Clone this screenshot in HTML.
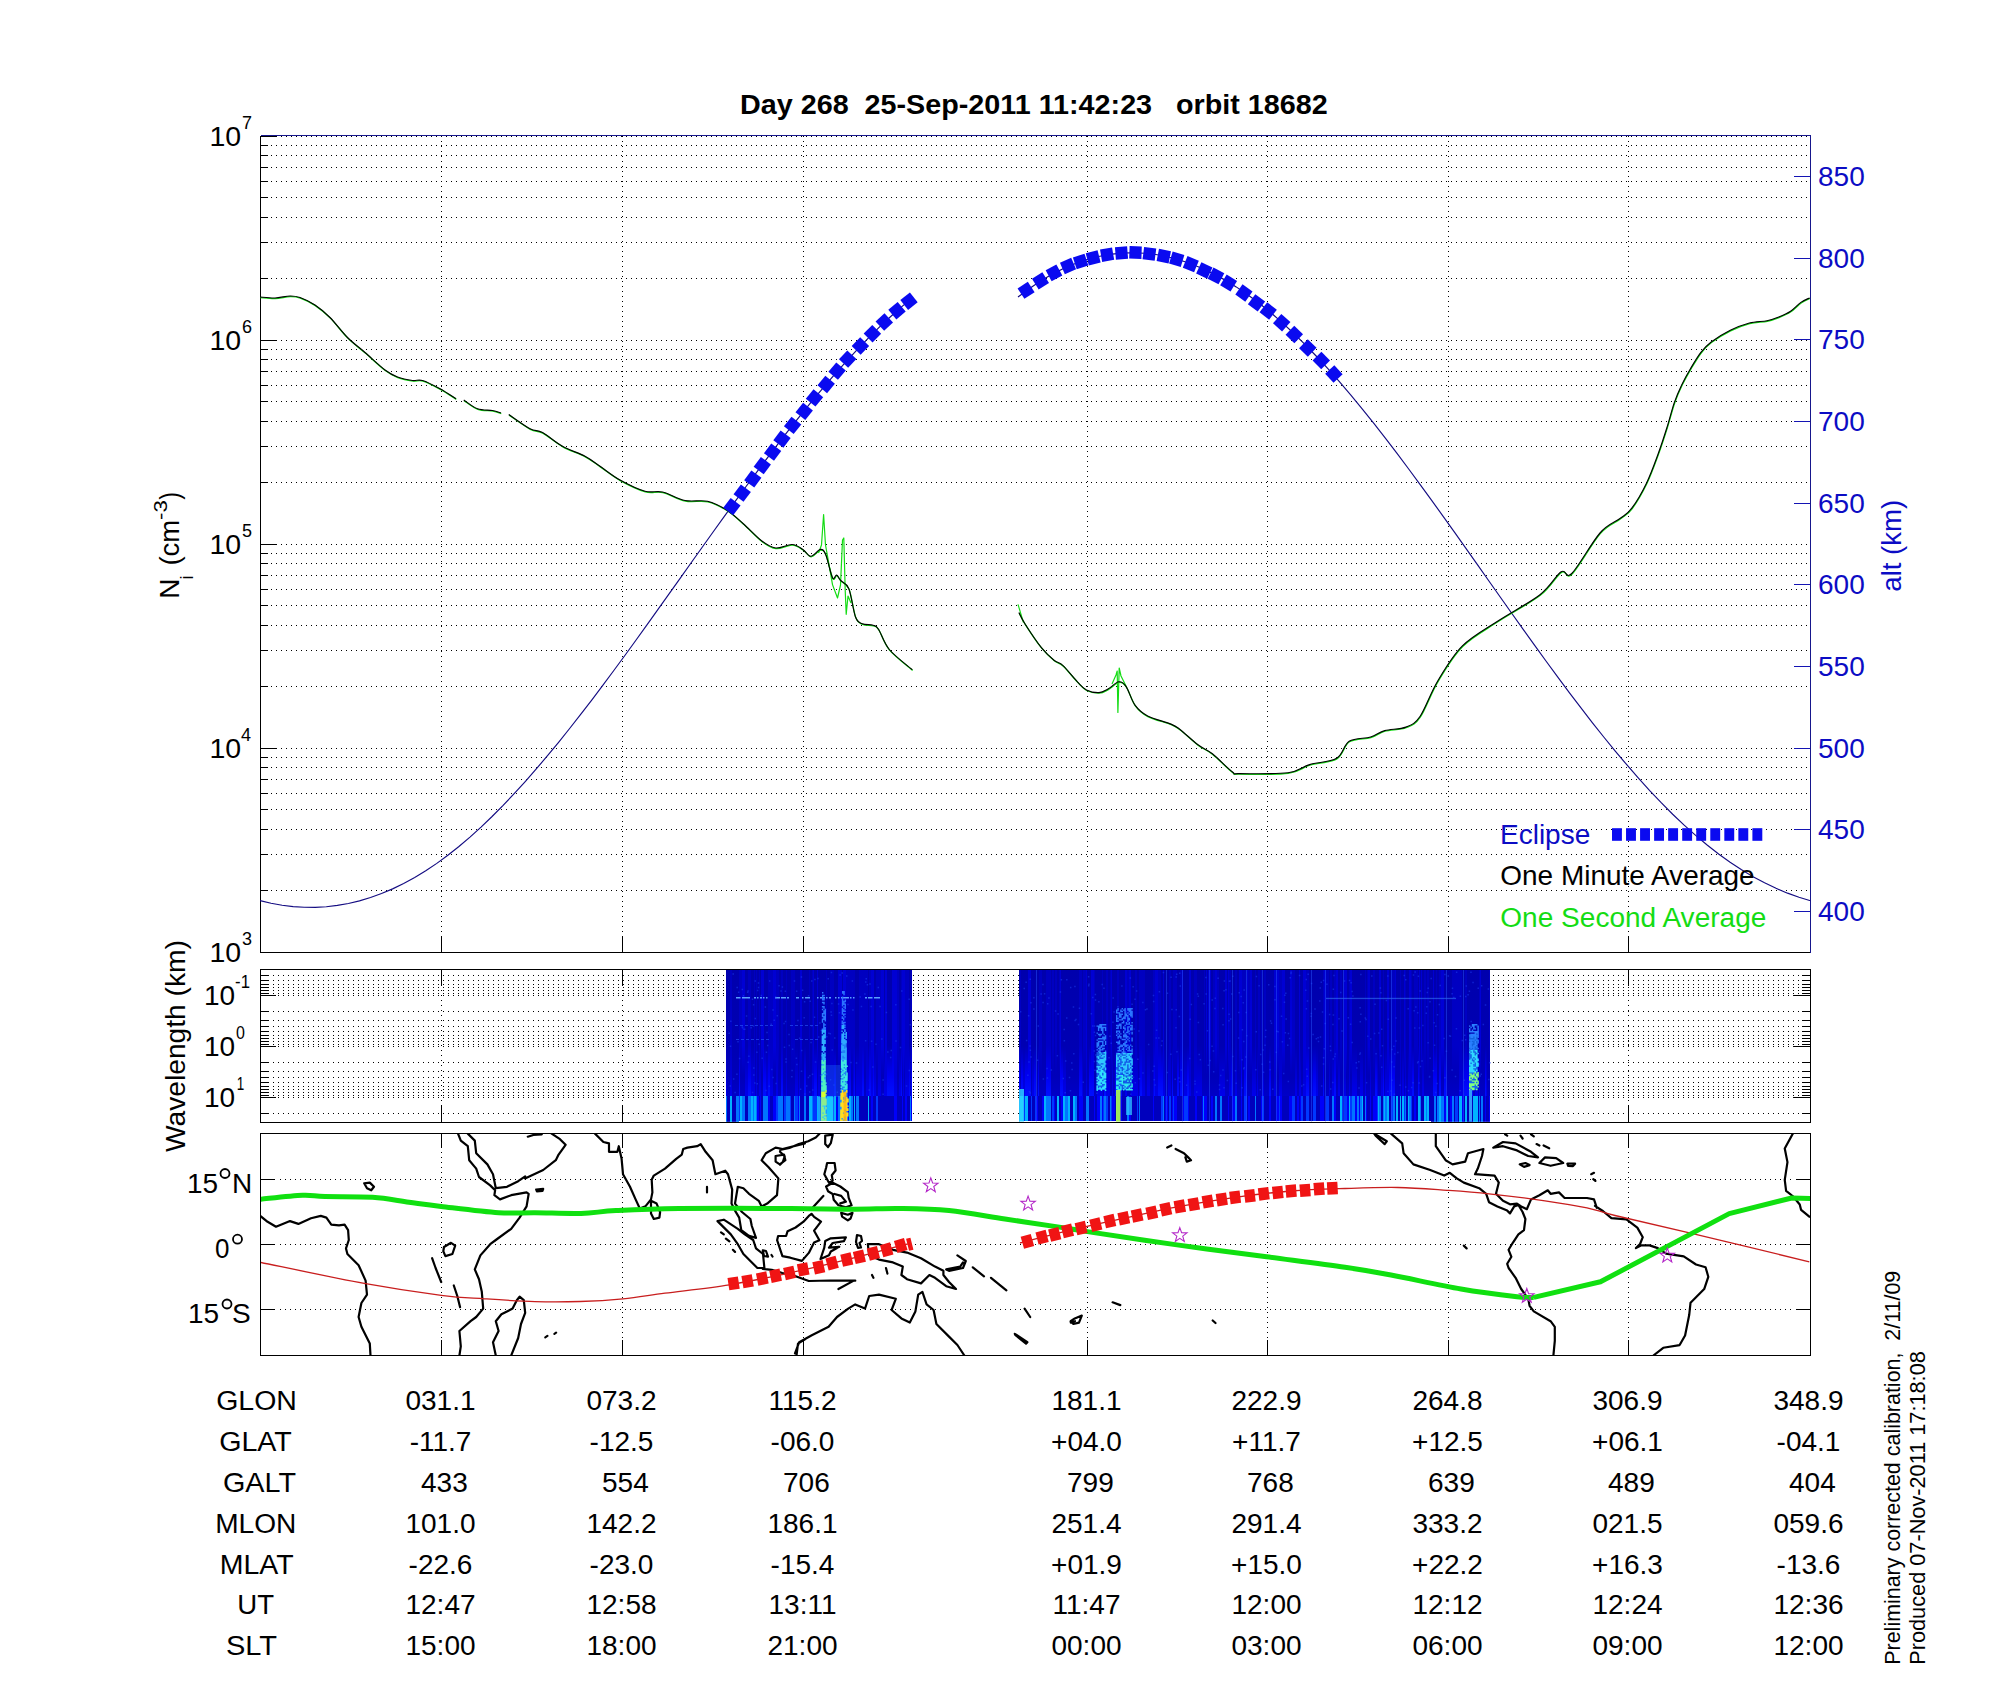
<!DOCTYPE html>
<html><head><meta charset="utf-8"><style>html,body{margin:0;padding:0;background:#fff;}svg{display:block;}</style></head><body>
<svg width="2000" height="1700" viewBox="0 0 2000 1700" font-family="Liberation Sans, sans-serif">
<rect width="2000" height="1700" fill="#fff"/>
<path d="M261 890.5 H1809 M261 854.5 H1809 M261 829.5 H1809 M261 809.5 H1809 M261 793.5 H1809 M261 779.5 H1809 M261 767.5 H1809 M261 757.5 H1809 M261 748.5 H1809 M261 686.5 H1809 M261 650.5 H1809 M261 625.5 H1809 M261 605.5 H1809 M261 589.5 H1809 M261 575.5 H1809 M261 563.5 H1809 M261 553.5 H1809 M261 544.5 H1809 M261 482.5 H1809 M261 446.5 H1809 M261 421.5 H1809 M261 401.5 H1809 M261 385.5 H1809 M261 371.5 H1809 M261 359.5 H1809 M261 349.5 H1809 M261 340.5 H1809 M261 278.5 H1809 M261 242.5 H1809 M261 217.5 H1809 M261 197.5 H1809 M261 181.5 H1809 M261 167.5 H1809 M261 155.5 H1809 M261 145.5 H1809 M261 136.5 H1809" stroke="#000" stroke-width="1" stroke-dasharray="1 4" fill="none" shape-rendering="crispEdges"/>
<path d="M441.5 136 V936 M622.5 136 V936 M803.5 136 V936 M1087.5 136 V936 M1267.5 136 V936 M1448.5 136 V936 M1628.5 136 V936" stroke="#000" stroke-width="1" stroke-dasharray="1 4" fill="none" shape-rendering="crispEdges"/>
<path d="M260 890.5 h8 M260 854.5 h8 M260 829.5 h8 M260 809.5 h8 M260 793.5 h8 M260 779.5 h8 M260 767.5 h8 M260 757.5 h8 M260 748.5 h16 M260 686.5 h8 M260 650.5 h8 M260 625.5 h8 M260 605.5 h8 M260 589.5 h8 M260 575.5 h8 M260 563.5 h8 M260 553.5 h8 M260 544.5 h16 M260 482.5 h8 M260 446.5 h8 M260 421.5 h8 M260 401.5 h8 M260 385.5 h8 M260 371.5 h8 M260 359.5 h8 M260 349.5 h8 M260 340.5 h16 M260 278.5 h8 M260 242.5 h8 M260 217.5 h8 M260 197.5 h8 M260 181.5 h8 M260 167.5 h8 M260 155.5 h8 M260 145.5 h8 M260 136.5 h16 M260 952.5 h16 M441.5 952 v-16 M622.5 952 v-16 M803.5 952 v-16 M1087.5 952 v-16 M1267.5 952 v-16 M1448.5 952 v-16 M1628.5 952 v-16" stroke="#000" stroke-width="1" fill="none" shape-rendering="crispEdges"/>
<path d="M1811 176.5 h-17 M1811 258.5 h-17 M1811 339.5 h-17 M1811 421.5 h-17 M1811 503.5 h-17 M1811 584.5 h-17 M1811 666.5 h-17 M1811 748.5 h-17 M1811 829.5 h-17 M1811 911.5 h-17" stroke="#1414b4" stroke-width="1" fill="none" shape-rendering="crispEdges"/>
<path d="M260.5 952.5 V135.5 M260.5 952.5 H1810.5" stroke="#000" stroke-width="1" fill="none" shape-rendering="crispEdges"/>
<path d="M260.5 135.5 H1810.5 V952.5" stroke="#16168c" stroke-width="1" fill="none" shape-rendering="crispEdges"/>
<path d="M260 900.57 L271.05 903.23 L282.1 905.24 L293.15 906.6 L304.2 907.3 L315.25 907.33 L326.31 906.71 L337.36 905.42 L348.41 903.46 L359.46 900.83 L370.51 897.52 L381.56 893.54 L392.61 888.88 L403.66 883.54 L414.71 877.52 L425.76 870.8 L436.81 863.4 L447.86 855.31 L458.92 846.54 L469.97 837.12 L481.02 827.1 L492.07 816.5 L503.12 805.35 L514.17 793.68 L525.22 781.53 L536.27 768.93 L547.32 755.91 L558.37 742.51 L569.42 728.75 L580.47 714.66 L591.53 700.28 L602.58 685.64 L613.63 670.78 L624.68 655.72 L635.73 640.49 L646.78 625.13 L657.83 609.68 L668.88 594.15 L679.93 578.59 L690.98 563.02 L702.03 547.48 L713.08 532 L724.14 516.61 L735.19 501.35 L746.24 486.24 L757.29 471.31 L768.34 456.6 L779.39 442.13 L790.44 427.93 L801.49 414.03 L812.54 400.47 L823.59 387.26 L834.64 374.45 L845.69 362.06 L856.75 350.11 L867.8 338.65 L878.85 327.69 L889.9 317.28 L900.95 307.43 L912 298.18" stroke="#140c82" stroke-width="1.15" fill="none"/>
<path d="M1018 297.07 L1029.49 288.47 L1040.97 280.82 L1052.46 274.12 L1063.94 268.35 L1075.43 263.5 L1086.91 259.56 L1098.4 256.52 L1109.88 254.38 L1121.37 253.12 L1132.86 252.73 L1144.34 253.21 L1155.83 254.54 L1167.31 256.71 L1178.8 259.71 L1190.28 263.54 L1201.77 268.18 L1213.25 273.63 L1224.74 279.87 L1236.22 286.89 L1247.71 294.69 L1259.2 303.25 L1270.68 312.56 L1282.17 322.57 L1293.65 333.26 L1305.14 344.59 L1316.62 356.5 L1328.11 368.98 L1339.59 381.98 L1351.08 395.46 L1362.57 409.38 L1374.05 423.71 L1385.54 438.4 L1397.02 453.43 L1408.51 468.75 L1419.99 484.32 L1431.48 500.11 L1442.96 516.07 L1454.45 532.18 L1465.93 548.39 L1477.42 564.66 L1488.91 580.96 L1500.39 597.24 L1511.88 613.48 L1523.36 629.62 L1534.85 645.64 L1546.33 661.5 L1557.82 677.16 L1569.3 692.57 L1580.79 707.71 L1592.28 722.53 L1603.76 736.99 L1615.25 751.07 L1626.73 764.71 L1638.22 777.89 L1649.7 790.56 L1661.19 802.68 L1672.67 814.23 L1684.16 825.15 L1695.64 835.42 L1707.13 845.02 L1718.62 853.94 L1730.1 862.19 L1741.59 869.75 L1753.07 876.64 L1764.56 882.84 L1776.04 888.35 L1787.53 893.16 L1799.01 897.28 L1810.5 900.71" stroke="#140c82" stroke-width="1.15" fill="none"/>
<path d="M260 297 C262.5 297.17 270 298.17 275 298 C280 297.83 285.83 296.08 290 296 C294.17 295.92 295.83 296 300 297.5 C304.17 299 310 301.67 315 305 C320 308.33 324.58 312.08 330 317.5 C335.42 322.92 341.67 331.67 347.5 337.5 C353.33 343.33 358.75 347.08 365 352.5 C371.25 357.92 379.58 365.92 385 370 C390.42 374.08 392.92 375.25 397.5 377 C402.08 378.75 408.33 379.92 412.5 380.5 C416.67 381.08 417.92 379.12 422.5 380.5 C427.08 381.88 434.42 385.71 440 388.75 C445.58 391.79 453.33 397.08 456 398.75" stroke="#14dc14" stroke-width="1.3" fill="none" transform="translate(0.3 0.6)"/>
<path d="M463.75 400 C466.04 401.46 472.71 407 477.5 408.75 C482.29 410.5 488.58 409.79 492.5 410.5 C496.42 411.21 499.58 412.58 501 413" stroke="#14dc14" stroke-width="1.3" fill="none" transform="translate(0.3 0.6)"/>
<path d="M508.75 414.5 C512.29 416.88 524.38 425.75 530 428.75 C535.62 431.75 537.08 429.58 542.5 432.5 C547.92 435.42 555.42 442.29 562.5 446.25 C569.58 450.21 578.75 452.92 585 456.25 C591.25 459.58 594.17 462.29 600 466.25 C605.83 470.21 612.5 475.83 620 480 C627.5 484.17 637.92 489.25 645 491.25 C652.08 493.25 655.83 490.46 662.5 492 C669.17 493.54 677.5 498.96 685 500.5 C692.5 502.04 700.5 499.63 707.5 501.25 C714.5 502.87 721.03 506.46 727 510.2 C732.97 513.94 737.43 518.52 743.3 523.7 C749.17 528.88 756.8 537.25 762.2 541.3 C767.6 545.35 770.73 547.47 775.7 548 C780.67 548.53 787.48 544.27 792 544.5 C796.52 544.73 799.65 547.45 802.8 549.4 C805.95 551.35 807.97 556.2 810.9 556.2 C813.83 556.2 817.92 549.63 820.4 549.4 C822.88 549.17 823.78 550.07 825.8 554.8 C827.82 559.53 830.7 574.42 832.5 577.8 C834.3 581.18 835.23 574.65 836.6 575.1 C837.97 575.55 838.67 578.25 840.7 580.5 C842.73 582.75 846.33 582.52 848.8 588.6 C851.27 594.68 853.25 611.13 855.5 617 C857.75 622.87 859.37 622.43 862.3 623.8 C865.23 625.17 870.4 624.3 873.1 625.2 C875.8 626.1 875.8 625.15 878.5 629.2 C881.2 633.25 883.67 642.73 889.3 649.5 C894.93 656.27 908.47 666.42 912.3 669.8" stroke="#14dc14" stroke-width="1.3" fill="none" transform="translate(0.3 0.6)"/>
<path d="M1018.9 612.5 C1019.95 614.45 1021.45 618.35 1025.2 624.2 C1028.95 630.05 1036.6 641.6 1041.4 647.6 C1046.2 653.6 1050.4 657.2 1054 660.2 C1057.6 663.2 1059.1 662 1063 665.6 C1066.9 669.2 1073.5 677.75 1077.4 681.8 C1081.3 685.85 1082.8 688.1 1086.4 689.9 C1090 691.7 1095.4 692.75 1099 692.6 C1102.6 692.45 1104.7 690.8 1108 689 C1111.3 687.2 1115.8 682.25 1118.8 681.8 C1121.8 681.35 1123.3 682.4 1126 686.3 C1128.7 690.2 1131.4 700.25 1135 705.2 C1138.6 710.15 1141.6 712.85 1147.6 716 C1153.6 719.15 1165.6 721.85 1171 724.1 C1176.4 726.35 1175.5 726.05 1180 729.5 C1184.5 732.95 1192.6 740.75 1198 744.8 C1203.4 748.85 1206.7 749.3 1212.4 753.8 C1218.1 758.3 1227.7 768.5 1232.2 771.8 C1236.7 775.1 1230.1 773.45 1239.4 773.6 C1248.7 773.75 1276.3 774.2 1288 772.7 C1299.7 771.2 1301.5 767 1309.6 764.6 C1317.7 762.2 1330 762.2 1336.6 758.3 C1343.2 754.4 1343.53 744.75 1349.2 741.2 C1354.87 737.65 1364.68 738.77 1370.6 737 C1376.52 735.23 1378.82 732.25 1384.7 730.6 C1390.58 728.95 1400.02 729.45 1405.9 727.1 C1411.78 724.75 1414.72 724.15 1420 716.5 C1425.28 708.85 1430.53 692.97 1437.6 681.2 C1444.67 669.43 1452.4 655.9 1462.4 645.9 C1472.4 635.9 1484.67 629.73 1497.6 621.2 C1510.53 612.67 1529.4 602.93 1540 594.7 C1550.6 586.47 1555.9 575.33 1561.2 571.8 C1566.5 568.27 1565.33 579.97 1571.8 573.5 C1578.27 567.03 1591.97 542.17 1600 533 C1608.03 523.83 1614.7 522.63 1620 518.5 C1625.3 514.37 1627.38 514.08 1631.8 508.2 C1636.22 502.32 1642.1 492.27 1646.5 483.2 C1650.9 474.13 1654.78 463.1 1658.2 453.8 C1661.62 444.5 1664.3 435.97 1667 427.4 C1669.7 418.83 1671.93 409.52 1674.4 402.4 C1676.87 395.28 1679.1 390.35 1681.8 384.7 C1684.5 379.05 1687.42 373.88 1690.6 368.5 C1693.78 363.12 1697.47 356.82 1700.9 352.4 C1704.33 347.98 1706.3 345.68 1711.2 342 C1716.1 338.32 1723.93 333.47 1730.3 330.3 C1736.67 327.13 1743.28 324.6 1749.4 323 C1755.52 321.4 1762.1 321.7 1767 320.7 C1771.9 319.7 1774.87 318.58 1778.8 317 C1782.73 315.42 1786.92 313.63 1790.6 311.2 C1794.28 308.77 1797.72 304.62 1800.9 302.4 C1804.08 300.18 1808.23 298.65 1809.7 297.9" stroke="#14dc14" stroke-width="1.3" fill="none" transform="translate(0.3 0.6)"/>
<path d="M818.5 553 L821.5 545 L823.6 514.5 L825.5 545 L827.5 556 L832.5 584.6 L837.5 598 L840.5 585 L842.5 540 L843.8 538 L845.2 590 L846.2 614.3 L848 596 L851 603" stroke="#14dc14" stroke-width="1.2" fill="none" stroke-linejoin="round"/>
<path d="M1018 604.4 L1023.4 622.4" stroke="#14dc14" stroke-width="1.2" fill="none" stroke-linejoin="round"/>
<path d="M1112 684 L1116 675 L1117.2 671 L1117.9 712.4 L1119.2 668 L1121 676 L1126 686" stroke="#14dc14" stroke-width="1.2" fill="none" stroke-linejoin="round"/>
<path d="M260 297 C262.5 297.17 270 298.17 275 298 C280 297.83 285.83 296.08 290 296 C294.17 295.92 295.83 296 300 297.5 C304.17 299 310 301.67 315 305 C320 308.33 324.58 312.08 330 317.5 C335.42 322.92 341.67 331.67 347.5 337.5 C353.33 343.33 358.75 347.08 365 352.5 C371.25 357.92 379.58 365.92 385 370 C390.42 374.08 392.92 375.25 397.5 377 C402.08 378.75 408.33 379.92 412.5 380.5 C416.67 381.08 417.92 379.12 422.5 380.5 C427.08 381.88 434.42 385.71 440 388.75 C445.58 391.79 453.33 397.08 456 398.75" stroke="#000" stroke-width="1.15" fill="none"/>
<path d="M463.75 400 C466.04 401.46 472.71 407 477.5 408.75 C482.29 410.5 488.58 409.79 492.5 410.5 C496.42 411.21 499.58 412.58 501 413" stroke="#000" stroke-width="1.15" fill="none"/>
<path d="M508.75 414.5 C512.29 416.88 524.38 425.75 530 428.75 C535.62 431.75 537.08 429.58 542.5 432.5 C547.92 435.42 555.42 442.29 562.5 446.25 C569.58 450.21 578.75 452.92 585 456.25 C591.25 459.58 594.17 462.29 600 466.25 C605.83 470.21 612.5 475.83 620 480 C627.5 484.17 637.92 489.25 645 491.25 C652.08 493.25 655.83 490.46 662.5 492 C669.17 493.54 677.5 498.96 685 500.5 C692.5 502.04 700.5 499.63 707.5 501.25 C714.5 502.87 721.03 506.46 727 510.2 C732.97 513.94 737.43 518.52 743.3 523.7 C749.17 528.88 756.8 537.25 762.2 541.3 C767.6 545.35 770.73 547.47 775.7 548 C780.67 548.53 787.48 544.27 792 544.5 C796.52 544.73 799.65 547.45 802.8 549.4 C805.95 551.35 807.97 556.2 810.9 556.2 C813.83 556.2 817.92 549.63 820.4 549.4 C822.88 549.17 823.78 550.07 825.8 554.8 C827.82 559.53 830.7 574.42 832.5 577.8 C834.3 581.18 835.23 574.65 836.6 575.1 C837.97 575.55 838.67 578.25 840.7 580.5 C842.73 582.75 846.33 582.52 848.8 588.6 C851.27 594.68 853.25 611.13 855.5 617 C857.75 622.87 859.37 622.43 862.3 623.8 C865.23 625.17 870.4 624.3 873.1 625.2 C875.8 626.1 875.8 625.15 878.5 629.2 C881.2 633.25 883.67 642.73 889.3 649.5 C894.93 656.27 908.47 666.42 912.3 669.8" stroke="#000" stroke-width="1.15" fill="none"/>
<path d="M1018.9 612.5 C1019.95 614.45 1021.45 618.35 1025.2 624.2 C1028.95 630.05 1036.6 641.6 1041.4 647.6 C1046.2 653.6 1050.4 657.2 1054 660.2 C1057.6 663.2 1059.1 662 1063 665.6 C1066.9 669.2 1073.5 677.75 1077.4 681.8 C1081.3 685.85 1082.8 688.1 1086.4 689.9 C1090 691.7 1095.4 692.75 1099 692.6 C1102.6 692.45 1104.7 690.8 1108 689 C1111.3 687.2 1115.8 682.25 1118.8 681.8 C1121.8 681.35 1123.3 682.4 1126 686.3 C1128.7 690.2 1131.4 700.25 1135 705.2 C1138.6 710.15 1141.6 712.85 1147.6 716 C1153.6 719.15 1165.6 721.85 1171 724.1 C1176.4 726.35 1175.5 726.05 1180 729.5 C1184.5 732.95 1192.6 740.75 1198 744.8 C1203.4 748.85 1206.7 749.3 1212.4 753.8 C1218.1 758.3 1227.7 768.5 1232.2 771.8 C1236.7 775.1 1230.1 773.45 1239.4 773.6 C1248.7 773.75 1276.3 774.2 1288 772.7 C1299.7 771.2 1301.5 767 1309.6 764.6 C1317.7 762.2 1330 762.2 1336.6 758.3 C1343.2 754.4 1343.53 744.75 1349.2 741.2 C1354.87 737.65 1364.68 738.77 1370.6 737 C1376.52 735.23 1378.82 732.25 1384.7 730.6 C1390.58 728.95 1400.02 729.45 1405.9 727.1 C1411.78 724.75 1414.72 724.15 1420 716.5 C1425.28 708.85 1430.53 692.97 1437.6 681.2 C1444.67 669.43 1452.4 655.9 1462.4 645.9 C1472.4 635.9 1484.67 629.73 1497.6 621.2 C1510.53 612.67 1529.4 602.93 1540 594.7 C1550.6 586.47 1555.9 575.33 1561.2 571.8 C1566.5 568.27 1565.33 579.97 1571.8 573.5 C1578.27 567.03 1591.97 542.17 1600 533 C1608.03 523.83 1614.7 522.63 1620 518.5 C1625.3 514.37 1627.38 514.08 1631.8 508.2 C1636.22 502.32 1642.1 492.27 1646.5 483.2 C1650.9 474.13 1654.78 463.1 1658.2 453.8 C1661.62 444.5 1664.3 435.97 1667 427.4 C1669.7 418.83 1671.93 409.52 1674.4 402.4 C1676.87 395.28 1679.1 390.35 1681.8 384.7 C1684.5 379.05 1687.42 373.88 1690.6 368.5 C1693.78 363.12 1697.47 356.82 1700.9 352.4 C1704.33 347.98 1706.3 345.68 1711.2 342 C1716.1 338.32 1723.93 333.47 1730.3 330.3 C1736.67 327.13 1743.28 324.6 1749.4 323 C1755.52 321.4 1762.1 321.7 1767 320.7 C1771.9 319.7 1774.87 318.58 1778.8 317 C1782.73 315.42 1786.92 313.63 1790.6 311.2 C1794.28 308.77 1797.72 304.62 1800.9 302.4 C1804.08 300.18 1808.23 298.65 1809.7 297.9" stroke="#000" stroke-width="1.15" fill="none"/>
<g fill="#0a0af0"><rect x="725.8" y="500.35" width="12.2" height="12.5" transform="rotate(-52.45 731.9 506.6)"/><rect x="736.1" y="486.95" width="12.2" height="12.5" transform="rotate(-52.87 742.2 493.2)"/><rect x="746.7" y="472.75" width="12.2" height="12.5" transform="rotate(-53.94 752.8 479)"/><rect x="756.2" y="459.35" width="12.2" height="12.5" transform="rotate(-53.54 762.3 465.6)"/><rect x="766.5" y="445.95" width="12.2" height="12.5" transform="rotate(-53.37 772.6 452.2)"/><rect x="775.9" y="432.85" width="12.2" height="12.5" transform="rotate(-53.27 782 439.1)"/><rect x="786.5" y="419.15" width="12.2" height="12.5" transform="rotate(-51.39 792.6 425.4)"/><rect x="798.1" y="405.05" width="12.2" height="12.5" transform="rotate(-51.47 804.2 411.3)"/><rect x="808.4" y="391.65" width="12.2" height="12.5" transform="rotate(-50.62 814.5 397.9)"/><rect x="820.1" y="378.25" width="12.2" height="12.5" transform="rotate(-49.86 826.2 384.5)"/><rect x="831" y="364.85" width="12.2" height="12.5" transform="rotate(-49.75 837.1 371.1)"/><rect x="841.6" y="352.85" width="12.2" height="12.5" transform="rotate(-47.13 847.7 359.1)"/><rect x="854.3" y="339.75" width="12.2" height="12.5" transform="rotate(-45.8 860.4 346)"/><rect x="866.3" y="327.45" width="12.2" height="12.5" transform="rotate(-45.12 872.4 333.7)"/><rect x="878.2" y="315.75" width="12.2" height="12.5" transform="rotate(-43.07 884.3 322)"/><rect x="890.9" y="304.45" width="12.2" height="12.5" transform="rotate(-40.1 897 310.7)"/><rect x="902.9" y="294.95" width="12.2" height="12.5" transform="rotate(-38.37 909 301.2)"/></g>
<g fill="#0a0af0"><rect x="1020" y="284.05" width="12.2" height="12.5" transform="rotate(-33.14 1026.1 290.3)"/><rect x="1034.4" y="274.65" width="12.2" height="12.5" transform="rotate(-32.1 1040.5 280.9)"/><rect x="1047.9" y="266.55" width="12.2" height="12.5" transform="rotate(-28.45 1054 272.8)"/><rect x="1061.9" y="259.75" width="12.2" height="12.5" transform="rotate(-23.02 1068 266)"/><rect x="1074.5" y="255.25" width="12.2" height="12.5" transform="rotate(-17.82 1080.6 261.5)"/><rect x="1087.1" y="251.65" width="12.2" height="12.5" transform="rotate(-14.39 1093.2 257.9)"/><rect x="1101" y="248.45" width="12.2" height="12.5" transform="rotate(-9.82 1107.1 254.7)"/><rect x="1115.4" y="246.75" width="12.2" height="12.5" transform="rotate(-4.43 1121.5 253)"/><rect x="1129.4" y="246.25" width="12.2" height="12.5" transform="rotate(1.85 1135.5 252.5)"/><rect x="1143.3" y="247.65" width="12.2" height="12.5" transform="rotate(7.25 1149.4 253.9)"/><rect x="1157.7" y="249.85" width="12.2" height="12.5" transform="rotate(11.19 1163.8 256.1)"/><rect x="1170.6" y="253.05" width="12.2" height="12.5" transform="rotate(16.7 1176.7 259.3)"/><rect x="1184.7" y="257.95" width="12.2" height="12.5" transform="rotate(22.09 1190.8 264.2)"/><rect x="1198.2" y="264.25" width="12.2" height="12.5" transform="rotate(24.9 1204.3 270.5)"/><rect x="1209.9" y="269.65" width="12.2" height="12.5" transform="rotate(27.41 1216 275.9)"/><rect x="1222.5" y="276.85" width="12.2" height="12.5" transform="rotate(31.5 1228.6 283.1)"/><rect x="1237.8" y="286.75" width="12.2" height="12.5" transform="rotate(35.36 1243.9 293)"/><rect x="1250.4" y="296.65" width="12.2" height="12.5" transform="rotate(36.53 1256.5 302.9)"/><rect x="1262.1" y="304.75" width="12.2" height="12.5" transform="rotate(38.16 1268.2 311)"/><rect x="1275.6" y="316.45" width="12.2" height="12.5" transform="rotate(41.88 1281.7 322.7)"/><rect x="1288.2" y="328.15" width="12.2" height="12.5" transform="rotate(43.99 1294.3 334.4)"/><rect x="1301.7" y="341.65" width="12.2" height="12.5" transform="rotate(44.03 1307.8 347.9)"/><rect x="1315.2" y="354.25" width="12.2" height="12.5" transform="rotate(45 1321.3 360.5)"/><rect x="1327.8" y="367.75" width="12.2" height="12.5" transform="rotate(46.97 1333.9 374)"/></g>
<g fill="#0a0af0"><rect x="1612" y="828.2" width="9.9" height="12.6"/><rect x="1626.04" y="828.2" width="9.9" height="12.6"/><rect x="1640.08" y="828.2" width="9.9" height="12.6"/><rect x="1654.12" y="828.2" width="9.9" height="12.6"/><rect x="1668.16" y="828.2" width="9.9" height="12.6"/><rect x="1682.2" y="828.2" width="9.9" height="12.6"/><rect x="1696.24" y="828.2" width="9.9" height="12.6"/><rect x="1710.28" y="828.2" width="9.9" height="12.6"/><rect x="1724.32" y="828.2" width="9.9" height="12.6"/><rect x="1738.36" y="828.2" width="9.9" height="12.6"/><rect x="1752.4" y="828.2" width="9.9" height="12.6"/></g>
<defs><linearGradient id="g013" x1="0" y1="0" x2="0" y2="1"><stop offset="0" stop-color="#0000ad"/><stop offset="0.5" stop-color="#0000b3"/><stop offset="0.7" stop-color="#0000d5"/><stop offset="0.83" stop-color="#0000eb"/><stop offset="0.83" stop-color="#0075ff"/><stop offset="1" stop-color="#0075ff"/></linearGradient><linearGradient id="g000" x1="0" y1="0" x2="0" y2="1"><stop offset="0" stop-color="#0000ad"/><stop offset="0.5" stop-color="#0000b3"/><stop offset="0.7" stop-color="#0000b9"/><stop offset="0.83" stop-color="#0000c7"/><stop offset="0.83" stop-color="#0000bd"/><stop offset="1" stop-color="#0000bd"/></linearGradient><linearGradient id="g114" x1="0" y1="0" x2="0" y2="1"><stop offset="0" stop-color="#0000c0"/><stop offset="0.5" stop-color="#0000c7"/><stop offset="0.7" stop-color="#0000d5"/><stop offset="0.83" stop-color="#0000eb"/><stop offset="0.83" stop-color="#00b3ff"/><stop offset="1" stop-color="#00b3ff"/></linearGradient><linearGradient id="g003" x1="0" y1="0" x2="0" y2="1"><stop offset="0" stop-color="#0000ad"/><stop offset="0.5" stop-color="#0000b3"/><stop offset="0.7" stop-color="#0000b9"/><stop offset="0.83" stop-color="#0000c7"/><stop offset="0.83" stop-color="#0075ff"/><stop offset="1" stop-color="#0075ff"/></linearGradient><linearGradient id="g122" x1="0" y1="0" x2="0" y2="1"><stop offset="0" stop-color="#0000c0"/><stop offset="0.5" stop-color="#0000c7"/><stop offset="0.7" stop-color="#0000f2"/><stop offset="0.83" stop-color="#000fff"/><stop offset="0.83" stop-color="#0038ff"/><stop offset="1" stop-color="#0038ff"/></linearGradient><linearGradient id="g104" x1="0" y1="0" x2="0" y2="1"><stop offset="0" stop-color="#0000c0"/><stop offset="0.5" stop-color="#0000c7"/><stop offset="0.7" stop-color="#0000b9"/><stop offset="0.83" stop-color="#0000c7"/><stop offset="0.83" stop-color="#00b3ff"/><stop offset="1" stop-color="#00b3ff"/></linearGradient><linearGradient id="g203" x1="0" y1="0" x2="0" y2="1"><stop offset="0" stop-color="#0000d2"/><stop offset="0.5" stop-color="#0000db"/><stop offset="0.7" stop-color="#0000b9"/><stop offset="0.83" stop-color="#0000c7"/><stop offset="0.83" stop-color="#0075ff"/><stop offset="1" stop-color="#0075ff"/></linearGradient><linearGradient id="g010" x1="0" y1="0" x2="0" y2="1"><stop offset="0" stop-color="#0000ad"/><stop offset="0.5" stop-color="#0000b3"/><stop offset="0.7" stop-color="#0000d5"/><stop offset="0.83" stop-color="#0000eb"/><stop offset="0.83" stop-color="#0000bd"/><stop offset="1" stop-color="#0000bd"/></linearGradient><linearGradient id="g123" x1="0" y1="0" x2="0" y2="1"><stop offset="0" stop-color="#0000c0"/><stop offset="0.5" stop-color="#0000c7"/><stop offset="0.7" stop-color="#0000f2"/><stop offset="0.83" stop-color="#000fff"/><stop offset="0.83" stop-color="#0075ff"/><stop offset="1" stop-color="#0075ff"/></linearGradient><linearGradient id="g014" x1="0" y1="0" x2="0" y2="1"><stop offset="0" stop-color="#0000ad"/><stop offset="0.5" stop-color="#0000b3"/><stop offset="0.7" stop-color="#0000d5"/><stop offset="0.83" stop-color="#0000eb"/><stop offset="0.83" stop-color="#00b3ff"/><stop offset="1" stop-color="#00b3ff"/></linearGradient><linearGradient id="g004" x1="0" y1="0" x2="0" y2="1"><stop offset="0" stop-color="#0000ad"/><stop offset="0.5" stop-color="#0000b3"/><stop offset="0.7" stop-color="#0000b9"/><stop offset="0.83" stop-color="#0000c7"/><stop offset="0.83" stop-color="#00b3ff"/><stop offset="1" stop-color="#00b3ff"/></linearGradient><linearGradient id="g113" x1="0" y1="0" x2="0" y2="1"><stop offset="0" stop-color="#0000c0"/><stop offset="0.5" stop-color="#0000c7"/><stop offset="0.7" stop-color="#0000d5"/><stop offset="0.83" stop-color="#0000eb"/><stop offset="0.83" stop-color="#0075ff"/><stop offset="1" stop-color="#0075ff"/></linearGradient><linearGradient id="g001" x1="0" y1="0" x2="0" y2="1"><stop offset="0" stop-color="#0000ad"/><stop offset="0.5" stop-color="#0000b3"/><stop offset="0.7" stop-color="#0000b9"/><stop offset="0.83" stop-color="#0000c7"/><stop offset="0.83" stop-color="#0000fa"/><stop offset="1" stop-color="#0000fa"/></linearGradient><linearGradient id="g110" x1="0" y1="0" x2="0" y2="1"><stop offset="0" stop-color="#0000c0"/><stop offset="0.5" stop-color="#0000c7"/><stop offset="0.7" stop-color="#0000d5"/><stop offset="0.83" stop-color="#0000eb"/><stop offset="0.83" stop-color="#0000bd"/><stop offset="1" stop-color="#0000bd"/></linearGradient><linearGradient id="g011" x1="0" y1="0" x2="0" y2="1"><stop offset="0" stop-color="#0000ad"/><stop offset="0.5" stop-color="#0000b3"/><stop offset="0.7" stop-color="#0000d5"/><stop offset="0.83" stop-color="#0000eb"/><stop offset="0.83" stop-color="#0000fa"/><stop offset="1" stop-color="#0000fa"/></linearGradient><linearGradient id="g200" x1="0" y1="0" x2="0" y2="1"><stop offset="0" stop-color="#0000d2"/><stop offset="0.5" stop-color="#0000db"/><stop offset="0.7" stop-color="#0000b9"/><stop offset="0.83" stop-color="#0000c7"/><stop offset="0.83" stop-color="#0000bd"/><stop offset="1" stop-color="#0000bd"/></linearGradient><linearGradient id="g223" x1="0" y1="0" x2="0" y2="1"><stop offset="0" stop-color="#0000d2"/><stop offset="0.5" stop-color="#0000db"/><stop offset="0.7" stop-color="#0000f2"/><stop offset="0.83" stop-color="#000fff"/><stop offset="0.83" stop-color="#0075ff"/><stop offset="1" stop-color="#0075ff"/></linearGradient><linearGradient id="g023" x1="0" y1="0" x2="0" y2="1"><stop offset="0" stop-color="#0000ad"/><stop offset="0.5" stop-color="#0000b3"/><stop offset="0.7" stop-color="#0000f2"/><stop offset="0.83" stop-color="#000fff"/><stop offset="0.83" stop-color="#0075ff"/><stop offset="1" stop-color="#0075ff"/></linearGradient><linearGradient id="g121" x1="0" y1="0" x2="0" y2="1"><stop offset="0" stop-color="#0000c0"/><stop offset="0.5" stop-color="#0000c7"/><stop offset="0.7" stop-color="#0000f2"/><stop offset="0.83" stop-color="#000fff"/><stop offset="0.83" stop-color="#0000fa"/><stop offset="1" stop-color="#0000fa"/></linearGradient><linearGradient id="g201" x1="0" y1="0" x2="0" y2="1"><stop offset="0" stop-color="#0000d2"/><stop offset="0.5" stop-color="#0000db"/><stop offset="0.7" stop-color="#0000b9"/><stop offset="0.83" stop-color="#0000c7"/><stop offset="0.83" stop-color="#0000fa"/><stop offset="1" stop-color="#0000fa"/></linearGradient><linearGradient id="g112" x1="0" y1="0" x2="0" y2="1"><stop offset="0" stop-color="#0000c0"/><stop offset="0.5" stop-color="#0000c7"/><stop offset="0.7" stop-color="#0000d5"/><stop offset="0.83" stop-color="#0000eb"/><stop offset="0.83" stop-color="#0038ff"/><stop offset="1" stop-color="#0038ff"/></linearGradient><linearGradient id="g103" x1="0" y1="0" x2="0" y2="1"><stop offset="0" stop-color="#0000c0"/><stop offset="0.5" stop-color="#0000c7"/><stop offset="0.7" stop-color="#0000b9"/><stop offset="0.83" stop-color="#0000c7"/><stop offset="0.83" stop-color="#0075ff"/><stop offset="1" stop-color="#0075ff"/></linearGradient><linearGradient id="g002" x1="0" y1="0" x2="0" y2="1"><stop offset="0" stop-color="#0000ad"/><stop offset="0.5" stop-color="#0000b3"/><stop offset="0.7" stop-color="#0000b9"/><stop offset="0.83" stop-color="#0000c7"/><stop offset="0.83" stop-color="#0038ff"/><stop offset="1" stop-color="#0038ff"/></linearGradient><linearGradient id="g100" x1="0" y1="0" x2="0" y2="1"><stop offset="0" stop-color="#0000c0"/><stop offset="0.5" stop-color="#0000c7"/><stop offset="0.7" stop-color="#0000b9"/><stop offset="0.83" stop-color="#0000c7"/><stop offset="0.83" stop-color="#0000bd"/><stop offset="1" stop-color="#0000bd"/></linearGradient><linearGradient id="g012" x1="0" y1="0" x2="0" y2="1"><stop offset="0" stop-color="#0000ad"/><stop offset="0.5" stop-color="#0000b3"/><stop offset="0.7" stop-color="#0000d5"/><stop offset="0.83" stop-color="#0000eb"/><stop offset="0.83" stop-color="#0038ff"/><stop offset="1" stop-color="#0038ff"/></linearGradient><linearGradient id="g212" x1="0" y1="0" x2="0" y2="1"><stop offset="0" stop-color="#0000d2"/><stop offset="0.5" stop-color="#0000db"/><stop offset="0.7" stop-color="#0000d5"/><stop offset="0.83" stop-color="#0000eb"/><stop offset="0.83" stop-color="#0038ff"/><stop offset="1" stop-color="#0038ff"/></linearGradient><linearGradient id="g022" x1="0" y1="0" x2="0" y2="1"><stop offset="0" stop-color="#0000ad"/><stop offset="0.5" stop-color="#0000b3"/><stop offset="0.7" stop-color="#0000f2"/><stop offset="0.83" stop-color="#000fff"/><stop offset="0.83" stop-color="#0038ff"/><stop offset="1" stop-color="#0038ff"/></linearGradient><linearGradient id="g204" x1="0" y1="0" x2="0" y2="1"><stop offset="0" stop-color="#0000d2"/><stop offset="0.5" stop-color="#0000db"/><stop offset="0.7" stop-color="#0000b9"/><stop offset="0.83" stop-color="#0000c7"/><stop offset="0.83" stop-color="#00b3ff"/><stop offset="1" stop-color="#00b3ff"/></linearGradient><linearGradient id="g021" x1="0" y1="0" x2="0" y2="1"><stop offset="0" stop-color="#0000ad"/><stop offset="0.5" stop-color="#0000b3"/><stop offset="0.7" stop-color="#0000f2"/><stop offset="0.83" stop-color="#000fff"/><stop offset="0.83" stop-color="#0000fa"/><stop offset="1" stop-color="#0000fa"/></linearGradient><linearGradient id="g102" x1="0" y1="0" x2="0" y2="1"><stop offset="0" stop-color="#0000c0"/><stop offset="0.5" stop-color="#0000c7"/><stop offset="0.7" stop-color="#0000b9"/><stop offset="0.83" stop-color="#0000c7"/><stop offset="0.83" stop-color="#0038ff"/><stop offset="1" stop-color="#0038ff"/></linearGradient><linearGradient id="g111" x1="0" y1="0" x2="0" y2="1"><stop offset="0" stop-color="#0000c0"/><stop offset="0.5" stop-color="#0000c7"/><stop offset="0.7" stop-color="#0000d5"/><stop offset="0.83" stop-color="#0000eb"/><stop offset="0.83" stop-color="#0000fa"/><stop offset="1" stop-color="#0000fa"/></linearGradient><linearGradient id="g024" x1="0" y1="0" x2="0" y2="1"><stop offset="0" stop-color="#0000ad"/><stop offset="0.5" stop-color="#0000b3"/><stop offset="0.7" stop-color="#0000f2"/><stop offset="0.83" stop-color="#000fff"/><stop offset="0.83" stop-color="#00b3ff"/><stop offset="1" stop-color="#00b3ff"/></linearGradient><linearGradient id="g213" x1="0" y1="0" x2="0" y2="1"><stop offset="0" stop-color="#0000d2"/><stop offset="0.5" stop-color="#0000db"/><stop offset="0.7" stop-color="#0000d5"/><stop offset="0.83" stop-color="#0000eb"/><stop offset="0.83" stop-color="#0075ff"/><stop offset="1" stop-color="#0075ff"/></linearGradient><linearGradient id="g210" x1="0" y1="0" x2="0" y2="1"><stop offset="0" stop-color="#0000d2"/><stop offset="0.5" stop-color="#0000db"/><stop offset="0.7" stop-color="#0000d5"/><stop offset="0.83" stop-color="#0000eb"/><stop offset="0.83" stop-color="#0000bd"/><stop offset="1" stop-color="#0000bd"/></linearGradient><linearGradient id="g124" x1="0" y1="0" x2="0" y2="1"><stop offset="0" stop-color="#0000c0"/><stop offset="0.5" stop-color="#0000c7"/><stop offset="0.7" stop-color="#0000f2"/><stop offset="0.83" stop-color="#000fff"/><stop offset="0.83" stop-color="#00b3ff"/><stop offset="1" stop-color="#00b3ff"/></linearGradient><linearGradient id="g120" x1="0" y1="0" x2="0" y2="1"><stop offset="0" stop-color="#0000c0"/><stop offset="0.5" stop-color="#0000c7"/><stop offset="0.7" stop-color="#0000f2"/><stop offset="0.83" stop-color="#000fff"/><stop offset="0.83" stop-color="#0000bd"/><stop offset="1" stop-color="#0000bd"/></linearGradient><linearGradient id="g211" x1="0" y1="0" x2="0" y2="1"><stop offset="0" stop-color="#0000d2"/><stop offset="0.5" stop-color="#0000db"/><stop offset="0.7" stop-color="#0000d5"/><stop offset="0.83" stop-color="#0000eb"/><stop offset="0.83" stop-color="#0000fa"/><stop offset="1" stop-color="#0000fa"/></linearGradient><linearGradient id="g220" x1="0" y1="0" x2="0" y2="1"><stop offset="0" stop-color="#0000d2"/><stop offset="0.5" stop-color="#0000db"/><stop offset="0.7" stop-color="#0000f2"/><stop offset="0.83" stop-color="#000fff"/><stop offset="0.83" stop-color="#0000bd"/><stop offset="1" stop-color="#0000bd"/></linearGradient><linearGradient id="g020" x1="0" y1="0" x2="0" y2="1"><stop offset="0" stop-color="#0000ad"/><stop offset="0.5" stop-color="#0000b3"/><stop offset="0.7" stop-color="#0000f2"/><stop offset="0.83" stop-color="#000fff"/><stop offset="0.83" stop-color="#0000bd"/><stop offset="1" stop-color="#0000bd"/></linearGradient><linearGradient id="g101" x1="0" y1="0" x2="0" y2="1"><stop offset="0" stop-color="#0000c0"/><stop offset="0.5" stop-color="#0000c7"/><stop offset="0.7" stop-color="#0000b9"/><stop offset="0.83" stop-color="#0000c7"/><stop offset="0.83" stop-color="#0000fa"/><stop offset="1" stop-color="#0000fa"/></linearGradient><linearGradient id="g202" x1="0" y1="0" x2="0" y2="1"><stop offset="0" stop-color="#0000d2"/><stop offset="0.5" stop-color="#0000db"/><stop offset="0.7" stop-color="#0000b9"/><stop offset="0.83" stop-color="#0000c7"/><stop offset="0.83" stop-color="#0038ff"/><stop offset="1" stop-color="#0038ff"/></linearGradient><linearGradient id="g221" x1="0" y1="0" x2="0" y2="1"><stop offset="0" stop-color="#0000d2"/><stop offset="0.5" stop-color="#0000db"/><stop offset="0.7" stop-color="#0000f2"/><stop offset="0.83" stop-color="#000fff"/><stop offset="0.83" stop-color="#0000fa"/><stop offset="1" stop-color="#0000fa"/></linearGradient><linearGradient id="g214" x1="0" y1="0" x2="0" y2="1"><stop offset="0" stop-color="#0000d2"/><stop offset="0.5" stop-color="#0000db"/><stop offset="0.7" stop-color="#0000d5"/><stop offset="0.83" stop-color="#0000eb"/><stop offset="0.83" stop-color="#00b3ff"/><stop offset="1" stop-color="#00b3ff"/></linearGradient></defs>
<rect x="726" y="969.5" width="1" height="152.1" fill="url(#g013)"/><rect x="727" y="969.5" width="3" height="152.1" fill="url(#g000)"/><rect x="730" y="969.5" width="2" height="152.1" fill="url(#g114)"/><rect x="732" y="969.5" width="4" height="152.1" fill="url(#g000)"/><rect x="736" y="969.5" width="3" height="152.1" fill="url(#g003)"/><rect x="739" y="969.5" width="1" height="152.1" fill="url(#g122)"/><rect x="740" y="969.5" width="2" height="152.1" fill="url(#g104)"/><rect x="742" y="969.5" width="3" height="152.1" fill="url(#g203)"/><rect x="745" y="969.5" width="3" height="152.1" fill="url(#g010)"/><rect x="748" y="969.5" width="3" height="152.1" fill="url(#g123)"/><rect x="751" y="969.5" width="2" height="152.1" fill="url(#g014)"/><rect x="753" y="969.5" width="1" height="152.1" fill="url(#g013)"/><rect x="754" y="969.5" width="1" height="152.1" fill="url(#g114)"/><rect x="755" y="969.5" width="1" height="152.1" fill="url(#g004)"/><rect x="756" y="969.5" width="1" height="152.1" fill="url(#g113)"/><rect x="757" y="969.5" width="2" height="152.1" fill="url(#g001)"/><rect x="759" y="969.5" width="1" height="152.1" fill="url(#g110)"/><rect x="760" y="969.5" width="1" height="152.1" fill="url(#g011)"/><rect x="761" y="969.5" width="2" height="152.1" fill="url(#g200)"/><rect x="763" y="969.5" width="1" height="152.1" fill="url(#g223)"/><rect x="764" y="969.5" width="2" height="152.1" fill="url(#g023)"/><rect x="766" y="969.5" width="2" height="152.1" fill="url(#g013)"/><rect x="768" y="969.5" width="2" height="152.1" fill="url(#g121)"/><rect x="770" y="969.5" width="3" height="152.1" fill="url(#g110)"/><rect x="773" y="969.5" width="3" height="152.1" fill="url(#g201)"/><rect x="776" y="969.5" width="2" height="152.1" fill="url(#g112)"/><rect x="778" y="969.5" width="1" height="152.1" fill="url(#g103)"/><rect x="779" y="969.5" width="2" height="152.1" fill="url(#g003)"/><rect x="781" y="969.5" width="2" height="152.1" fill="url(#g123)"/><rect x="783" y="969.5" width="1" height="152.1" fill="url(#g000)"/><rect x="784" y="969.5" width="2" height="152.1" fill="url(#g002)"/><rect x="786" y="969.5" width="1" height="152.1" fill="url(#g113)"/><rect x="787" y="969.5" width="3" height="152.1" fill="url(#g003)"/><rect x="790" y="969.5" width="1" height="152.1" fill="url(#g002)"/><rect x="791" y="969.5" width="3" height="152.1" fill="url(#g100)"/><rect x="794" y="969.5" width="1" height="152.1" fill="url(#g103)"/><rect x="795" y="969.5" width="3" height="152.1" fill="url(#g012)"/><rect x="798" y="969.5" width="1" height="152.1" fill="url(#g001)"/><rect x="799" y="969.5" width="1" height="152.1" fill="url(#g013)"/><rect x="800" y="969.5" width="2" height="152.1" fill="url(#g200)"/><rect x="802" y="969.5" width="2" height="152.1" fill="url(#g000)"/><rect x="804" y="969.5" width="2" height="152.1" fill="url(#g023)"/><rect x="806" y="969.5" width="3" height="152.1" fill="url(#g000)"/><rect x="809" y="969.5" width="1" height="152.1" fill="url(#g104)"/><rect x="810" y="969.5" width="2" height="152.1" fill="url(#g004)"/><rect x="812" y="969.5" width="1" height="152.1" fill="url(#g113)"/><rect x="813" y="969.5" width="1" height="152.1" fill="url(#g212)"/><rect x="814" y="969.5" width="3" height="152.1" fill="url(#g022)"/><rect x="817" y="969.5" width="1" height="152.1" fill="url(#g204)"/><rect x="818" y="969.5" width="2" height="152.1" fill="url(#g013)"/><rect x="820" y="969.5" width="2" height="152.1" fill="url(#g000)"/><rect x="822" y="969.5" width="1" height="152.1" fill="url(#g021)"/><rect x="823" y="969.5" width="2" height="152.1" fill="url(#g014)"/><rect x="825" y="969.5" width="1" height="152.1" fill="url(#g013)"/><rect x="826" y="969.5" width="1" height="152.1" fill="url(#g102)"/><rect x="827" y="969.5" width="3" height="152.1" fill="url(#g014)"/><rect x="830" y="969.5" width="3" height="152.1" fill="url(#g114)"/><rect x="833" y="969.5" width="1" height="152.1" fill="url(#g111)"/><rect x="834" y="969.5" width="2" height="152.1" fill="url(#g024)"/><rect x="836" y="969.5" width="2" height="152.1" fill="url(#g001)"/><rect x="838" y="969.5" width="4" height="152.1" fill="url(#g203)"/><rect x="842" y="969.5" width="1" height="152.1" fill="url(#g014)"/><rect x="843" y="969.5" width="2" height="152.1" fill="url(#g213)"/><rect x="845" y="969.5" width="1" height="152.1" fill="url(#g210)"/><rect x="846" y="969.5" width="3" height="152.1" fill="url(#g111)"/><rect x="849" y="969.5" width="2" height="152.1" fill="url(#g124)"/><rect x="851" y="969.5" width="2" height="152.1" fill="url(#g103)"/><rect x="853" y="969.5" width="1" height="152.1" fill="url(#g110)"/><rect x="854" y="969.5" width="1" height="152.1" fill="url(#g124)"/><rect x="855" y="969.5" width="1" height="152.1" fill="url(#g000)"/><rect x="856" y="969.5" width="3" height="152.1" fill="url(#g013)"/><rect x="859" y="969.5" width="3" height="152.1" fill="url(#g110)"/><rect x="862" y="969.5" width="2" height="152.1" fill="url(#g120)"/><rect x="864" y="969.5" width="2" height="152.1" fill="url(#g100)"/><rect x="866" y="969.5" width="2" height="152.1" fill="url(#g110)"/><rect x="868" y="969.5" width="1" height="152.1" fill="url(#g014)"/><rect x="869" y="969.5" width="2" height="152.1" fill="url(#g120)"/><rect x="871" y="969.5" width="2" height="152.1" fill="url(#g211)"/><rect x="873" y="969.5" width="1" height="152.1" fill="url(#g220)"/><rect x="874" y="969.5" width="2" height="152.1" fill="url(#g010)"/><rect x="876" y="969.5" width="2" height="152.1" fill="url(#g102)"/><rect x="878" y="969.5" width="3" height="152.1" fill="url(#g110)"/><rect x="881" y="969.5" width="3" height="152.1" fill="url(#g200)"/><rect x="884" y="969.5" width="1" height="152.1" fill="url(#g010)"/><rect x="885" y="969.5" width="2" height="152.1" fill="url(#g210)"/><rect x="887" y="969.5" width="5" height="152.1" fill="url(#g020)"/><rect x="892" y="969.5" width="2" height="152.1" fill="url(#g220)"/><rect x="894" y="969.5" width="3" height="152.1" fill="url(#g211)"/><rect x="897" y="969.5" width="2" height="152.1" fill="url(#g100)"/><rect x="899" y="969.5" width="2" height="152.1" fill="url(#g010)"/><rect x="901" y="969.5" width="1" height="152.1" fill="url(#g120)"/><rect x="902" y="969.5" width="1" height="152.1" fill="url(#g201)"/><rect x="903" y="969.5" width="1" height="152.1" fill="url(#g210)"/><rect x="904" y="969.5" width="1" height="152.1" fill="url(#g200)"/><rect x="905" y="969.5" width="2" height="152.1" fill="url(#g111)"/><rect x="907" y="969.5" width="2" height="152.1" fill="url(#g110)"/><rect x="909" y="969.5" width="1" height="152.1" fill="url(#g020)"/><rect x="910" y="969.5" width="1" height="152.1" fill="url(#g003)"/><rect x="911" y="969.5" width="1" height="152.1" fill="url(#g121)"/><rect x="1019" y="969.5" width="1" height="152.1" fill="url(#g023)"/><rect x="1020" y="969.5" width="1" height="152.1" fill="url(#g104)"/><rect x="1021" y="969.5" width="2" height="152.1" fill="url(#g024)"/><rect x="1023" y="969.5" width="2" height="152.1" fill="url(#g012)"/><rect x="1025" y="969.5" width="3" height="152.1" fill="url(#g024)"/><rect x="1028" y="969.5" width="3" height="152.1" fill="url(#g220)"/><rect x="1031" y="969.5" width="1" height="152.1" fill="url(#g002)"/><rect x="1032" y="969.5" width="2" height="152.1" fill="url(#g010)"/><rect x="1034" y="969.5" width="1" height="152.1" fill="url(#g020)"/><rect x="1035" y="969.5" width="1" height="152.1" fill="url(#g022)"/><rect x="1036" y="969.5" width="2" height="152.1" fill="url(#g001)"/><rect x="1038" y="969.5" width="1" height="152.1" fill="url(#g020)"/><rect x="1039" y="969.5" width="3" height="152.1" fill="url(#g100)"/><rect x="1042" y="969.5" width="2" height="152.1" fill="url(#g001)"/><rect x="1044" y="969.5" width="2" height="152.1" fill="url(#g004)"/><rect x="1046" y="969.5" width="5" height="152.1" fill="url(#g123)"/><rect x="1051" y="969.5" width="1" height="152.1" fill="url(#g000)"/><rect x="1052" y="969.5" width="2" height="152.1" fill="url(#g102)"/><rect x="1054" y="969.5" width="1" height="152.1" fill="url(#g001)"/><rect x="1055" y="969.5" width="2" height="152.1" fill="url(#g100)"/><rect x="1057" y="969.5" width="2" height="152.1" fill="url(#g004)"/><rect x="1059" y="969.5" width="1" height="152.1" fill="url(#g100)"/><rect x="1060" y="969.5" width="1" height="152.1" fill="url(#g220)"/><rect x="1061" y="969.5" width="2" height="152.1" fill="url(#g021)"/><rect x="1063" y="969.5" width="2" height="152.1" fill="url(#g014)"/><rect x="1065" y="969.5" width="1" height="152.1" fill="url(#g013)"/><rect x="1066" y="969.5" width="2" height="152.1" fill="url(#g003)"/><rect x="1068" y="969.5" width="2" height="152.1" fill="url(#g004)"/><rect x="1070" y="969.5" width="3" height="152.1" fill="url(#g000)"/><rect x="1073" y="969.5" width="2" height="152.1" fill="url(#g004)"/><rect x="1075" y="969.5" width="2" height="152.1" fill="url(#g003)"/><rect x="1077" y="969.5" width="2" height="152.1" fill="url(#g000)"/><rect x="1079" y="969.5" width="3" height="152.1" fill="url(#g121)"/><rect x="1082" y="969.5" width="1" height="152.1" fill="url(#g011)"/><rect x="1083" y="969.5" width="3" height="152.1" fill="url(#g100)"/><rect x="1086" y="969.5" width="1" height="152.1" fill="url(#g213)"/><rect x="1087" y="969.5" width="2" height="152.1" fill="url(#g003)"/><rect x="1089" y="969.5" width="2" height="152.1" fill="url(#g020)"/><rect x="1091" y="969.5" width="3" height="152.1" fill="url(#g220)"/><rect x="1094" y="969.5" width="1" height="152.1" fill="url(#g101)"/><rect x="1095" y="969.5" width="2" height="152.1" fill="url(#g000)"/><rect x="1097" y="969.5" width="3" height="152.1" fill="url(#g011)"/><rect x="1100" y="969.5" width="2" height="152.1" fill="url(#g013)"/><rect x="1102" y="969.5" width="1" height="152.1" fill="url(#g111)"/><rect x="1103" y="969.5" width="1" height="152.1" fill="url(#g002)"/><rect x="1104" y="969.5" width="2" height="152.1" fill="url(#g023)"/><rect x="1106" y="969.5" width="2" height="152.1" fill="url(#g112)"/><rect x="1108" y="969.5" width="2" height="152.1" fill="url(#g010)"/><rect x="1110" y="969.5" width="1" height="152.1" fill="url(#g103)"/><rect x="1111" y="969.5" width="1" height="152.1" fill="url(#g202)"/><rect x="1112" y="969.5" width="1" height="152.1" fill="url(#g011)"/><rect x="1113" y="969.5" width="2" height="152.1" fill="url(#g001)"/><rect x="1115" y="969.5" width="1" height="152.1" fill="url(#g020)"/><rect x="1116" y="969.5" width="1" height="152.1" fill="url(#g022)"/><rect x="1117" y="969.5" width="2" height="152.1" fill="url(#g100)"/><rect x="1119" y="969.5" width="3" height="152.1" fill="url(#g021)"/><rect x="1122" y="969.5" width="3" height="152.1" fill="url(#g000)"/><rect x="1125" y="969.5" width="2" height="152.1" fill="url(#g210)"/><rect x="1127" y="969.5" width="2" height="152.1" fill="url(#g103)"/><rect x="1129" y="969.5" width="2" height="152.1" fill="url(#g201)"/><rect x="1131" y="969.5" width="4" height="152.1" fill="url(#g010)"/><rect x="1135" y="969.5" width="2" height="152.1" fill="url(#g110)"/><rect x="1137" y="969.5" width="1" height="152.1" fill="url(#g012)"/><rect x="1138" y="969.5" width="1" height="152.1" fill="url(#g000)"/><rect x="1139" y="969.5" width="1" height="152.1" fill="url(#g113)"/><rect x="1140" y="969.5" width="2" height="152.1" fill="url(#g120)"/><rect x="1142" y="969.5" width="3" height="152.1" fill="url(#g110)"/><rect x="1145" y="969.5" width="2" height="152.1" fill="url(#g000)"/><rect x="1147" y="969.5" width="3" height="152.1" fill="url(#g010)"/><rect x="1150" y="969.5" width="3" height="152.1" fill="url(#g000)"/><rect x="1153" y="969.5" width="1" height="152.1" fill="url(#g111)"/><rect x="1154" y="969.5" width="1" height="152.1" fill="url(#g120)"/><rect x="1155" y="969.5" width="3" height="152.1" fill="url(#g210)"/><rect x="1158" y="969.5" width="3" height="152.1" fill="url(#g120)"/><rect x="1161" y="969.5" width="2" height="152.1" fill="url(#g022)"/><rect x="1163" y="969.5" width="1" height="152.1" fill="url(#g213)"/><rect x="1164" y="969.5" width="1" height="152.1" fill="url(#g010)"/><rect x="1165" y="969.5" width="3" height="152.1" fill="url(#g001)"/><rect x="1168" y="969.5" width="1" height="152.1" fill="url(#g010)"/><rect x="1169" y="969.5" width="2" height="152.1" fill="url(#g112)"/><rect x="1171" y="969.5" width="1" height="152.1" fill="url(#g000)"/><rect x="1172" y="969.5" width="1" height="152.1" fill="url(#g021)"/><rect x="1173" y="969.5" width="1" height="152.1" fill="url(#g102)"/><rect x="1174" y="969.5" width="3" height="152.1" fill="url(#g101)"/><rect x="1177" y="969.5" width="2" height="152.1" fill="url(#g020)"/><rect x="1179" y="969.5" width="1" height="152.1" fill="url(#g000)"/><rect x="1180" y="969.5" width="2" height="152.1" fill="url(#g120)"/><rect x="1182" y="969.5" width="1" height="152.1" fill="url(#g220)"/><rect x="1183" y="969.5" width="1" height="152.1" fill="url(#g001)"/><rect x="1184" y="969.5" width="3" height="152.1" fill="url(#g012)"/><rect x="1187" y="969.5" width="1" height="152.1" fill="url(#g022)"/><rect x="1188" y="969.5" width="1" height="152.1" fill="url(#g021)"/><rect x="1189" y="969.5" width="2" height="152.1" fill="url(#g210)"/><rect x="1191" y="969.5" width="3" height="152.1" fill="url(#g000)"/><rect x="1194" y="969.5" width="1" height="152.1" fill="url(#g110)"/><rect x="1195" y="969.5" width="2" height="152.1" fill="url(#g111)"/><rect x="1197" y="969.5" width="5" height="152.1" fill="url(#g010)"/><rect x="1202" y="969.5" width="1" height="152.1" fill="url(#g001)"/><rect x="1203" y="969.5" width="1" height="152.1" fill="url(#g003)"/><rect x="1204" y="969.5" width="1" height="152.1" fill="url(#g101)"/><rect x="1205" y="969.5" width="1" height="152.1" fill="url(#g001)"/><rect x="1206" y="969.5" width="1" height="152.1" fill="url(#g201)"/><rect x="1207" y="969.5" width="1" height="152.1" fill="url(#g000)"/><rect x="1208" y="969.5" width="3" height="152.1" fill="url(#g200)"/><rect x="1211" y="969.5" width="2" height="152.1" fill="url(#g001)"/><rect x="1213" y="969.5" width="2" height="152.1" fill="url(#g100)"/><rect x="1215" y="969.5" width="2" height="152.1" fill="url(#g203)"/><rect x="1217" y="969.5" width="2" height="152.1" fill="url(#g100)"/><rect x="1219" y="969.5" width="1" height="152.1" fill="url(#g010)"/><rect x="1220" y="969.5" width="2" height="152.1" fill="url(#g013)"/><rect x="1222" y="969.5" width="3" height="152.1" fill="url(#g010)"/><rect x="1225" y="969.5" width="2" height="152.1" fill="url(#g200)"/><rect x="1227" y="969.5" width="1" height="152.1" fill="url(#g000)"/><rect x="1228" y="969.5" width="1" height="152.1" fill="url(#g201)"/><rect x="1229" y="969.5" width="2" height="152.1" fill="url(#g110)"/><rect x="1231" y="969.5" width="1" height="152.1" fill="url(#g020)"/><rect x="1232" y="969.5" width="1" height="152.1" fill="url(#g011)"/><rect x="1233" y="969.5" width="2" height="152.1" fill="url(#g001)"/><rect x="1235" y="969.5" width="2" height="152.1" fill="url(#g113)"/><rect x="1237" y="969.5" width="2" height="152.1" fill="url(#g000)"/><rect x="1239" y="969.5" width="2" height="152.1" fill="url(#g200)"/><rect x="1241" y="969.5" width="1" height="152.1" fill="url(#g221)"/><rect x="1242" y="969.5" width="2" height="152.1" fill="url(#g100)"/><rect x="1244" y="969.5" width="3" height="152.1" fill="url(#g122)"/><rect x="1247" y="969.5" width="1" height="152.1" fill="url(#g200)"/><rect x="1248" y="969.5" width="2" height="152.1" fill="url(#g101)"/><rect x="1250" y="969.5" width="2" height="152.1" fill="url(#g200)"/><rect x="1252" y="969.5" width="3" height="152.1" fill="url(#g010)"/><rect x="1255" y="969.5" width="1" height="152.1" fill="url(#g113)"/><rect x="1256" y="969.5" width="1" height="152.1" fill="url(#g000)"/><rect x="1257" y="969.5" width="1" height="152.1" fill="url(#g010)"/><rect x="1258" y="969.5" width="2" height="152.1" fill="url(#g100)"/><rect x="1260" y="969.5" width="1" height="152.1" fill="url(#g000)"/><rect x="1261" y="969.5" width="1" height="152.1" fill="url(#g101)"/><rect x="1262" y="969.5" width="2" height="152.1" fill="url(#g012)"/><rect x="1264" y="969.5" width="2" height="152.1" fill="url(#g100)"/><rect x="1266" y="969.5" width="3" height="152.1" fill="url(#g000)"/><rect x="1269" y="969.5" width="2" height="152.1" fill="url(#g021)"/><rect x="1271" y="969.5" width="3" height="152.1" fill="url(#g000)"/><rect x="1274" y="969.5" width="2" height="152.1" fill="url(#g210)"/><rect x="1276" y="969.5" width="3" height="152.1" fill="url(#g201)"/><rect x="1279" y="969.5" width="1" height="152.1" fill="url(#g112)"/><rect x="1280" y="969.5" width="2" height="152.1" fill="url(#g111)"/><rect x="1282" y="969.5" width="3" height="152.1" fill="url(#g200)"/><rect x="1285" y="969.5" width="4" height="152.1" fill="url(#g000)"/><rect x="1289" y="969.5" width="1" height="152.1" fill="url(#g001)"/><rect x="1290" y="969.5" width="2" height="152.1" fill="url(#g201)"/><rect x="1292" y="969.5" width="3" height="152.1" fill="url(#g102)"/><rect x="1295" y="969.5" width="2" height="152.1" fill="url(#g010)"/><rect x="1297" y="969.5" width="2" height="152.1" fill="url(#g001)"/><rect x="1299" y="969.5" width="1" height="152.1" fill="url(#g210)"/><rect x="1300" y="969.5" width="1" height="152.1" fill="url(#g011)"/><rect x="1301" y="969.5" width="2" height="152.1" fill="url(#g002)"/><rect x="1303" y="969.5" width="3" height="152.1" fill="url(#g210)"/><rect x="1306" y="969.5" width="3" height="152.1" fill="url(#g122)"/><rect x="1309" y="969.5" width="2" height="152.1" fill="url(#g000)"/><rect x="1311" y="969.5" width="2" height="152.1" fill="url(#g010)"/><rect x="1313" y="969.5" width="3" height="152.1" fill="url(#g022)"/><rect x="1316" y="969.5" width="2" height="152.1" fill="url(#g010)"/><rect x="1318" y="969.5" width="2" height="152.1" fill="url(#g000)"/><rect x="1320" y="969.5" width="3" height="152.1" fill="url(#g001)"/><rect x="1323" y="969.5" width="1" height="152.1" fill="url(#g121)"/><rect x="1324" y="969.5" width="2" height="152.1" fill="url(#g200)"/><rect x="1326" y="969.5" width="3" height="152.1" fill="url(#g102)"/><rect x="1329" y="969.5" width="1" height="152.1" fill="url(#g010)"/><rect x="1330" y="969.5" width="2" height="152.1" fill="url(#g100)"/><rect x="1332" y="969.5" width="2" height="152.1" fill="url(#g013)"/><rect x="1334" y="969.5" width="2" height="152.1" fill="url(#g121)"/><rect x="1336" y="969.5" width="2" height="152.1" fill="url(#g200)"/><rect x="1338" y="969.5" width="2" height="152.1" fill="url(#g010)"/><rect x="1340" y="969.5" width="2" height="152.1" fill="url(#g104)"/><rect x="1342" y="969.5" width="1" height="152.1" fill="url(#g002)"/><rect x="1343" y="969.5" width="1" height="152.1" fill="url(#g100)"/><rect x="1344" y="969.5" width="2" height="152.1" fill="url(#g212)"/><rect x="1346" y="969.5" width="1" height="152.1" fill="url(#g202)"/><rect x="1347" y="969.5" width="2" height="152.1" fill="url(#g001)"/><rect x="1349" y="969.5" width="1" height="152.1" fill="url(#g114)"/><rect x="1350" y="969.5" width="2" height="152.1" fill="url(#g202)"/><rect x="1352" y="969.5" width="3" height="152.1" fill="url(#g013)"/><rect x="1355" y="969.5" width="2" height="152.1" fill="url(#g011)"/><rect x="1357" y="969.5" width="2" height="152.1" fill="url(#g003)"/><rect x="1359" y="969.5" width="1" height="152.1" fill="url(#g001)"/><rect x="1360" y="969.5" width="2" height="152.1" fill="url(#g013)"/><rect x="1362" y="969.5" width="1" height="152.1" fill="url(#g014)"/><rect x="1363" y="969.5" width="2" height="152.1" fill="url(#g000)"/><rect x="1365" y="969.5" width="1" height="152.1" fill="url(#g113)"/><rect x="1366" y="969.5" width="1" height="152.1" fill="url(#g001)"/><rect x="1367" y="969.5" width="1" height="152.1" fill="url(#g100)"/><rect x="1368" y="969.5" width="2" height="152.1" fill="url(#g200)"/><rect x="1370" y="969.5" width="1" height="152.1" fill="url(#g011)"/><rect x="1371" y="969.5" width="2" height="152.1" fill="url(#g000)"/><rect x="1373" y="969.5" width="2" height="152.1" fill="url(#g101)"/><rect x="1375" y="969.5" width="2" height="152.1" fill="url(#g021)"/><rect x="1377" y="969.5" width="1" height="152.1" fill="url(#g012)"/><rect x="1378" y="969.5" width="1" height="152.1" fill="url(#g004)"/><rect x="1379" y="969.5" width="2" height="152.1" fill="url(#g203)"/><rect x="1381" y="969.5" width="2" height="152.1" fill="url(#g010)"/><rect x="1383" y="969.5" width="1" height="152.1" fill="url(#g123)"/><rect x="1384" y="969.5" width="1" height="152.1" fill="url(#g004)"/><rect x="1385" y="969.5" width="2" height="152.1" fill="url(#g013)"/><rect x="1387" y="969.5" width="2" height="152.1" fill="url(#g214)"/><rect x="1389" y="969.5" width="2" height="152.1" fill="url(#g020)"/><rect x="1391" y="969.5" width="2" height="152.1" fill="url(#g122)"/><rect x="1393" y="969.5" width="2" height="152.1" fill="url(#g123)"/><rect x="1395" y="969.5" width="1" height="152.1" fill="url(#g200)"/><rect x="1396" y="969.5" width="2" height="152.1" fill="url(#g004)"/><rect x="1398" y="969.5" width="2" height="152.1" fill="url(#g000)"/><rect x="1400" y="969.5" width="1" height="152.1" fill="url(#g114)"/><rect x="1401" y="969.5" width="1" height="152.1" fill="url(#g000)"/><rect x="1402" y="969.5" width="2" height="152.1" fill="url(#g014)"/><rect x="1404" y="969.5" width="1" height="152.1" fill="url(#g202)"/><rect x="1405" y="969.5" width="1" height="152.1" fill="url(#g113)"/><rect x="1406" y="969.5" width="2" height="152.1" fill="url(#g000)"/><rect x="1408" y="969.5" width="1" height="152.1" fill="url(#g014)"/><rect x="1409" y="969.5" width="2" height="152.1" fill="url(#g213)"/><rect x="1411" y="969.5" width="1" height="152.1" fill="url(#g112)"/><rect x="1412" y="969.5" width="2" height="152.1" fill="url(#g020)"/><rect x="1414" y="969.5" width="2" height="152.1" fill="url(#g101)"/><rect x="1416" y="969.5" width="2" height="152.1" fill="url(#g100)"/><rect x="1418" y="969.5" width="1" height="152.1" fill="url(#g024)"/><rect x="1419" y="969.5" width="1" height="152.1" fill="url(#g214)"/><rect x="1420" y="969.5" width="1" height="152.1" fill="url(#g003)"/><rect x="1421" y="969.5" width="1" height="152.1" fill="url(#g200)"/><rect x="1422" y="969.5" width="2" height="152.1" fill="url(#g010)"/><rect x="1424" y="969.5" width="2" height="152.1" fill="url(#g104)"/><rect x="1426" y="969.5" width="1" height="152.1" fill="url(#g003)"/><rect x="1427" y="969.5" width="2" height="152.1" fill="url(#g104)"/><rect x="1429" y="969.5" width="4" height="152.1" fill="url(#g000)"/><rect x="1433" y="969.5" width="1" height="152.1" fill="url(#g220)"/><rect x="1434" y="969.5" width="2" height="152.1" fill="url(#g023)"/><rect x="1436" y="969.5" width="1" height="152.1" fill="url(#g120)"/><rect x="1437" y="969.5" width="2" height="152.1" fill="url(#g003)"/><rect x="1439" y="969.5" width="2" height="152.1" fill="url(#g124)"/><rect x="1441" y="969.5" width="3" height="152.1" fill="url(#g203)"/><rect x="1444" y="969.5" width="2" height="152.1" fill="url(#g021)"/><rect x="1446" y="969.5" width="1" height="152.1" fill="url(#g014)"/><rect x="1447" y="969.5" width="1" height="152.1" fill="url(#g004)"/><rect x="1448" y="969.5" width="2" height="152.1" fill="url(#g000)"/><rect x="1450" y="969.5" width="2" height="152.1" fill="url(#g001)"/><rect x="1452" y="969.5" width="2" height="152.1" fill="url(#g103)"/><rect x="1454" y="969.5" width="1" height="152.1" fill="url(#g100)"/><rect x="1455" y="969.5" width="3" height="152.1" fill="url(#g102)"/><rect x="1458" y="969.5" width="1" height="152.1" fill="url(#g100)"/><rect x="1459" y="969.5" width="3" height="152.1" fill="url(#g114)"/><rect x="1462" y="969.5" width="2" height="152.1" fill="url(#g011)"/><rect x="1464" y="969.5" width="1" height="152.1" fill="url(#g020)"/><rect x="1465" y="969.5" width="2" height="152.1" fill="url(#g124)"/><rect x="1467" y="969.5" width="3" height="152.1" fill="url(#g020)"/><rect x="1470" y="969.5" width="2" height="152.1" fill="url(#g011)"/><rect x="1472" y="969.5" width="1" height="152.1" fill="url(#g020)"/><rect x="1473" y="969.5" width="2" height="152.1" fill="url(#g004)"/><rect x="1475" y="969.5" width="3" height="152.1" fill="url(#g014)"/><rect x="1478" y="969.5" width="1" height="152.1" fill="url(#g000)"/><rect x="1479" y="969.5" width="1" height="152.1" fill="url(#g113)"/><rect x="1480" y="969.5" width="1" height="152.1" fill="url(#g200)"/><rect x="1481" y="969.5" width="2" height="152.1" fill="url(#g003)"/><rect x="1483" y="969.5" width="2" height="152.1" fill="url(#g000)"/><rect x="1485" y="969.5" width="1" height="152.1" fill="url(#g021)"/><rect x="1486" y="969.5" width="1" height="152.1" fill="url(#g010)"/><rect x="1487" y="969.5" width="2" height="152.1" fill="url(#g000)"/><rect x="1489" y="969.5" width="1" height="152.1" fill="url(#g101)"/><path d="M736 997.8h3M739 997.8h1.5M742 997.8h3M745 997.8h3M748 997.8h2M754 997.8h2M757 997.8h1.5M760 997.8h2M763 997.8h1.5M766 997.8h1.5M775 997.8h3M778 997.8h2M781 997.8h3M784 997.8h2M787 997.8h2M796 997.8h3M802 997.8h1.5M805 997.8h3M808 997.8h2M817 997.8h1.5M820 997.8h2M823 997.8h2M826 997.8h1.5M829 997.8h2M835 997.8h1.5M838 997.8h1.5M841 997.8h3M844 997.8h3M847 997.8h2M850 997.8h1.5M853 997.8h1.5M865 997.8h2M868 997.8h3M871 997.8h1.5M874 997.8h3M877 997.8h3" stroke="#5aa0ff" stroke-width="1.4"/><path d="M735 1025.5h40M790 1025.5h30M736 1039.5h35M795 1039.5h25" stroke="#2a5cff" stroke-width="1.2" stroke-dasharray="3 2" opacity="0.6"/><rect x="1326" y="997.8" width="130" height="1.3" fill="#3c8cff" opacity="0.5"/><path d="M825.25 1073.82h1.5M756.16 1052.31h1.5M756.49 1083.65h1.5M813.79 1017.37h1.5M882.35 1094.36h1.5M791.34 1070.42h1.5M784.81 1021.52h1.5M747.32 991.01h1.5M757.78 987.59h1.5M798.9 1038.37h1.5M751.84 1092.47h1.5M810.33 1042.4h1.5M840.77 1080h1.5M877.55 987.6h1.5M764.63 1006.96h1.5M841.47 1049.67h1.5M809.46 1001.28h1.5M855.8 1062.93h1.5M766.27 1032.42h1.5M819.89 1075.49h1.5M868.44 1089.94h1.5M836.59 1092.28h1.5M817.23 978.52h1.5M851.63 980.96h1.5M821.78 1080.9h1.5M768.92 980.97h1.5M754.12 1083.06h1.5M908.56 1070.5h1.5M830.67 972.38h1.5M738.84 1058.6h1.5M768.5 1086.36h1.5M824.28 1010.04h1.5M770.43 1024.34h1.5M811.03 981.1h1.5M753.11 1067.88h1.5M732.45 973.96h1.5M895.06 1004.72h1.5M795.65 1058.37h1.5M737.9 992.21h1.5M783.74 1047.17h1.5M754.51 980.96h1.5M830.73 1015.17h1.5M765.25 1090.53h1.5M882.37 1080.08h1.5M807.67 1077.58h1.5M865.03 982.01h1.5M870.38 1006.59h1.5M827.49 978.87h1.5M800.7 976.94h1.5M826.07 1036.76h1.5M885.67 1012.58h1.5M842.77 1026.04h1.5M766.96 1045.53h1.5M760.54 995.39h1.5M796.12 1064.59h1.5M736.16 1074.16h1.5M899.73 1047.51h1.5M753.1 1074.95h1.5M801.84 990.24h1.5M881.08 1039.05h1.5M788.29 1034.43h1.5M866.67 984.84h1.5M791.84 1049.35h1.5M771.13 1069.44h1.5M879.28 1006.39h1.5M800.77 1071.24h1.5M795.92 991.35h1.5M889.92 1057.41h1.5M785.28 1061.93h1.5M758.43 1044.19h1.5M819.18 1023.1h1.5M729.74 1046.19h1.5M814.19 979.6h1.5M890.56 1050.39h1.5M736.42 987.62h1.5M841.45 973.01h1.5M834.04 1038.1h1.5M807.8 995.76h1.5M887.09 1052.09h1.5M825.78 1074.57h1.5M791.08 1076.66h1.5M845.07 1044.04h1.5M864.16 994.05h1.5M781.64 987.06h1.5M757.78 983.01h1.5M775.01 996.91h1.5M728.36 1033.16h1.5M804.15 1094.08h1.5M825.21 1084.91h1.5M775.4 1083.56h1.5M864.89 1040.73h1.5M814.79 1061.95h1.5M783.34 1023.57h1.5M830.37 1012.05h1.5M842.65 1093.12h1.5M734.39 1092.55h1.5M756.88 990.39h1.5M797.18 1020.61h1.5M831.14 1003.48h1.5M799.85 1089.14h1.5M869.25 984.03h1.5M773.46 1020.36h1.5M833.25 1085.09h1.5M847.26 1004.44h1.5M805.98 1085.98h1.5M761.44 1058.34h1.5M908.4 999.14h1.5M828.1 1033.35h1.5M788.55 1045.48h1.5M909.54 1024.7h1.5M837.82 1003.89h1.5M752.86 1004.75h1.5M741.61 989.58h1.5M905.77 1086h1.5M780.31 990.88h1.5M831.53 1050.1h1.5M785.3 1059.08h1.5M745.81 1015.92h1.5M811.73 1074.13h1.5M865.52 978.71h1.5M808.97 1092.07h1.5M778.3 985.65h1.5M751.77 999.37h1.5M737.24 1041.75h1.5M800.98 1050.54h1.5M809.05 1075.7h1.5M742.7 995.87h1.5M743.25 1029.28h1.5M793.75 980.95h1.5M765.69 1052.31h1.5M784.63 991.27h1.5M772.27 1009.89h1.5M732.92 1078.94h1.5M901.04 990.95h1.5M772.27 1077.4h1.5M817.95 1037.08h1.5M750.39 1027.79h1.5M850.23 1062.39h1.5M803.87 1001.69h1.5M776.56 1015.81h1.5M754.51 1018.5h1.5M748.15 1056.31h1.5M820.49 1030.39h1.5M822.33 1087.88h1.5M870.84 1041.28h1.5M872.13 1066.93h1.5M729.48 1086.06h1.5M875.25 1044.23h1.5M895.28 1041.01h1.5M803.43 1017.8h1.5M752.85 1026h1.5M829.8 1079.74h1.5M860.7 1006.54h1.5M743.95 1029.17h1.5M859.46 996.9h1.5M730.06 1021.19h1.5M741.48 1027.12h1.5M846 976.12h1.5M852.22 1010.1h1.5M811.12 1025.8h1.5M741.85 1027.63h1.5M746.9 992.32h1.5M747.38 1062.31h1.5M839.32 974.93h1.5M812 1090.04h1.5M838.69 1012.71h1.5M829.54 1033.67h1.5M1332.51 1059.02h1.5M1322.73 1064.05h1.5M1121.16 986.07h1.5M1222.26 1070.1h1.5M1098.11 1001.79h1.5M1480.49 1074.28h1.5M1307.42 974.14h1.5M1043.84 993.77h1.5M1262.76 1072.17h1.5M1310.58 1013.48h1.5M1475.84 1081.35h1.5M1328.84 1014.57h1.5M1310.41 1016.14h1.5M1415.11 1006.97h1.5M1175.43 977.05h1.5M1205.47 994.08h1.5M1418.64 1027.94h1.5M1255.65 976.57h1.5M1433.81 1045.13h1.5M1135.84 991.01h1.5M1241.66 1029.63h1.5M1170.32 977.13h1.5M1229.91 1018.98h1.5M1404.98 1087.04h1.5M1112.18 1022.17h1.5M1064.95 1061.02h1.5M1028.26 1061.89h1.5M1432.59 1070.73h1.5M1025.84 1040.49h1.5M1217.35 978.15h1.5M1448.93 1035.86h1.5M1138.23 1031.1h1.5M1427.42 988.18h1.5M1391.21 1049.45h1.5M1467.33 994.76h1.5M1117.64 1057.86h1.5M1324.47 1023.39h1.5M1160.73 1045.5h1.5M1132.39 986.83h1.5M1073.06 1053.65h1.5M1175.97 974.14h1.5M1463.99 1035.14h1.5M1429.25 1001.74h1.5M1255.05 1069.63h1.5M1314.24 1009.01h1.5M1153.42 1066.14h1.5M1356.12 1067.96h1.5M1128.65 1056.07h1.5M1463.55 1080.15h1.5M1179.55 986.02h1.5M1093.81 1025.99h1.5M1488.95 1062.64h1.5M1470.17 1062.68h1.5M1077.78 1024.38h1.5M1443.33 1038.62h1.5M1194.27 1081.3h1.5M1264.8 1036.82h1.5M1189.4 1019.26h1.5M1348.79 980.53h1.5M1153.55 1079.68h1.5M1023.5 988.5h1.5M1074.35 1020.47h1.5M1473.62 1064.4h1.5M1347.61 1017.79h1.5M1123.73 1089.35h1.5M1322.84 1057.63h1.5M1046.32 1068.51h1.5M1426.59 992.55h1.5M1319.48 988.07h1.5M1435.08 1026.26h1.5M1404.99 979.87h1.5M1459.44 1090.73h1.5M1455.71 1028.66h1.5M1429.38 1058.22h1.5M1155.48 1037.89h1.5M1241.39 1059.85h1.5M1397.1 1052.52h1.5M1390.95 1062.07h1.5M1323.58 1048.72h1.5M1332.62 989.32h1.5M1042.34 1002.43h1.5M1284.61 1032.75h1.5M1069.69 1090.8h1.5M1374.24 1004.2h1.5M1302.83 1084.84h1.5M1134.28 999.32h1.5M1319.7 1037.01h1.5M1343.79 980.88h1.5M1418.37 1082.92h1.5M1430.43 978.4h1.5M1287.01 1045.21h1.5M1103.21 988.15h1.5M1094.76 999.97h1.5M1092.04 997.38h1.5M1417.67 976.31h1.5M1274.16 986.55h1.5M1116.39 1056.75h1.5M1469.73 1062.81h1.5M1158.67 991.8h1.5M1243.41 989.88h1.5M1285.45 1018.94h1.5M1461.54 1040.51h1.5M1075.22 1019.48h1.5M1308.04 1048.09h1.5M1358.04 1061.84h1.5M1305.52 979.52h1.5M1242.57 1002.82h1.5M1142.13 1002.5h1.5M1030.18 1057.12h1.5M1465.57 986.11h1.5M1071.38 1069.58h1.5M1322.82 980.39h1.5M1243 1041.61h1.5M1171.19 1009.39h1.5M1234.74 1070.67h1.5M1246.14 1035.76h1.5M1194.33 1083.95h1.5M1414.04 1027.89h1.5M1212.69 1050.97h1.5M1188.97 1058.41h1.5M1138.75 1078.83h1.5M1317.76 1041.6h1.5M1468.66 991.33h1.5M1445.68 1051.25h1.5M1476.97 1058.11h1.5M1129.58 977.88h1.5M1391.31 1080.17h1.5M1207.59 1065.16h1.5M1439.49 985.53h1.5M1427.41 1042.64h1.5M1438.58 1004.52h1.5M1074.2 986.4h1.5M1275.57 1052.16h1.5M1154.29 1085.08h1.5M1317.34 1037.71h1.5M1205.23 977.4h1.5M1473.15 1065.95h1.5M1358.28 1088.12h1.5M1379.65 988.02h1.5M1300.97 1085.91h1.5M1403.49 975.58h1.5M1447.49 976.11h1.5M1218.8 1089.57h1.5M1212.93 1071.84h1.5M1042.21 984.56h1.5M1175.25 1027.83h1.5M1334.62 1054.11h1.5M1285.06 993.36h1.5M1478.41 1051.14h1.5M1319.05 1000.93h1.5M1059.65 991.99h1.5M1360.13 1014.34h1.5M1272.01 1089.14h1.5M1422.1 1025.5h1.5M1269 1062.04h1.5M1412.28 1082.67h1.5M1128.49 1055.98h1.5M1350.37 982.79h1.5M1240.41 996.49h1.5M1262.25 1050.03h1.5M1094.17 1070.27h1.5M1094.81 1035.39h1.5M1096.04 1093.18h1.5M1261.42 1064.32h1.5M1387.11 975.89h1.5M1484.78 1005.03h1.5M1320.92 1086.07h1.5M1269.87 1021h1.5M1166.71 993.36h1.5M1287.59 1081.53h1.5M1132.73 1077.35h1.5M1459.61 996.36h1.5M1380.94 1067.37h1.5M1050.56 1070.08h1.5M1419.45 991.04h1.5M1040.38 994.01h1.5M1093.66 1032.33h1.5M1146.2 1008.94h1.5M1223.34 990.74h1.5M1228.65 981.35h1.5M1426.09 1006.71h1.5M1312.37 1034.38h1.5M1453.1 997.43h1.5M1029.52 979.29h1.5M1218.73 1085.01h1.5M1352.18 995.92h1.5M1387.56 1019.16h1.5M1134.56 1082.69h1.5M1198.47 1054.52h1.5M1090.59 1013.83h1.5M1488.1 1079.49h1.5M1436.74 1014.74h1.5M1482.6 1024.39h1.5M1042.61 1079.02h1.5M1060.62 979.7h1.5M1369.97 1039.11h1.5M1129.22 1032.69h1.5M1175.52 1009.68h1.5M1072.71 1007.05h1.5M1142.26 1072.93h1.5M1166.62 1072.52h1.5M1444.16 974.42h1.5M1290.25 973.52h1.5M1265.05 1030.28h1.5M1332.2 1024.48h1.5M1101.44 984.46h1.5M1321.81 1012.03h1.5M1197.66 1022.42h1.5M1470.45 1021.46h1.5M1476.2 1026.51h1.5M1451.72 988.25h1.5M1364.58 1017.89h1.5M1019.85 1011.73h1.5M1232.06 976.33h1.5M1162.7 972.45h1.5M1341.26 1031.08h1.5M1178.62 1016.43h1.5M1259.97 1054.62h1.5M1223.29 1087.63h1.5M1290.37 972.23h1.5M1232.05 1056.46h1.5M1416.92 1012.72h1.5M1100.95 1029.29h1.5M1281.65 1041.85h1.5M1380.96 1029.28h1.5M1088.01 985.68h1.5M1176.23 1051.86h1.5M1413.42 1010.76h1.5M1219.94 1075.58h1.5M1196.83 994.03h1.5M1428.87 1076.55h1.5M1245.49 1012.59h1.5M1068.75 1077.52h1.5M1470.68 1046.2h1.5M1130.11 1094.25h1.5M1387.2 1091.46h1.5M1133.37 1028.91h1.5M1117.06 1062.68h1.5M1289.47 977.67h1.5M1359.39 1007.68h1.5M1380.12 992.64h1.5M1243.03 1068.83h1.5M1066.01 1017.92h1.5M1277.32 1031.65h1.5M1199.61 1059.69h1.5M1209.34 1060.58h1.5M1029.43 1093.01h1.5M1228.19 1020.65h1.5M1393.6 1094.23h1.5M1117.2 1006.76h1.5M1282.95 1073.62h1.5M1259.47 1089.77h1.5M1390.21 1091.07h1.5M1395.27 1017.91h1.5M1269.29 1069.67h1.5M1417.49 1061.74h1.5M1105.35 1052.98h1.5M1365.28 1019.4h1.5M1093.55 1050.91h1.5M1378.17 1032.91h1.5M1037.58 1025.9h1.5M1351.45 1042.47h1.5M1178.16 1077.96h1.5M1487.6 988.9h1.5M1270.71 1023.15h1.5M1464.98 996.48h1.5M1064.48 1092.81h1.5M1113.32 1012.1h1.5M1231 994.07h1.5M1069.94 987.39h1.5M1444.15 1077.73h1.5M1255.48 1031.69h1.5M1315.6 1038.81h1.5M1454.75 1076.58h1.5M1329.88 1089.09h1.5M1029.62 1050.22h1.5M1223.69 981.01h1.5M1464.94 1039.81h1.5M1407.67 1090.81h1.5M1349.89 1024.23h1.5M1225.23 989.66h1.5M1211.45 1000.1h1.5M1036.77 1060.15h1.5M1125.69 1012.03h1.5M1158.07 1037.91h1.5M1222.33 1024.71h1.5M1451.36 1070.11h1.5M1185.99 1085.19h1.5M1029.3 1046.06h1.5M1305.95 1069.31h1.5M1238.48 992.76h1.5M1066.06 979.85h1.5M1235.46 1083.17h1.5M1147.92 1044.48h1.5M1332.68 1014.94h1.5M1280.8 1016.3h1.5M1326.18 984.24h1.5M1306.56 1076.16h1.5M1088.22 984.25h1.5M1371.05 975.89h1.5M1360.13 974.6h1.5M1334.14 1056.61h1.5M1170.08 1054.33h1.5M1332.02 1082.54h1.5M1333.24 975.38h1.5M1030.17 1002.85h1.5M1393.07 1046.23h1.5M1108.27 1057.73h1.5M1477.46 988.29h1.5M1310.82 983.54h1.5M1355.51 1062.85h1.5M1470.86 1061.72h1.5M1211.32 1046.36h1.5M1155.83 1030.22h1.5M1033.13 1009.09h1.5M1197.57 996.17h1.5M1433.41 1022.87h1.5M1320.49 982.28h1.5M1351.36 991.55h1.5M1179.01 973.32h1.5M1214.25 1008.61h1.5M1071.02 1063.01h1.5M1095.05 1055.11h1.5M1238.11 1012.51h1.5M1375.3 1053.73h1.5M1412.74 975.11h1.5M1078.7 1008.35h1.5M1131.34 1004.36h1.5M1288.86 1038.38h1.5M1367.04 1036.22h1.5M1393.95 1054.12h1.5M1434.96 1092.52h1.5M1082.5 1082.28h1.5M1127.43 1064.01h1.5M1416.9 1062.66h1.5M1226.62 1080.43h1.5M1472.29 982.56h1.5M1480.91 985.87h1.5M1451.35 993.74h1.5M1152.72 995.45h1.5M1380.18 1055.75h1.5M1419.69 1066.38h1.5M1033.14 997.86h1.5M1091.96 1025.99h1.5M1180.52 1070.12h1.5M1359.04 1054.28h1.5M1245.09 1057.1h1.5M1222.06 1008.61h1.5M1054.81 1010.89h1.5M1144.7 1009.63h1.5M1395.25 1041h1.5M1425.5 1013.18h1.5M1027.88 1015.65h1.5M1264.28 1045.21h1.5M1393.36 1066.74h1.5M1137.08 1059.31h1.5M1373.83 1033.51h1.5M1025.37 982.15h1.5M1203.34 1003.7h1.5M1381.75 1045.76h1.5M1338.3 1018.84h1.5M1109.26 1036.33h1.5M1120.98 1046.34h1.5M1274.25 999.68h1.5M1152.16 1070.97h1.5M1094.65 994.61h1.5M1228.35 1014.18h1.5M1284.13 995.19h1.5M1046.65 1078.03h1.5M1241.32 1087.69h1.5M1093.59 1061.4h1.5M1305.64 1008.74h1.5M1428.76 1076.91h1.5M1258.37 985.7h1.5M1359.49 1021.8h1.5M1121.98 1065.7h1.5M1063.46 1029.45h1.5M1407.46 1008.79h1.5M1190.62 1004.38h1.5M1421.29 1060.94h1.5M1276.07 1031.33h1.5M1195.97 1092.06h1.5M1046.95 1003.64h1.5M1267.98 984.77h1.5M1455.87 972.25h1.5M1179.17 1081.69h1.5M1365.81 1082.86h1.5M1399.22 1085.37h1.5M1478.13 1064.17h1.5M1305.04 990.37h1.5M1229.29 981.05h1.5M1206.72 1030.71h1.5M1056.63 1055.72h1.5M1329.62 1046.13h1.5M1414.38 972.08h1.5M1329.9 1050.41h1.5M1283.72 1002.18h1.5M1057.32 1014h1.5M1298.83 975.59h1.5M1306.73 1001.11h1.5M1479.5 1076.04h1.5M1449.66 1036.31h1.5M1287.69 1033.59h1.5M1112.45 998.04h1.5M1161.37 1040.99h1.5M1470.23 972.36h1.5M1087.88 976.76h1.5M1063.6 1040.66h1.5M1214.54 998.36h1.5M1110.49 1043.35h1.5M1152.88 1001.46h1.5M1027.11 1075.16h1.5M1237.91 1037.93h1.5M1339.99 992.6h1.5M1062.51 1078.51h1.5M1048.2 998.1h1.5M1385.67 1000.52h1.5M1028.72 1091.75h1.5M1174.42 1079.17h1.5M1243.44 1067.86h1.5M1410.94 1087.39h1.5M1436.29 1083.43h1.5M1359.56 1052.99h1.5" stroke="#1a3cf0" stroke-width="1.5" opacity="0.55"/><path d="M821.5 1055 L825.5 1055 L826.5 1121.6 L820.5 1121.6 Z" fill="#30c8ff" opacity="0.8"/><path d="M822 992h1.4v1.4h-1.4zM821.98 994.8h1.4v1.4h-1.4zM823.38 994.8h1.4v1.4h-1.4zM821.97 996.2h1.4v1.4h-1.4zM821.96 997.6h1.4v1.4h-1.4zM823.36 997.6h1.4v1.4h-1.4zM821.95 999h1.4v1.4h-1.4zM823.35 999h1.4v1.4h-1.4zM821.92 1001.8h1.4v1.4h-1.4zM823.32 1001.8h1.4v1.4h-1.4zM823.31 1003.2h1.4v1.4h-1.4zM821.89 1006h1.4v1.4h-1.4zM823.29 1006h1.4v1.4h-1.4zM823.28 1007.4h1.4v1.4h-1.4zM821.87 1008.8h1.4v1.4h-1.4zM824.67 1008.8h1.4v1.4h-1.4zM823.26 1010.2h1.4v1.4h-1.4zM824.66 1010.2h1.4v1.4h-1.4zM823.25 1011.6h1.4v1.4h-1.4zM824.65 1011.6h1.4v1.4h-1.4zM821.84 1013h1.4v1.4h-1.4zM823.24 1013h1.4v1.4h-1.4zM824.64 1013h1.4v1.4h-1.4zM821.83 1014.4h1.4v1.4h-1.4zM824.63 1014.4h1.4v1.4h-1.4zM821.82 1015.8h1.4v1.4h-1.4zM823.22 1015.8h1.4v1.4h-1.4zM824.62 1015.8h1.4v1.4h-1.4zM823.21 1017.2h1.4v1.4h-1.4zM824.61 1017.2h1.4v1.4h-1.4zM821.79 1018.6h1.4v1.4h-1.4zM823.19 1018.6h1.4v1.4h-1.4zM824.59 1018.6h1.4v1.4h-1.4zM821.78 1020h1.4v1.4h-1.4zM824.58 1020h1.4v1.4h-1.4zM821.77 1021.4h1.4v1.4h-1.4zM823.16 1022.8h1.4v1.4h-1.4zM823.15 1024.2h1.4v1.4h-1.4zM824.55 1024.2h1.4v1.4h-1.4zM823.14 1025.6h1.4v1.4h-1.4zM823.13 1027h1.4v1.4h-1.4zM824.53 1027h1.4v1.4h-1.4zM821.72 1028.4h1.4v1.4h-1.4zM823.12 1028.4h1.4v1.4h-1.4zM824.52 1028.4h1.4v1.4h-1.4zM821.71 1029.8h1.4v1.4h-1.4zM823.11 1029.8h1.4v1.4h-1.4zM824.51 1029.8h1.4v1.4h-1.4z" fill="#2a78ff"/><path d="M821.71 1030h1.4v1.4h-1.4zM823.11 1030h1.4v1.4h-1.4zM824.51 1030h1.4v1.4h-1.4zM821.7 1031.4h1.4v1.4h-1.4zM823.1 1031.4h1.4v1.4h-1.4zM824.5 1031.4h1.4v1.4h-1.4zM821.69 1032.8h1.4v1.4h-1.4zM824.49 1032.8h1.4v1.4h-1.4zM823.07 1034.2h1.4v1.4h-1.4zM824.47 1034.2h1.4v1.4h-1.4zM821.66 1035.6h1.4v1.4h-1.4zM823.06 1035.6h1.4v1.4h-1.4zM824.46 1035.6h1.4v1.4h-1.4zM821.65 1037h1.4v1.4h-1.4zM823.05 1037h1.4v1.4h-1.4zM824.45 1037h1.4v1.4h-1.4zM821.64 1038.4h1.4v1.4h-1.4zM823.04 1038.4h1.4v1.4h-1.4zM821.63 1039.8h1.4v1.4h-1.4zM823.03 1039.8h1.4v1.4h-1.4zM824.43 1039.8h1.4v1.4h-1.4zM821.62 1041.2h1.4v1.4h-1.4zM823.02 1041.2h1.4v1.4h-1.4zM824.42 1041.2h1.4v1.4h-1.4zM821.61 1042.6h1.4v1.4h-1.4zM823.01 1042.6h1.4v1.4h-1.4zM824.41 1042.6h1.4v1.4h-1.4zM823 1044h1.4v1.4h-1.4zM821.59 1045.4h1.4v1.4h-1.4zM822.99 1045.4h1.4v1.4h-1.4zM821.58 1046.8h1.4v1.4h-1.4zM822.98 1046.8h1.4v1.4h-1.4zM824.38 1046.8h1.4v1.4h-1.4zM821.57 1048.2h1.4v1.4h-1.4zM822.97 1048.2h1.4v1.4h-1.4zM824.37 1048.2h1.4v1.4h-1.4zM821.56 1049.6h1.4v1.4h-1.4zM822.96 1049.6h1.4v1.4h-1.4zM824.36 1049.6h1.4v1.4h-1.4zM822.94 1051h1.4v1.4h-1.4zM821.53 1052.4h1.4v1.4h-1.4zM824.33 1052.4h1.4v1.4h-1.4zM821.52 1053.8h1.4v1.4h-1.4zM822.92 1053.8h1.4v1.4h-1.4zM824.32 1053.8h1.4v1.4h-1.4zM821.51 1055.2h1.4v1.4h-1.4zM824.31 1055.2h1.4v1.4h-1.4zM822.9 1056.6h1.4v1.4h-1.4zM822.89 1058h1.4v1.4h-1.4zM824.29 1058h1.4v1.4h-1.4zM824.28 1059.4h1.4v1.4h-1.4z" fill="#30b0ff"/><path d="M821.48 1060h1.4v1.4h-1.4zM824.28 1060h1.4v1.4h-1.4zM821.46 1061.4h1.4v1.4h-1.4zM822.86 1061.4h1.4v1.4h-1.4zM824.26 1061.4h1.4v1.4h-1.4zM821.45 1062.8h1.4v1.4h-1.4zM822.85 1062.8h1.4v1.4h-1.4zM824.25 1062.8h1.4v1.4h-1.4zM824.24 1064.2h1.4v1.4h-1.4zM821.43 1065.6h1.4v1.4h-1.4zM822.83 1065.6h1.4v1.4h-1.4zM824.23 1065.6h1.4v1.4h-1.4zM821.42 1067h1.4v1.4h-1.4zM822.82 1067h1.4v1.4h-1.4zM824.22 1067h1.4v1.4h-1.4zM821.41 1068.4h1.4v1.4h-1.4zM824.21 1068.4h1.4v1.4h-1.4zM821.4 1069.8h1.4v1.4h-1.4zM822.8 1069.8h1.4v1.4h-1.4zM824.2 1069.8h1.4v1.4h-1.4zM821.39 1071.2h1.4v1.4h-1.4zM822.79 1071.2h1.4v1.4h-1.4zM821.38 1072.6h1.4v1.4h-1.4zM824.18 1072.6h1.4v1.4h-1.4zM822.77 1074h1.4v1.4h-1.4zM821.36 1075.4h1.4v1.4h-1.4zM822.76 1075.4h1.4v1.4h-1.4zM824.16 1075.4h1.4v1.4h-1.4zM821.35 1076.8h1.4v1.4h-1.4zM822.75 1076.8h1.4v1.4h-1.4zM821.33 1078.2h1.4v1.4h-1.4zM822.73 1078.2h1.4v1.4h-1.4zM821.32 1079.6h1.4v1.4h-1.4zM822.72 1079.6h1.4v1.4h-1.4zM824.12 1079.6h1.4v1.4h-1.4zM822.71 1081h1.4v1.4h-1.4zM824.11 1081h1.4v1.4h-1.4zM821.3 1082.4h1.4v1.4h-1.4zM822.7 1082.4h1.4v1.4h-1.4zM824.1 1082.4h1.4v1.4h-1.4zM825.5 1082.4h1.4v1.4h-1.4zM821.29 1083.8h1.4v1.4h-1.4zM822.69 1083.8h1.4v1.4h-1.4zM824.09 1083.8h1.4v1.4h-1.4zM822.68 1085.2h1.4v1.4h-1.4zM824.08 1085.2h1.4v1.4h-1.4zM825.48 1085.2h1.4v1.4h-1.4zM821.27 1086.6h1.4v1.4h-1.4zM822.67 1086.6h1.4v1.4h-1.4zM824.07 1086.6h1.4v1.4h-1.4zM825.47 1086.6h1.4v1.4h-1.4zM821.26 1088h1.4v1.4h-1.4zM822.66 1088h1.4v1.4h-1.4zM824.06 1088h1.4v1.4h-1.4zM825.46 1088h1.4v1.4h-1.4zM821.25 1089.4h1.4v1.4h-1.4zM822.65 1089.4h1.4v1.4h-1.4zM824.05 1089.4h1.4v1.4h-1.4zM825.45 1089.4h1.4v1.4h-1.4z" fill="#50f0c0"/><path d="M825.44 1090h1.4v1.4h-1.4zM821.23 1091.4h1.4v1.4h-1.4zM822.63 1091.4h1.4v1.4h-1.4zM824.03 1091.4h1.4v1.4h-1.4zM825.43 1091.4h1.4v1.4h-1.4zM821.22 1092.8h1.4v1.4h-1.4zM822.62 1092.8h1.4v1.4h-1.4zM824.02 1092.8h1.4v1.4h-1.4zM821.21 1094.2h1.4v1.4h-1.4zM822.61 1094.2h1.4v1.4h-1.4zM824.01 1094.2h1.4v1.4h-1.4zM825.41 1094.2h1.4v1.4h-1.4zM821.2 1095.6h1.4v1.4h-1.4zM822.6 1095.6h1.4v1.4h-1.4zM824 1095.6h1.4v1.4h-1.4zM821.19 1097h1.4v1.4h-1.4zM822.59 1097h1.4v1.4h-1.4zM823.99 1097h1.4v1.4h-1.4zM821.18 1098.4h1.4v1.4h-1.4zM822.58 1098.4h1.4v1.4h-1.4zM823.98 1098.4h1.4v1.4h-1.4zM825.38 1098.4h1.4v1.4h-1.4zM821.17 1099.8h1.4v1.4h-1.4zM822.57 1099.8h1.4v1.4h-1.4zM823.97 1099.8h1.4v1.4h-1.4zM825.37 1099.8h1.4v1.4h-1.4zM821.16 1101.2h1.4v1.4h-1.4zM822.56 1101.2h1.4v1.4h-1.4zM823.96 1101.2h1.4v1.4h-1.4zM825.36 1101.2h1.4v1.4h-1.4zM821.15 1102.6h1.4v1.4h-1.4zM822.55 1102.6h1.4v1.4h-1.4zM823.95 1102.6h1.4v1.4h-1.4zM825.35 1102.6h1.4v1.4h-1.4zM821.14 1104h1.4v1.4h-1.4zM822.54 1104h1.4v1.4h-1.4zM823.94 1104h1.4v1.4h-1.4zM825.34 1104h1.4v1.4h-1.4zM821.12 1105.4h1.4v1.4h-1.4zM821.11 1106.8h1.4v1.4h-1.4zM822.51 1106.8h1.4v1.4h-1.4zM825.31 1106.8h1.4v1.4h-1.4zM821.1 1108.2h1.4v1.4h-1.4zM822.5 1108.2h1.4v1.4h-1.4zM825.3 1108.2h1.4v1.4h-1.4zM821.09 1109.6h1.4v1.4h-1.4zM822.49 1109.6h1.4v1.4h-1.4zM823.89 1109.6h1.4v1.4h-1.4zM821.08 1111h1.4v1.4h-1.4zM822.48 1111h1.4v1.4h-1.4zM823.88 1111h1.4v1.4h-1.4zM821.07 1112.4h1.4v1.4h-1.4zM823.87 1112.4h1.4v1.4h-1.4zM821.06 1113.8h1.4v1.4h-1.4zM822.46 1113.8h1.4v1.4h-1.4zM823.86 1113.8h1.4v1.4h-1.4zM825.26 1113.8h1.4v1.4h-1.4zM821.05 1115.2h1.4v1.4h-1.4zM822.45 1115.2h1.4v1.4h-1.4zM821.04 1116.6h1.4v1.4h-1.4zM823.84 1116.6h1.4v1.4h-1.4zM825.24 1116.6h1.4v1.4h-1.4zM821.03 1118h1.4v1.4h-1.4zM822.43 1118h1.4v1.4h-1.4zM825.23 1118h1.4v1.4h-1.4zM821.02 1119.4h1.4v1.4h-1.4zM822.42 1119.4h1.4v1.4h-1.4zM823.82 1119.4h1.4v1.4h-1.4zM825.22 1119.4h1.4v1.4h-1.4zM823.81 1120.8h1.4v1.4h-1.4zM825.21 1120.8h1.4v1.4h-1.4z" fill="#d8ff30"/><path d="M841.5 1040 L846.5 1040 L848 1121.6 L840 1121.6 Z" fill="#2aa0ff" opacity="0.8"/><path d="M842 991h1.4v1.4h-1.4zM843.4 991h1.4v1.4h-1.4zM841.98 992.4h1.4v1.4h-1.4zM843.38 992.4h1.4v1.4h-1.4zM843.36 993.8h1.4v1.4h-1.4zM841.91 996.6h1.4v1.4h-1.4zM841.89 998h1.4v1.4h-1.4zM841.87 999.4h1.4v1.4h-1.4zM844.67 999.4h1.4v1.4h-1.4zM841.85 1000.8h1.4v1.4h-1.4zM843.25 1000.8h1.4v1.4h-1.4zM844.65 1000.8h1.4v1.4h-1.4zM841.83 1002.2h1.4v1.4h-1.4zM843.23 1002.2h1.4v1.4h-1.4zM841.81 1003.6h1.4v1.4h-1.4zM843.21 1003.6h1.4v1.4h-1.4zM844.61 1003.6h1.4v1.4h-1.4zM841.79 1005h1.4v1.4h-1.4zM844.59 1005h1.4v1.4h-1.4zM843.16 1006.4h1.4v1.4h-1.4zM844.56 1006.4h1.4v1.4h-1.4zM841.74 1007.8h1.4v1.4h-1.4zM844.54 1007.8h1.4v1.4h-1.4zM841.72 1009.2h1.4v1.4h-1.4zM843.12 1009.2h1.4v1.4h-1.4zM841.7 1010.6h1.4v1.4h-1.4zM843.1 1010.6h1.4v1.4h-1.4zM844.5 1010.6h1.4v1.4h-1.4zM841.68 1012h1.4v1.4h-1.4zM841.66 1013.4h1.4v1.4h-1.4zM843.06 1013.4h1.4v1.4h-1.4zM844.46 1013.4h1.4v1.4h-1.4zM843.04 1014.8h1.4v1.4h-1.4zM841.61 1016.2h1.4v1.4h-1.4zM844.41 1016.2h1.4v1.4h-1.4zM841.59 1017.6h1.4v1.4h-1.4zM842.99 1017.6h1.4v1.4h-1.4zM842.97 1019h1.4v1.4h-1.4zM841.55 1020.4h1.4v1.4h-1.4zM841.53 1021.8h1.4v1.4h-1.4zM842.93 1021.8h1.4v1.4h-1.4zM844.33 1021.8h1.4v1.4h-1.4zM841.51 1023.2h1.4v1.4h-1.4zM842.91 1023.2h1.4v1.4h-1.4zM842.89 1024.6h1.4v1.4h-1.4zM844.29 1024.6h1.4v1.4h-1.4z" fill="#2a70ff"/><path d="M841.48 1025h1.4v1.4h-1.4zM842.88 1025h1.4v1.4h-1.4zM841.46 1026.4h1.4v1.4h-1.4zM842.86 1026.4h1.4v1.4h-1.4zM844.26 1026.4h1.4v1.4h-1.4zM841.44 1027.8h1.4v1.4h-1.4zM842.84 1027.8h1.4v1.4h-1.4zM844.22 1029.2h1.4v1.4h-1.4zM841.39 1030.6h1.4v1.4h-1.4zM844.19 1030.6h1.4v1.4h-1.4zM842.77 1032h1.4v1.4h-1.4zM845.57 1032h1.4v1.4h-1.4zM841.35 1033.4h1.4v1.4h-1.4zM842.75 1033.4h1.4v1.4h-1.4zM844.15 1033.4h1.4v1.4h-1.4zM845.55 1033.4h1.4v1.4h-1.4zM841.33 1034.8h1.4v1.4h-1.4zM842.73 1034.8h1.4v1.4h-1.4zM845.53 1034.8h1.4v1.4h-1.4zM841.31 1036.2h1.4v1.4h-1.4zM842.71 1036.2h1.4v1.4h-1.4zM844.11 1036.2h1.4v1.4h-1.4zM845.51 1036.2h1.4v1.4h-1.4zM841.29 1037.6h1.4v1.4h-1.4zM842.69 1037.6h1.4v1.4h-1.4zM845.49 1037.6h1.4v1.4h-1.4zM841.26 1039h1.4v1.4h-1.4zM842.66 1039h1.4v1.4h-1.4zM844.06 1039h1.4v1.4h-1.4zM841.24 1040.4h1.4v1.4h-1.4zM842.64 1040.4h1.4v1.4h-1.4zM844.04 1040.4h1.4v1.4h-1.4zM845.44 1040.4h1.4v1.4h-1.4zM841.22 1041.8h1.4v1.4h-1.4zM842.62 1041.8h1.4v1.4h-1.4zM844.02 1041.8h1.4v1.4h-1.4zM845.42 1041.8h1.4v1.4h-1.4zM842.6 1043.2h1.4v1.4h-1.4zM844 1043.2h1.4v1.4h-1.4zM841.18 1044.6h1.4v1.4h-1.4zM841.16 1046h1.4v1.4h-1.4zM842.56 1046h1.4v1.4h-1.4zM841.14 1047.4h1.4v1.4h-1.4zM842.54 1047.4h1.4v1.4h-1.4zM845.34 1047.4h1.4v1.4h-1.4zM841.11 1048.8h1.4v1.4h-1.4zM842.51 1048.8h1.4v1.4h-1.4zM843.91 1048.8h1.4v1.4h-1.4zM845.31 1048.8h1.4v1.4h-1.4zM841.09 1050.2h1.4v1.4h-1.4zM845.29 1050.2h1.4v1.4h-1.4zM845.27 1051.6h1.4v1.4h-1.4zM841.05 1053h1.4v1.4h-1.4zM842.45 1053h1.4v1.4h-1.4zM843.85 1053h1.4v1.4h-1.4zM845.25 1053h1.4v1.4h-1.4zM841.03 1054.4h1.4v1.4h-1.4zM842.43 1054.4h1.4v1.4h-1.4zM843.83 1054.4h1.4v1.4h-1.4zM845.23 1054.4h1.4v1.4h-1.4zM841.01 1055.8h1.4v1.4h-1.4zM843.81 1055.8h1.4v1.4h-1.4zM845.21 1055.8h1.4v1.4h-1.4zM840.99 1057.2h1.4v1.4h-1.4zM845.19 1057.2h1.4v1.4h-1.4zM840.96 1058.6h1.4v1.4h-1.4zM842.36 1058.6h1.4v1.4h-1.4zM843.76 1058.6h1.4v1.4h-1.4zM845.16 1058.6h1.4v1.4h-1.4z" fill="#30a8ff"/><path d="M840.94 1060h1.4v1.4h-1.4zM843.74 1060h1.4v1.4h-1.4zM845.14 1060h1.4v1.4h-1.4zM840.92 1061.4h1.4v1.4h-1.4zM842.32 1061.4h1.4v1.4h-1.4zM843.72 1061.4h1.4v1.4h-1.4zM845.12 1061.4h1.4v1.4h-1.4zM840.9 1062.8h1.4v1.4h-1.4zM842.3 1062.8h1.4v1.4h-1.4zM843.7 1062.8h1.4v1.4h-1.4zM845.1 1062.8h1.4v1.4h-1.4zM840.88 1064.2h1.4v1.4h-1.4zM842.28 1064.2h1.4v1.4h-1.4zM845.08 1064.2h1.4v1.4h-1.4zM840.86 1065.6h1.4v1.4h-1.4zM842.26 1065.6h1.4v1.4h-1.4zM843.66 1065.6h1.4v1.4h-1.4zM845.06 1065.6h1.4v1.4h-1.4zM846.46 1065.6h1.4v1.4h-1.4zM840.84 1067h1.4v1.4h-1.4zM842.24 1067h1.4v1.4h-1.4zM845.04 1067h1.4v1.4h-1.4zM842.21 1068.4h1.4v1.4h-1.4zM843.61 1068.4h1.4v1.4h-1.4zM840.79 1069.8h1.4v1.4h-1.4zM843.59 1069.8h1.4v1.4h-1.4zM844.99 1069.8h1.4v1.4h-1.4zM842.17 1071.2h1.4v1.4h-1.4zM843.57 1071.2h1.4v1.4h-1.4zM840.75 1072.6h1.4v1.4h-1.4zM842.15 1072.6h1.4v1.4h-1.4zM846.35 1072.6h1.4v1.4h-1.4zM840.73 1074h1.4v1.4h-1.4zM843.53 1074h1.4v1.4h-1.4zM846.33 1074h1.4v1.4h-1.4zM842.11 1075.4h1.4v1.4h-1.4zM843.51 1075.4h1.4v1.4h-1.4zM844.91 1075.4h1.4v1.4h-1.4zM846.31 1075.4h1.4v1.4h-1.4zM840.69 1076.8h1.4v1.4h-1.4zM842.09 1076.8h1.4v1.4h-1.4zM844.89 1076.8h1.4v1.4h-1.4zM846.29 1076.8h1.4v1.4h-1.4zM843.46 1078.2h1.4v1.4h-1.4zM844.86 1078.2h1.4v1.4h-1.4zM846.26 1078.2h1.4v1.4h-1.4zM840.64 1079.6h1.4v1.4h-1.4zM842.04 1079.6h1.4v1.4h-1.4zM843.44 1079.6h1.4v1.4h-1.4zM844.84 1079.6h1.4v1.4h-1.4zM846.24 1079.6h1.4v1.4h-1.4zM840.62 1081h1.4v1.4h-1.4zM843.42 1081h1.4v1.4h-1.4zM840.6 1082.4h1.4v1.4h-1.4zM842 1082.4h1.4v1.4h-1.4zM843.4 1082.4h1.4v1.4h-1.4zM844.8 1082.4h1.4v1.4h-1.4zM840.58 1083.8h1.4v1.4h-1.4zM841.98 1083.8h1.4v1.4h-1.4zM843.38 1083.8h1.4v1.4h-1.4zM846.18 1083.8h1.4v1.4h-1.4zM841.96 1085.2h1.4v1.4h-1.4zM843.36 1085.2h1.4v1.4h-1.4zM844.76 1085.2h1.4v1.4h-1.4zM846.16 1085.2h1.4v1.4h-1.4zM840.54 1086.6h1.4v1.4h-1.4zM844.74 1086.6h1.4v1.4h-1.4zM846.14 1086.6h1.4v1.4h-1.4zM843.31 1088h1.4v1.4h-1.4zM844.71 1088h1.4v1.4h-1.4zM846.11 1088h1.4v1.4h-1.4zM840.49 1089.4h1.4v1.4h-1.4z" fill="#40e8e0"/><path d="M841.88 1090h1.4v1.4h-1.4zM846.08 1090h1.4v1.4h-1.4zM841.86 1091.4h1.4v1.4h-1.4zM844.66 1091.4h1.4v1.4h-1.4zM846.06 1091.4h1.4v1.4h-1.4zM840.44 1092.8h1.4v1.4h-1.4zM841.84 1092.8h1.4v1.4h-1.4zM843.24 1092.8h1.4v1.4h-1.4zM844.64 1092.8h1.4v1.4h-1.4zM840.42 1094.2h1.4v1.4h-1.4zM841.82 1094.2h1.4v1.4h-1.4zM843.22 1094.2h1.4v1.4h-1.4zM844.62 1094.2h1.4v1.4h-1.4zM840.4 1095.6h1.4v1.4h-1.4zM841.8 1095.6h1.4v1.4h-1.4zM843.2 1095.6h1.4v1.4h-1.4zM840.38 1097h1.4v1.4h-1.4zM841.78 1097h1.4v1.4h-1.4zM845.98 1097h1.4v1.4h-1.4zM840.36 1098.4h1.4v1.4h-1.4zM841.76 1098.4h1.4v1.4h-1.4zM845.96 1098.4h1.4v1.4h-1.4zM847.36 1098.4h1.4v1.4h-1.4zM841.73 1099.8h1.4v1.4h-1.4zM843.13 1099.8h1.4v1.4h-1.4zM845.93 1099.8h1.4v1.4h-1.4zM847.33 1099.8h1.4v1.4h-1.4zM841.71 1101.2h1.4v1.4h-1.4zM844.51 1101.2h1.4v1.4h-1.4zM845.91 1101.2h1.4v1.4h-1.4zM847.31 1101.2h1.4v1.4h-1.4zM840.29 1102.6h1.4v1.4h-1.4zM841.69 1102.6h1.4v1.4h-1.4zM843.09 1102.6h1.4v1.4h-1.4zM844.49 1102.6h1.4v1.4h-1.4zM845.89 1102.6h1.4v1.4h-1.4zM840.27 1104h1.4v1.4h-1.4zM841.67 1104h1.4v1.4h-1.4zM843.07 1104h1.4v1.4h-1.4zM844.47 1104h1.4v1.4h-1.4zM845.87 1104h1.4v1.4h-1.4zM840.25 1105.4h1.4v1.4h-1.4zM841.65 1105.4h1.4v1.4h-1.4zM843.05 1105.4h1.4v1.4h-1.4zM844.45 1105.4h1.4v1.4h-1.4zM845.85 1105.4h1.4v1.4h-1.4zM847.25 1105.4h1.4v1.4h-1.4zM841.63 1106.8h1.4v1.4h-1.4zM843.03 1106.8h1.4v1.4h-1.4zM844.43 1106.8h1.4v1.4h-1.4zM845.83 1106.8h1.4v1.4h-1.4zM841.61 1108.2h1.4v1.4h-1.4zM843.01 1108.2h1.4v1.4h-1.4zM844.41 1108.2h1.4v1.4h-1.4zM845.81 1108.2h1.4v1.4h-1.4zM847.21 1108.2h1.4v1.4h-1.4zM840.18 1109.6h1.4v1.4h-1.4zM841.58 1109.6h1.4v1.4h-1.4zM842.98 1109.6h1.4v1.4h-1.4zM845.78 1109.6h1.4v1.4h-1.4zM847.18 1109.6h1.4v1.4h-1.4zM840.16 1111h1.4v1.4h-1.4zM841.56 1111h1.4v1.4h-1.4zM842.96 1111h1.4v1.4h-1.4zM844.36 1111h1.4v1.4h-1.4zM840.14 1112.4h1.4v1.4h-1.4zM841.54 1112.4h1.4v1.4h-1.4zM844.34 1112.4h1.4v1.4h-1.4zM845.74 1112.4h1.4v1.4h-1.4zM847.14 1112.4h1.4v1.4h-1.4zM840.12 1113.8h1.4v1.4h-1.4zM841.52 1113.8h1.4v1.4h-1.4zM842.92 1113.8h1.4v1.4h-1.4zM844.32 1113.8h1.4v1.4h-1.4zM845.72 1113.8h1.4v1.4h-1.4zM847.12 1113.8h1.4v1.4h-1.4zM840.1 1115.2h1.4v1.4h-1.4zM841.5 1115.2h1.4v1.4h-1.4zM842.9 1115.2h1.4v1.4h-1.4zM844.3 1115.2h1.4v1.4h-1.4zM845.7 1115.2h1.4v1.4h-1.4zM847.1 1115.2h1.4v1.4h-1.4zM840.08 1116.6h1.4v1.4h-1.4zM841.48 1116.6h1.4v1.4h-1.4zM842.88 1116.6h1.4v1.4h-1.4zM845.68 1116.6h1.4v1.4h-1.4zM840.06 1118h1.4v1.4h-1.4zM842.86 1118h1.4v1.4h-1.4zM845.66 1118h1.4v1.4h-1.4zM840.03 1119.4h1.4v1.4h-1.4zM841.43 1119.4h1.4v1.4h-1.4zM845.63 1119.4h1.4v1.4h-1.4zM840.01 1120.8h1.4v1.4h-1.4zM841.41 1120.8h1.4v1.4h-1.4zM842.81 1120.8h1.4v1.4h-1.4zM847.01 1120.8h1.4v1.4h-1.4z" fill="#ffe020"/><rect x="843.5" y="1092" width="3" height="29.6" fill="#ffb010" opacity="0.8"/><rect x="818" y="1097" width="16" height="24.6" fill="#30d8ff" opacity="0.45"/><rect x="826" y="1065" width="14" height="32" fill="#2080ff" opacity="0.3"/><rect x="739" y="1121" width="173" height="1" fill="#fff"/><rect x="1019.5" y="1121" width="411.5" height="1" fill="#fff"/><rect x="1096.5" y="1052" width="9.5" height="38" fill="#20a0ff" opacity="0.55"/><path d="M1099.3 1024h1.4v1.4h-1.4zM1100.7 1024h1.4v1.4h-1.4zM1102.1 1024h1.4v1.4h-1.4zM1103.5 1024h1.4v1.4h-1.4zM1104.9 1024h1.4v1.4h-1.4zM1096.5 1025.4h1.4v1.4h-1.4zM1097.9 1025.4h1.4v1.4h-1.4zM1099.3 1025.4h1.4v1.4h-1.4zM1100.7 1025.4h1.4v1.4h-1.4zM1097.9 1026.8h1.4v1.4h-1.4zM1099.3 1026.8h1.4v1.4h-1.4zM1100.7 1026.8h1.4v1.4h-1.4zM1102.1 1026.8h1.4v1.4h-1.4zM1103.5 1026.8h1.4v1.4h-1.4zM1104.9 1026.8h1.4v1.4h-1.4zM1097.9 1028.2h1.4v1.4h-1.4zM1100.7 1028.2h1.4v1.4h-1.4zM1102.1 1028.2h1.4v1.4h-1.4zM1104.9 1028.2h1.4v1.4h-1.4zM1097.9 1029.6h1.4v1.4h-1.4zM1100.7 1029.6h1.4v1.4h-1.4zM1102.1 1029.6h1.4v1.4h-1.4zM1104.9 1029.6h1.4v1.4h-1.4zM1102.1 1031h1.4v1.4h-1.4zM1096.5 1032.4h1.4v1.4h-1.4zM1102.1 1032.4h1.4v1.4h-1.4zM1097.9 1033.8h1.4v1.4h-1.4zM1099.3 1033.8h1.4v1.4h-1.4zM1100.7 1033.8h1.4v1.4h-1.4zM1103.5 1033.8h1.4v1.4h-1.4zM1099.3 1035.2h1.4v1.4h-1.4zM1104.9 1035.2h1.4v1.4h-1.4zM1102.1 1036.6h1.4v1.4h-1.4zM1103.5 1036.6h1.4v1.4h-1.4zM1104.9 1036.6h1.4v1.4h-1.4zM1097.9 1038h1.4v1.4h-1.4zM1099.3 1038h1.4v1.4h-1.4zM1100.7 1038h1.4v1.4h-1.4zM1102.1 1038h1.4v1.4h-1.4zM1103.5 1038h1.4v1.4h-1.4zM1104.9 1038h1.4v1.4h-1.4zM1096.5 1039.4h1.4v1.4h-1.4zM1103.5 1039.4h1.4v1.4h-1.4zM1097.9 1040.8h1.4v1.4h-1.4zM1099.3 1040.8h1.4v1.4h-1.4zM1100.7 1040.8h1.4v1.4h-1.4zM1102.1 1040.8h1.4v1.4h-1.4zM1104.9 1040.8h1.4v1.4h-1.4zM1096.5 1042.2h1.4v1.4h-1.4zM1097.9 1042.2h1.4v1.4h-1.4zM1102.1 1042.2h1.4v1.4h-1.4zM1104.9 1042.2h1.4v1.4h-1.4zM1096.5 1043.6h1.4v1.4h-1.4zM1097.9 1043.6h1.4v1.4h-1.4zM1102.1 1043.6h1.4v1.4h-1.4zM1104.9 1043.6h1.4v1.4h-1.4zM1096.5 1045h1.4v1.4h-1.4zM1097.9 1045h1.4v1.4h-1.4zM1100.7 1045h1.4v1.4h-1.4zM1102.1 1045h1.4v1.4h-1.4zM1103.5 1045h1.4v1.4h-1.4zM1096.5 1046.4h1.4v1.4h-1.4zM1099.3 1046.4h1.4v1.4h-1.4zM1100.7 1046.4h1.4v1.4h-1.4zM1097.9 1047.8h1.4v1.4h-1.4zM1099.3 1047.8h1.4v1.4h-1.4zM1102.1 1047.8h1.4v1.4h-1.4zM1103.5 1047.8h1.4v1.4h-1.4zM1096.5 1049.2h1.4v1.4h-1.4zM1099.3 1049.2h1.4v1.4h-1.4zM1100.7 1049.2h1.4v1.4h-1.4zM1102.1 1049.2h1.4v1.4h-1.4zM1097.9 1050.6h1.4v1.4h-1.4zM1099.3 1050.6h1.4v1.4h-1.4zM1104.9 1050.6h1.4v1.4h-1.4z" fill="#2a7cff"/><path d="M1099.3 1052h1.4v1.4h-1.4zM1103.5 1052h1.4v1.4h-1.4zM1104.9 1052h1.4v1.4h-1.4zM1100.7 1053.4h1.4v1.4h-1.4zM1104.9 1053.4h1.4v1.4h-1.4zM1099.3 1054.8h1.4v1.4h-1.4zM1102.1 1054.8h1.4v1.4h-1.4zM1103.5 1054.8h1.4v1.4h-1.4zM1104.9 1054.8h1.4v1.4h-1.4zM1096.5 1056.2h1.4v1.4h-1.4zM1097.9 1056.2h1.4v1.4h-1.4zM1100.7 1056.2h1.4v1.4h-1.4zM1102.1 1056.2h1.4v1.4h-1.4zM1104.9 1056.2h1.4v1.4h-1.4zM1097.9 1057.6h1.4v1.4h-1.4zM1103.5 1057.6h1.4v1.4h-1.4zM1104.9 1057.6h1.4v1.4h-1.4zM1099.3 1059h1.4v1.4h-1.4zM1100.7 1059h1.4v1.4h-1.4zM1102.1 1059h1.4v1.4h-1.4zM1103.5 1059h1.4v1.4h-1.4zM1104.9 1059h1.4v1.4h-1.4zM1096.5 1060.4h1.4v1.4h-1.4zM1097.9 1060.4h1.4v1.4h-1.4zM1099.3 1060.4h1.4v1.4h-1.4zM1100.7 1060.4h1.4v1.4h-1.4zM1102.1 1060.4h1.4v1.4h-1.4zM1103.5 1060.4h1.4v1.4h-1.4zM1097.9 1061.8h1.4v1.4h-1.4zM1099.3 1061.8h1.4v1.4h-1.4zM1100.7 1061.8h1.4v1.4h-1.4zM1102.1 1061.8h1.4v1.4h-1.4zM1103.5 1061.8h1.4v1.4h-1.4zM1099.3 1063.2h1.4v1.4h-1.4zM1103.5 1063.2h1.4v1.4h-1.4zM1104.9 1063.2h1.4v1.4h-1.4zM1100.7 1064.6h1.4v1.4h-1.4zM1102.1 1064.6h1.4v1.4h-1.4zM1103.5 1064.6h1.4v1.4h-1.4zM1096.5 1066h1.4v1.4h-1.4zM1097.9 1066h1.4v1.4h-1.4zM1099.3 1066h1.4v1.4h-1.4zM1102.1 1066h1.4v1.4h-1.4zM1103.5 1066h1.4v1.4h-1.4zM1097.9 1067.4h1.4v1.4h-1.4zM1100.7 1067.4h1.4v1.4h-1.4zM1102.1 1067.4h1.4v1.4h-1.4zM1104.9 1067.4h1.4v1.4h-1.4zM1097.9 1068.8h1.4v1.4h-1.4zM1099.3 1068.8h1.4v1.4h-1.4zM1100.7 1068.8h1.4v1.4h-1.4zM1104.9 1068.8h1.4v1.4h-1.4z" fill="#30c8ff"/><path d="M1096.5 1070h1.4v1.4h-1.4zM1100.7 1070h1.4v1.4h-1.4zM1102.1 1070h1.4v1.4h-1.4zM1096.5 1071.4h1.4v1.4h-1.4zM1097.9 1071.4h1.4v1.4h-1.4zM1099.3 1071.4h1.4v1.4h-1.4zM1100.7 1071.4h1.4v1.4h-1.4zM1102.1 1071.4h1.4v1.4h-1.4zM1103.5 1071.4h1.4v1.4h-1.4zM1099.3 1072.8h1.4v1.4h-1.4zM1100.7 1072.8h1.4v1.4h-1.4zM1103.5 1072.8h1.4v1.4h-1.4zM1104.9 1072.8h1.4v1.4h-1.4zM1099.3 1074.2h1.4v1.4h-1.4zM1100.7 1074.2h1.4v1.4h-1.4zM1103.5 1074.2h1.4v1.4h-1.4zM1104.9 1074.2h1.4v1.4h-1.4zM1097.9 1075.6h1.4v1.4h-1.4zM1100.7 1075.6h1.4v1.4h-1.4zM1102.1 1075.6h1.4v1.4h-1.4zM1103.5 1075.6h1.4v1.4h-1.4zM1104.9 1075.6h1.4v1.4h-1.4zM1096.5 1077h1.4v1.4h-1.4zM1097.9 1077h1.4v1.4h-1.4zM1102.1 1077h1.4v1.4h-1.4zM1103.5 1077h1.4v1.4h-1.4zM1104.9 1077h1.4v1.4h-1.4zM1097.9 1078.4h1.4v1.4h-1.4zM1099.3 1078.4h1.4v1.4h-1.4zM1100.7 1078.4h1.4v1.4h-1.4zM1102.1 1078.4h1.4v1.4h-1.4zM1096.5 1079.8h1.4v1.4h-1.4zM1099.3 1079.8h1.4v1.4h-1.4zM1100.7 1079.8h1.4v1.4h-1.4zM1103.5 1079.8h1.4v1.4h-1.4zM1104.9 1079.8h1.4v1.4h-1.4zM1097.9 1081.2h1.4v1.4h-1.4zM1099.3 1081.2h1.4v1.4h-1.4zM1100.7 1081.2h1.4v1.4h-1.4zM1102.1 1081.2h1.4v1.4h-1.4zM1103.5 1081.2h1.4v1.4h-1.4zM1096.5 1082.6h1.4v1.4h-1.4zM1097.9 1082.6h1.4v1.4h-1.4zM1099.3 1082.6h1.4v1.4h-1.4zM1102.1 1082.6h1.4v1.4h-1.4zM1103.5 1082.6h1.4v1.4h-1.4zM1104.9 1082.6h1.4v1.4h-1.4zM1097.9 1084h1.4v1.4h-1.4zM1099.3 1084h1.4v1.4h-1.4zM1100.7 1084h1.4v1.4h-1.4zM1104.9 1084h1.4v1.4h-1.4zM1096.5 1085.4h1.4v1.4h-1.4zM1103.5 1085.4h1.4v1.4h-1.4zM1104.9 1085.4h1.4v1.4h-1.4zM1096.5 1086.8h1.4v1.4h-1.4zM1099.3 1086.8h1.4v1.4h-1.4zM1102.1 1086.8h1.4v1.4h-1.4zM1103.5 1086.8h1.4v1.4h-1.4zM1104.9 1086.8h1.4v1.4h-1.4zM1096.5 1088.2h1.4v1.4h-1.4zM1097.9 1088.2h1.4v1.4h-1.4zM1099.3 1088.2h1.4v1.4h-1.4zM1100.7 1088.2h1.4v1.4h-1.4zM1102.1 1088.2h1.4v1.4h-1.4zM1103.5 1088.2h1.4v1.4h-1.4zM1096.5 1089.6h1.4v1.4h-1.4zM1100.7 1089.6h1.4v1.4h-1.4zM1104.9 1089.6h1.4v1.4h-1.4z" fill="#30e0ff"/><rect x="1116" y="1053" width="16" height="37" fill="#20a0ff" opacity="0.55"/><path d="M1117.4 1008h1.4v1.4h-1.4zM1121.6 1008h1.4v1.4h-1.4zM1124.4 1008h1.4v1.4h-1.4zM1127.2 1008h1.4v1.4h-1.4zM1128.6 1008h1.4v1.4h-1.4zM1130 1008h1.4v1.4h-1.4zM1131.4 1008h1.4v1.4h-1.4zM1116 1009.4h1.4v1.4h-1.4zM1117.4 1009.4h1.4v1.4h-1.4zM1120.2 1009.4h1.4v1.4h-1.4zM1123 1009.4h1.4v1.4h-1.4zM1124.4 1009.4h1.4v1.4h-1.4zM1127.2 1009.4h1.4v1.4h-1.4zM1128.6 1009.4h1.4v1.4h-1.4zM1130 1009.4h1.4v1.4h-1.4zM1116 1010.8h1.4v1.4h-1.4zM1120.2 1010.8h1.4v1.4h-1.4zM1121.6 1010.8h1.4v1.4h-1.4zM1124.4 1010.8h1.4v1.4h-1.4zM1128.6 1010.8h1.4v1.4h-1.4zM1130 1010.8h1.4v1.4h-1.4zM1131.4 1010.8h1.4v1.4h-1.4zM1116 1012.2h1.4v1.4h-1.4zM1117.4 1012.2h1.4v1.4h-1.4zM1118.8 1012.2h1.4v1.4h-1.4zM1124.4 1012.2h1.4v1.4h-1.4zM1127.2 1012.2h1.4v1.4h-1.4zM1130 1012.2h1.4v1.4h-1.4zM1131.4 1012.2h1.4v1.4h-1.4zM1118.8 1013.6h1.4v1.4h-1.4zM1120.2 1013.6h1.4v1.4h-1.4zM1121.6 1013.6h1.4v1.4h-1.4zM1124.4 1013.6h1.4v1.4h-1.4zM1125.8 1013.6h1.4v1.4h-1.4zM1128.6 1013.6h1.4v1.4h-1.4zM1130 1013.6h1.4v1.4h-1.4zM1131.4 1013.6h1.4v1.4h-1.4zM1116 1015h1.4v1.4h-1.4zM1118.8 1015h1.4v1.4h-1.4zM1120.2 1015h1.4v1.4h-1.4zM1124.4 1015h1.4v1.4h-1.4zM1125.8 1015h1.4v1.4h-1.4zM1127.2 1015h1.4v1.4h-1.4zM1130 1015h1.4v1.4h-1.4zM1131.4 1015h1.4v1.4h-1.4zM1116 1016.4h1.4v1.4h-1.4zM1118.8 1016.4h1.4v1.4h-1.4zM1120.2 1016.4h1.4v1.4h-1.4zM1123 1016.4h1.4v1.4h-1.4zM1124.4 1016.4h1.4v1.4h-1.4zM1127.2 1016.4h1.4v1.4h-1.4zM1131.4 1016.4h1.4v1.4h-1.4zM1116 1017.8h1.4v1.4h-1.4zM1117.4 1017.8h1.4v1.4h-1.4zM1121.6 1017.8h1.4v1.4h-1.4zM1123 1017.8h1.4v1.4h-1.4zM1124.4 1017.8h1.4v1.4h-1.4zM1127.2 1017.8h1.4v1.4h-1.4zM1128.6 1017.8h1.4v1.4h-1.4zM1116 1019.2h1.4v1.4h-1.4zM1118.8 1019.2h1.4v1.4h-1.4zM1120.2 1019.2h1.4v1.4h-1.4zM1121.6 1019.2h1.4v1.4h-1.4zM1127.2 1019.2h1.4v1.4h-1.4zM1128.6 1019.2h1.4v1.4h-1.4zM1116 1020.6h1.4v1.4h-1.4zM1117.4 1020.6h1.4v1.4h-1.4zM1123 1020.6h1.4v1.4h-1.4zM1127.2 1020.6h1.4v1.4h-1.4zM1121.6 1022h1.4v1.4h-1.4zM1123 1022h1.4v1.4h-1.4zM1125.8 1022h1.4v1.4h-1.4zM1128.6 1022h1.4v1.4h-1.4zM1131.4 1022h1.4v1.4h-1.4zM1118.8 1023.4h1.4v1.4h-1.4zM1120.2 1023.4h1.4v1.4h-1.4zM1125.8 1023.4h1.4v1.4h-1.4zM1127.2 1023.4h1.4v1.4h-1.4zM1128.6 1023.4h1.4v1.4h-1.4zM1116 1024.8h1.4v1.4h-1.4zM1117.4 1024.8h1.4v1.4h-1.4zM1118.8 1024.8h1.4v1.4h-1.4zM1120.2 1024.8h1.4v1.4h-1.4zM1124.4 1024.8h1.4v1.4h-1.4zM1130 1024.8h1.4v1.4h-1.4zM1131.4 1024.8h1.4v1.4h-1.4zM1117.4 1026.2h1.4v1.4h-1.4zM1120.2 1026.2h1.4v1.4h-1.4zM1123 1026.2h1.4v1.4h-1.4zM1127.2 1026.2h1.4v1.4h-1.4zM1128.6 1026.2h1.4v1.4h-1.4zM1131.4 1026.2h1.4v1.4h-1.4zM1116 1027.6h1.4v1.4h-1.4zM1117.4 1027.6h1.4v1.4h-1.4zM1120.2 1027.6h1.4v1.4h-1.4zM1123 1027.6h1.4v1.4h-1.4zM1124.4 1027.6h1.4v1.4h-1.4zM1127.2 1027.6h1.4v1.4h-1.4zM1130 1027.6h1.4v1.4h-1.4zM1131.4 1027.6h1.4v1.4h-1.4zM1124.4 1029h1.4v1.4h-1.4zM1127.2 1029h1.4v1.4h-1.4zM1130 1029h1.4v1.4h-1.4zM1131.4 1029h1.4v1.4h-1.4zM1116 1030.4h1.4v1.4h-1.4zM1117.4 1030.4h1.4v1.4h-1.4zM1118.8 1030.4h1.4v1.4h-1.4zM1123 1030.4h1.4v1.4h-1.4zM1127.2 1030.4h1.4v1.4h-1.4zM1128.6 1030.4h1.4v1.4h-1.4zM1116 1031.8h1.4v1.4h-1.4zM1118.8 1031.8h1.4v1.4h-1.4zM1123 1031.8h1.4v1.4h-1.4zM1125.8 1031.8h1.4v1.4h-1.4zM1127.2 1031.8h1.4v1.4h-1.4zM1131.4 1031.8h1.4v1.4h-1.4zM1117.4 1033.2h1.4v1.4h-1.4zM1120.2 1033.2h1.4v1.4h-1.4zM1124.4 1033.2h1.4v1.4h-1.4zM1128.6 1033.2h1.4v1.4h-1.4zM1131.4 1033.2h1.4v1.4h-1.4zM1116 1034.6h1.4v1.4h-1.4zM1118.8 1034.6h1.4v1.4h-1.4zM1123 1034.6h1.4v1.4h-1.4zM1124.4 1034.6h1.4v1.4h-1.4zM1125.8 1034.6h1.4v1.4h-1.4zM1117.4 1036h1.4v1.4h-1.4zM1118.8 1036h1.4v1.4h-1.4zM1120.2 1036h1.4v1.4h-1.4zM1123 1036h1.4v1.4h-1.4zM1124.4 1036h1.4v1.4h-1.4zM1125.8 1036h1.4v1.4h-1.4zM1127.2 1036h1.4v1.4h-1.4zM1117.4 1037.4h1.4v1.4h-1.4zM1120.2 1037.4h1.4v1.4h-1.4zM1125.8 1037.4h1.4v1.4h-1.4zM1128.6 1037.4h1.4v1.4h-1.4zM1131.4 1037.4h1.4v1.4h-1.4zM1121.6 1038.8h1.4v1.4h-1.4zM1123 1038.8h1.4v1.4h-1.4zM1124.4 1038.8h1.4v1.4h-1.4zM1127.2 1038.8h1.4v1.4h-1.4zM1131.4 1038.8h1.4v1.4h-1.4zM1118.8 1040.2h1.4v1.4h-1.4zM1125.8 1040.2h1.4v1.4h-1.4zM1128.6 1040.2h1.4v1.4h-1.4zM1131.4 1040.2h1.4v1.4h-1.4zM1116 1041.6h1.4v1.4h-1.4zM1117.4 1041.6h1.4v1.4h-1.4zM1118.8 1041.6h1.4v1.4h-1.4zM1124.4 1041.6h1.4v1.4h-1.4zM1125.8 1041.6h1.4v1.4h-1.4zM1117.4 1043h1.4v1.4h-1.4zM1118.8 1043h1.4v1.4h-1.4zM1123 1043h1.4v1.4h-1.4zM1124.4 1043h1.4v1.4h-1.4zM1120.2 1044.4h1.4v1.4h-1.4zM1121.6 1044.4h1.4v1.4h-1.4zM1123 1044.4h1.4v1.4h-1.4zM1124.4 1044.4h1.4v1.4h-1.4zM1125.8 1044.4h1.4v1.4h-1.4zM1127.2 1044.4h1.4v1.4h-1.4zM1130 1044.4h1.4v1.4h-1.4zM1118.8 1045.8h1.4v1.4h-1.4zM1120.2 1045.8h1.4v1.4h-1.4zM1121.6 1045.8h1.4v1.4h-1.4zM1124.4 1045.8h1.4v1.4h-1.4zM1125.8 1045.8h1.4v1.4h-1.4zM1128.6 1045.8h1.4v1.4h-1.4zM1131.4 1045.8h1.4v1.4h-1.4zM1117.4 1047.2h1.4v1.4h-1.4zM1118.8 1047.2h1.4v1.4h-1.4zM1123 1047.2h1.4v1.4h-1.4zM1127.2 1047.2h1.4v1.4h-1.4zM1128.6 1047.2h1.4v1.4h-1.4zM1118.8 1048.6h1.4v1.4h-1.4zM1121.6 1048.6h1.4v1.4h-1.4zM1123 1048.6h1.4v1.4h-1.4zM1125.8 1048.6h1.4v1.4h-1.4zM1128.6 1048.6h1.4v1.4h-1.4zM1131.4 1048.6h1.4v1.4h-1.4zM1117.4 1050h1.4v1.4h-1.4zM1118.8 1050h1.4v1.4h-1.4zM1120.2 1050h1.4v1.4h-1.4zM1123 1050h1.4v1.4h-1.4zM1127.2 1050h1.4v1.4h-1.4zM1128.6 1050h1.4v1.4h-1.4zM1130 1050h1.4v1.4h-1.4zM1131.4 1050h1.4v1.4h-1.4zM1121.6 1051.4h1.4v1.4h-1.4zM1123 1051.4h1.4v1.4h-1.4zM1124.4 1051.4h1.4v1.4h-1.4zM1131.4 1051.4h1.4v1.4h-1.4zM1116 1052.8h1.4v1.4h-1.4zM1117.4 1052.8h1.4v1.4h-1.4zM1121.6 1052.8h1.4v1.4h-1.4zM1123 1052.8h1.4v1.4h-1.4zM1125.8 1052.8h1.4v1.4h-1.4z" fill="#2a74ff"/><path d="M1117.4 1053h1.4v1.4h-1.4zM1118.8 1053h1.4v1.4h-1.4zM1123 1053h1.4v1.4h-1.4zM1124.4 1053h1.4v1.4h-1.4zM1127.2 1053h1.4v1.4h-1.4zM1128.6 1053h1.4v1.4h-1.4zM1130 1053h1.4v1.4h-1.4zM1131.4 1053h1.4v1.4h-1.4zM1116 1054.4h1.4v1.4h-1.4zM1120.2 1054.4h1.4v1.4h-1.4zM1125.8 1054.4h1.4v1.4h-1.4zM1127.2 1054.4h1.4v1.4h-1.4zM1130 1054.4h1.4v1.4h-1.4zM1116 1055.8h1.4v1.4h-1.4zM1118.8 1055.8h1.4v1.4h-1.4zM1121.6 1055.8h1.4v1.4h-1.4zM1123 1055.8h1.4v1.4h-1.4zM1124.4 1055.8h1.4v1.4h-1.4zM1127.2 1055.8h1.4v1.4h-1.4zM1128.6 1055.8h1.4v1.4h-1.4zM1116 1057.2h1.4v1.4h-1.4zM1117.4 1057.2h1.4v1.4h-1.4zM1120.2 1057.2h1.4v1.4h-1.4zM1121.6 1057.2h1.4v1.4h-1.4zM1125.8 1057.2h1.4v1.4h-1.4zM1127.2 1057.2h1.4v1.4h-1.4zM1128.6 1057.2h1.4v1.4h-1.4zM1130 1057.2h1.4v1.4h-1.4zM1116 1058.6h1.4v1.4h-1.4zM1117.4 1058.6h1.4v1.4h-1.4zM1121.6 1058.6h1.4v1.4h-1.4zM1123 1058.6h1.4v1.4h-1.4zM1124.4 1058.6h1.4v1.4h-1.4zM1128.6 1058.6h1.4v1.4h-1.4zM1130 1058.6h1.4v1.4h-1.4zM1131.4 1058.6h1.4v1.4h-1.4zM1116 1060h1.4v1.4h-1.4zM1118.8 1060h1.4v1.4h-1.4zM1121.6 1060h1.4v1.4h-1.4zM1123 1060h1.4v1.4h-1.4zM1124.4 1060h1.4v1.4h-1.4zM1127.2 1060h1.4v1.4h-1.4zM1131.4 1060h1.4v1.4h-1.4zM1116 1061.4h1.4v1.4h-1.4zM1117.4 1061.4h1.4v1.4h-1.4zM1118.8 1061.4h1.4v1.4h-1.4zM1123 1061.4h1.4v1.4h-1.4zM1130 1061.4h1.4v1.4h-1.4zM1131.4 1061.4h1.4v1.4h-1.4zM1116 1062.8h1.4v1.4h-1.4zM1121.6 1062.8h1.4v1.4h-1.4zM1123 1062.8h1.4v1.4h-1.4zM1125.8 1062.8h1.4v1.4h-1.4zM1127.2 1062.8h1.4v1.4h-1.4zM1128.6 1062.8h1.4v1.4h-1.4zM1131.4 1062.8h1.4v1.4h-1.4zM1116 1064.2h1.4v1.4h-1.4zM1118.8 1064.2h1.4v1.4h-1.4zM1121.6 1064.2h1.4v1.4h-1.4zM1125.8 1064.2h1.4v1.4h-1.4zM1128.6 1064.2h1.4v1.4h-1.4zM1131.4 1064.2h1.4v1.4h-1.4zM1116 1065.6h1.4v1.4h-1.4zM1120.2 1065.6h1.4v1.4h-1.4zM1121.6 1065.6h1.4v1.4h-1.4zM1123 1065.6h1.4v1.4h-1.4zM1124.4 1065.6h1.4v1.4h-1.4zM1125.8 1065.6h1.4v1.4h-1.4zM1128.6 1065.6h1.4v1.4h-1.4zM1130 1065.6h1.4v1.4h-1.4zM1118.8 1067h1.4v1.4h-1.4zM1123 1067h1.4v1.4h-1.4zM1124.4 1067h1.4v1.4h-1.4zM1125.8 1067h1.4v1.4h-1.4zM1128.6 1067h1.4v1.4h-1.4zM1131.4 1067h1.4v1.4h-1.4zM1118.8 1068.4h1.4v1.4h-1.4zM1120.2 1068.4h1.4v1.4h-1.4zM1124.4 1068.4h1.4v1.4h-1.4zM1125.8 1068.4h1.4v1.4h-1.4zM1130 1068.4h1.4v1.4h-1.4zM1116 1069.8h1.4v1.4h-1.4zM1120.2 1069.8h1.4v1.4h-1.4zM1123 1069.8h1.4v1.4h-1.4zM1124.4 1069.8h1.4v1.4h-1.4zM1128.6 1069.8h1.4v1.4h-1.4zM1130 1069.8h1.4v1.4h-1.4zM1116 1071.2h1.4v1.4h-1.4zM1117.4 1071.2h1.4v1.4h-1.4zM1118.8 1071.2h1.4v1.4h-1.4zM1120.2 1071.2h1.4v1.4h-1.4zM1121.6 1071.2h1.4v1.4h-1.4zM1123 1071.2h1.4v1.4h-1.4zM1125.8 1071.2h1.4v1.4h-1.4zM1127.2 1071.2h1.4v1.4h-1.4zM1128.6 1071.2h1.4v1.4h-1.4zM1130 1071.2h1.4v1.4h-1.4zM1131.4 1071.2h1.4v1.4h-1.4zM1118.8 1072.6h1.4v1.4h-1.4zM1123 1072.6h1.4v1.4h-1.4zM1124.4 1072.6h1.4v1.4h-1.4zM1128.6 1072.6h1.4v1.4h-1.4zM1116 1074h1.4v1.4h-1.4zM1124.4 1074h1.4v1.4h-1.4zM1125.8 1074h1.4v1.4h-1.4zM1127.2 1074h1.4v1.4h-1.4z" fill="#30c8ff"/><path d="M1117.4 1075h1.4v1.4h-1.4zM1118.8 1075h1.4v1.4h-1.4zM1120.2 1075h1.4v1.4h-1.4zM1121.6 1075h1.4v1.4h-1.4zM1131.4 1075h1.4v1.4h-1.4zM1116 1076.4h1.4v1.4h-1.4zM1117.4 1076.4h1.4v1.4h-1.4zM1121.6 1076.4h1.4v1.4h-1.4zM1123 1076.4h1.4v1.4h-1.4zM1124.4 1076.4h1.4v1.4h-1.4zM1127.2 1076.4h1.4v1.4h-1.4zM1128.6 1076.4h1.4v1.4h-1.4zM1130 1076.4h1.4v1.4h-1.4zM1120.2 1077.8h1.4v1.4h-1.4zM1121.6 1077.8h1.4v1.4h-1.4zM1124.4 1077.8h1.4v1.4h-1.4zM1125.8 1077.8h1.4v1.4h-1.4zM1128.6 1077.8h1.4v1.4h-1.4zM1131.4 1077.8h1.4v1.4h-1.4zM1118.8 1079.2h1.4v1.4h-1.4zM1120.2 1079.2h1.4v1.4h-1.4zM1121.6 1079.2h1.4v1.4h-1.4zM1123 1079.2h1.4v1.4h-1.4zM1124.4 1079.2h1.4v1.4h-1.4zM1116 1080.6h1.4v1.4h-1.4zM1117.4 1080.6h1.4v1.4h-1.4zM1121.6 1080.6h1.4v1.4h-1.4zM1127.2 1080.6h1.4v1.4h-1.4zM1130 1080.6h1.4v1.4h-1.4zM1116 1082h1.4v1.4h-1.4zM1117.4 1082h1.4v1.4h-1.4zM1118.8 1082h1.4v1.4h-1.4zM1120.2 1082h1.4v1.4h-1.4zM1121.6 1082h1.4v1.4h-1.4zM1116 1083.4h1.4v1.4h-1.4zM1117.4 1083.4h1.4v1.4h-1.4zM1121.6 1083.4h1.4v1.4h-1.4zM1123 1083.4h1.4v1.4h-1.4zM1124.4 1083.4h1.4v1.4h-1.4zM1125.8 1083.4h1.4v1.4h-1.4zM1127.2 1083.4h1.4v1.4h-1.4zM1128.6 1083.4h1.4v1.4h-1.4zM1131.4 1083.4h1.4v1.4h-1.4zM1118.8 1084.8h1.4v1.4h-1.4zM1124.4 1084.8h1.4v1.4h-1.4zM1125.8 1084.8h1.4v1.4h-1.4zM1127.2 1084.8h1.4v1.4h-1.4zM1131.4 1084.8h1.4v1.4h-1.4zM1116 1086.2h1.4v1.4h-1.4zM1117.4 1086.2h1.4v1.4h-1.4zM1120.2 1086.2h1.4v1.4h-1.4zM1123 1086.2h1.4v1.4h-1.4zM1125.8 1086.2h1.4v1.4h-1.4zM1130 1086.2h1.4v1.4h-1.4zM1131.4 1086.2h1.4v1.4h-1.4zM1116 1087.6h1.4v1.4h-1.4zM1117.4 1087.6h1.4v1.4h-1.4zM1120.2 1087.6h1.4v1.4h-1.4zM1124.4 1087.6h1.4v1.4h-1.4zM1128.6 1087.6h1.4v1.4h-1.4zM1117.4 1089h1.4v1.4h-1.4zM1118.8 1089h1.4v1.4h-1.4zM1120.2 1089h1.4v1.4h-1.4zM1123 1089h1.4v1.4h-1.4zM1125.8 1089h1.4v1.4h-1.4zM1127.2 1089h1.4v1.4h-1.4zM1128.6 1089h1.4v1.4h-1.4zM1130 1089h1.4v1.4h-1.4zM1131.4 1089h1.4v1.4h-1.4z" fill="#30e8f0"/><rect x="1116" y="1090" width="4.5" height="31.6" fill="#b0ff50" opacity="0.9"/><rect x="1126" y="1097" width="6" height="18" fill="#30d0ff" opacity="0.7"/><rect x="1469" y="1034" width="8.7" height="56" fill="#20a8ff" opacity="0.6"/><path d="M1471.8 1024h1.4v1.4h-1.4zM1473.2 1024h1.4v1.4h-1.4zM1474.6 1024h1.4v1.4h-1.4zM1476 1024h1.4v1.4h-1.4zM1469 1025.4h1.4v1.4h-1.4zM1471.8 1025.4h1.4v1.4h-1.4zM1473.2 1025.4h1.4v1.4h-1.4zM1477.4 1025.4h1.4v1.4h-1.4zM1470.4 1026.8h1.4v1.4h-1.4zM1473.2 1026.8h1.4v1.4h-1.4zM1477.4 1026.8h1.4v1.4h-1.4zM1469 1028.2h1.4v1.4h-1.4zM1473.2 1028.2h1.4v1.4h-1.4zM1474.6 1028.2h1.4v1.4h-1.4zM1477.4 1028.2h1.4v1.4h-1.4zM1469 1029.6h1.4v1.4h-1.4zM1471.8 1029.6h1.4v1.4h-1.4zM1477.4 1029.6h1.4v1.4h-1.4zM1469 1031h1.4v1.4h-1.4zM1470.4 1031h1.4v1.4h-1.4zM1471.8 1031h1.4v1.4h-1.4zM1473.2 1031h1.4v1.4h-1.4zM1474.6 1031h1.4v1.4h-1.4zM1476 1031h1.4v1.4h-1.4zM1477.4 1031h1.4v1.4h-1.4zM1474.6 1032.4h1.4v1.4h-1.4zM1476 1032.4h1.4v1.4h-1.4zM1477.4 1032.4h1.4v1.4h-1.4zM1470.4 1033.8h1.4v1.4h-1.4zM1471.8 1033.8h1.4v1.4h-1.4zM1473.2 1033.8h1.4v1.4h-1.4zM1474.6 1033.8h1.4v1.4h-1.4zM1477.4 1033.8h1.4v1.4h-1.4zM1469 1035.2h1.4v1.4h-1.4zM1470.4 1035.2h1.4v1.4h-1.4zM1471.8 1035.2h1.4v1.4h-1.4zM1473.2 1035.2h1.4v1.4h-1.4zM1474.6 1035.2h1.4v1.4h-1.4zM1476 1035.2h1.4v1.4h-1.4zM1477.4 1035.2h1.4v1.4h-1.4zM1470.4 1036.6h1.4v1.4h-1.4zM1471.8 1036.6h1.4v1.4h-1.4zM1474.6 1036.6h1.4v1.4h-1.4zM1477.4 1036.6h1.4v1.4h-1.4zM1474.6 1038h1.4v1.4h-1.4zM1469 1039.4h1.4v1.4h-1.4zM1470.4 1039.4h1.4v1.4h-1.4zM1471.8 1039.4h1.4v1.4h-1.4zM1473.2 1039.4h1.4v1.4h-1.4zM1476 1039.4h1.4v1.4h-1.4zM1477.4 1039.4h1.4v1.4h-1.4zM1470.4 1040.8h1.4v1.4h-1.4zM1474.6 1040.8h1.4v1.4h-1.4zM1477.4 1040.8h1.4v1.4h-1.4zM1469 1042.2h1.4v1.4h-1.4zM1470.4 1042.2h1.4v1.4h-1.4zM1471.8 1042.2h1.4v1.4h-1.4zM1474.6 1042.2h1.4v1.4h-1.4zM1477.4 1042.2h1.4v1.4h-1.4zM1469 1043.6h1.4v1.4h-1.4zM1470.4 1043.6h1.4v1.4h-1.4zM1474.6 1043.6h1.4v1.4h-1.4zM1476 1043.6h1.4v1.4h-1.4zM1469 1045h1.4v1.4h-1.4zM1470.4 1045h1.4v1.4h-1.4zM1473.2 1045h1.4v1.4h-1.4zM1474.6 1045h1.4v1.4h-1.4zM1469 1046.4h1.4v1.4h-1.4zM1470.4 1046.4h1.4v1.4h-1.4zM1471.8 1046.4h1.4v1.4h-1.4zM1473.2 1046.4h1.4v1.4h-1.4zM1476 1046.4h1.4v1.4h-1.4zM1470.4 1047.8h1.4v1.4h-1.4zM1473.2 1047.8h1.4v1.4h-1.4zM1477.4 1047.8h1.4v1.4h-1.4zM1469 1049.2h1.4v1.4h-1.4zM1471.8 1049.2h1.4v1.4h-1.4zM1473.2 1049.2h1.4v1.4h-1.4z" fill="#2a80ff"/><path d="M1470.4 1050h1.4v1.4h-1.4zM1471.8 1050h1.4v1.4h-1.4zM1474.6 1050h1.4v1.4h-1.4zM1476 1050h1.4v1.4h-1.4zM1469 1051.4h1.4v1.4h-1.4zM1471.8 1051.4h1.4v1.4h-1.4zM1476 1051.4h1.4v1.4h-1.4zM1470.4 1052.8h1.4v1.4h-1.4zM1471.8 1052.8h1.4v1.4h-1.4zM1473.2 1052.8h1.4v1.4h-1.4zM1477.4 1052.8h1.4v1.4h-1.4zM1471.8 1054.2h1.4v1.4h-1.4zM1473.2 1054.2h1.4v1.4h-1.4zM1476 1054.2h1.4v1.4h-1.4zM1471.8 1055.6h1.4v1.4h-1.4zM1473.2 1055.6h1.4v1.4h-1.4zM1474.6 1055.6h1.4v1.4h-1.4zM1476 1055.6h1.4v1.4h-1.4zM1471.8 1057h1.4v1.4h-1.4zM1474.6 1057h1.4v1.4h-1.4zM1476 1057h1.4v1.4h-1.4zM1470.4 1058.4h1.4v1.4h-1.4zM1473.2 1058.4h1.4v1.4h-1.4zM1476 1058.4h1.4v1.4h-1.4zM1477.4 1058.4h1.4v1.4h-1.4zM1469 1059.8h1.4v1.4h-1.4zM1470.4 1059.8h1.4v1.4h-1.4zM1474.6 1059.8h1.4v1.4h-1.4zM1476 1059.8h1.4v1.4h-1.4zM1477.4 1059.8h1.4v1.4h-1.4zM1469 1061.2h1.4v1.4h-1.4zM1470.4 1061.2h1.4v1.4h-1.4zM1471.8 1061.2h1.4v1.4h-1.4zM1474.6 1061.2h1.4v1.4h-1.4zM1476 1061.2h1.4v1.4h-1.4zM1469 1062.6h1.4v1.4h-1.4zM1471.8 1062.6h1.4v1.4h-1.4zM1473.2 1062.6h1.4v1.4h-1.4zM1476 1062.6h1.4v1.4h-1.4zM1477.4 1062.6h1.4v1.4h-1.4zM1469 1064h1.4v1.4h-1.4zM1470.4 1064h1.4v1.4h-1.4zM1471.8 1064h1.4v1.4h-1.4zM1476 1064h1.4v1.4h-1.4zM1477.4 1064h1.4v1.4h-1.4zM1470.4 1065.4h1.4v1.4h-1.4zM1471.8 1065.4h1.4v1.4h-1.4zM1476 1065.4h1.4v1.4h-1.4zM1477.4 1065.4h1.4v1.4h-1.4zM1469 1066.8h1.4v1.4h-1.4zM1470.4 1066.8h1.4v1.4h-1.4zM1471.8 1066.8h1.4v1.4h-1.4zM1473.2 1066.8h1.4v1.4h-1.4zM1474.6 1066.8h1.4v1.4h-1.4zM1469 1068.2h1.4v1.4h-1.4zM1470.4 1068.2h1.4v1.4h-1.4zM1471.8 1068.2h1.4v1.4h-1.4zM1469 1069.6h1.4v1.4h-1.4zM1470.4 1069.6h1.4v1.4h-1.4zM1471.8 1069.6h1.4v1.4h-1.4zM1473.2 1069.6h1.4v1.4h-1.4zM1476 1069.6h1.4v1.4h-1.4zM1469 1071h1.4v1.4h-1.4zM1470.4 1071h1.4v1.4h-1.4zM1471.8 1071h1.4v1.4h-1.4zM1473.2 1071h1.4v1.4h-1.4zM1474.6 1071h1.4v1.4h-1.4z" fill="#30d8ff"/><path d="M1474.6 1072h1.4v1.4h-1.4zM1477.4 1072h1.4v1.4h-1.4zM1469 1073.4h1.4v1.4h-1.4zM1470.4 1073.4h1.4v1.4h-1.4zM1473.2 1073.4h1.4v1.4h-1.4zM1476 1073.4h1.4v1.4h-1.4zM1477.4 1073.4h1.4v1.4h-1.4zM1470.4 1074.8h1.4v1.4h-1.4zM1471.8 1074.8h1.4v1.4h-1.4zM1473.2 1074.8h1.4v1.4h-1.4zM1476 1074.8h1.4v1.4h-1.4zM1477.4 1074.8h1.4v1.4h-1.4zM1469 1076.2h1.4v1.4h-1.4zM1470.4 1076.2h1.4v1.4h-1.4zM1471.8 1076.2h1.4v1.4h-1.4zM1473.2 1076.2h1.4v1.4h-1.4zM1474.6 1076.2h1.4v1.4h-1.4zM1477.4 1076.2h1.4v1.4h-1.4zM1469 1077.6h1.4v1.4h-1.4zM1471.8 1077.6h1.4v1.4h-1.4zM1474.6 1077.6h1.4v1.4h-1.4zM1476 1077.6h1.4v1.4h-1.4zM1469 1079h1.4v1.4h-1.4zM1470.4 1079h1.4v1.4h-1.4zM1476 1079h1.4v1.4h-1.4zM1471.8 1080.4h1.4v1.4h-1.4zM1473.2 1080.4h1.4v1.4h-1.4zM1474.6 1080.4h1.4v1.4h-1.4zM1476 1080.4h1.4v1.4h-1.4zM1477.4 1080.4h1.4v1.4h-1.4zM1474.6 1081.8h1.4v1.4h-1.4zM1477.4 1081.8h1.4v1.4h-1.4zM1469 1083.2h1.4v1.4h-1.4zM1470.4 1083.2h1.4v1.4h-1.4zM1471.8 1083.2h1.4v1.4h-1.4zM1473.2 1083.2h1.4v1.4h-1.4zM1474.6 1083.2h1.4v1.4h-1.4zM1476 1083.2h1.4v1.4h-1.4zM1477.4 1083.2h1.4v1.4h-1.4zM1469 1084.6h1.4v1.4h-1.4zM1470.4 1084.6h1.4v1.4h-1.4zM1471.8 1084.6h1.4v1.4h-1.4zM1473.2 1084.6h1.4v1.4h-1.4zM1476 1084.6h1.4v1.4h-1.4zM1469 1086h1.4v1.4h-1.4zM1470.4 1086h1.4v1.4h-1.4zM1477.4 1086h1.4v1.4h-1.4zM1470.4 1087.4h1.4v1.4h-1.4zM1471.8 1087.4h1.4v1.4h-1.4zM1473.2 1087.4h1.4v1.4h-1.4zM1469 1088.8h1.4v1.4h-1.4zM1471.8 1088.8h1.4v1.4h-1.4zM1473.2 1088.8h1.4v1.4h-1.4zM1476 1088.8h1.4v1.4h-1.4z" fill="#80ff80"/><rect x="1469" y="1090" width="3" height="31.6" fill="#40c0ff" opacity="0.8"/><rect x="1019" y="1089" width="5" height="32.6" fill="#30d8ff" opacity="0.8"/><rect x="1036" y="969.5" width="1" height="152" fill="#2a5aff" opacity="0.45"/><rect x="1166" y="969.5" width="1" height="152" fill="#2a5aff" opacity="0.45"/><rect x="1182" y="969.5" width="1" height="152" fill="#2a5aff" opacity="0.45"/><rect x="1209" y="969.5" width="1" height="152" fill="#2a5aff" opacity="0.45"/><rect x="1232" y="969.5" width="1" height="152" fill="#2a5aff" opacity="0.45"/><rect x="1246" y="969.5" width="1" height="152" fill="#2a5aff" opacity="0.45"/><rect x="1262" y="969.5" width="1" height="152" fill="#2a5aff" opacity="0.45"/><rect x="1276" y="969.5" width="1" height="152" fill="#2a5aff" opacity="0.45"/><rect x="1311" y="969.5" width="1" height="152" fill="#2a5aff" opacity="0.45"/><rect x="1325" y="969.5" width="1" height="152" fill="#2a5aff" opacity="0.45"/><rect x="1343" y="969.5" width="1" height="152" fill="#2a5aff" opacity="0.45"/><rect x="1391" y="969.5" width="1" height="152" fill="#2a5aff" opacity="0.45"/><rect x="1446" y="969.5" width="1" height="152" fill="#2a5aff" opacity="0.45"/><rect x="1463" y="969.5" width="1" height="152" fill="#2a5aff" opacity="0.45"/>
<path d="M263 975.5 H1800 M263 980.5 H1800 M263 984.5 H1800 M263 987.5 H1800 M263 990.5 H1800 M263 993.5 H1800 M263 995.5 H1800 M263 1011.5 H1800 M263 1020.5 H1800 M263 1026.5 H1800 M263 1031.5 H1800 M263 1035.5 H1800 M263 1038.5 H1800 M263 1041.5 H1800 M263 1044.5 H1800 M263 1046.5 H1800 M263 1062.5 H1800 M263 1071.5 H1800 M263 1077.5 H1800 M263 1082.5 H1800 M263 1086.5 H1800 M263 1089.5 H1800 M263 1092.5 H1800 M263 1095.5 H1800 M263 1097.5 H1800 M263 1113.5 H1800 M263 1122.5 H1800" stroke="#000" stroke-width="1" stroke-dasharray="1 4" fill="none" shape-rendering="crispEdges"/>
<path d="M441.5 970 V1106 M622.5 970 V1106 M803.5 970 V1106 M1087.5 970 V1106 M1267.5 970 V1106 M1448.5 970 V1106 M1628.5 970 V1106" stroke="#000" stroke-width="1" stroke-dasharray="1 4" fill="none" shape-rendering="crispEdges"/>
<rect x="726" y="969.5" width="1" height="152.1" fill="url(#g013)"/><rect x="727" y="969.5" width="3" height="152.1" fill="url(#g000)"/><rect x="730" y="969.5" width="2" height="152.1" fill="url(#g114)"/><rect x="732" y="969.5" width="4" height="152.1" fill="url(#g000)"/><rect x="736" y="969.5" width="3" height="152.1" fill="url(#g003)"/><rect x="739" y="969.5" width="1" height="152.1" fill="url(#g122)"/><rect x="740" y="969.5" width="2" height="152.1" fill="url(#g104)"/><rect x="742" y="969.5" width="3" height="152.1" fill="url(#g203)"/><rect x="745" y="969.5" width="3" height="152.1" fill="url(#g010)"/><rect x="748" y="969.5" width="3" height="152.1" fill="url(#g123)"/><rect x="751" y="969.5" width="2" height="152.1" fill="url(#g014)"/><rect x="753" y="969.5" width="1" height="152.1" fill="url(#g013)"/><rect x="754" y="969.5" width="1" height="152.1" fill="url(#g114)"/><rect x="755" y="969.5" width="1" height="152.1" fill="url(#g004)"/><rect x="756" y="969.5" width="1" height="152.1" fill="url(#g113)"/><rect x="757" y="969.5" width="2" height="152.1" fill="url(#g001)"/><rect x="759" y="969.5" width="1" height="152.1" fill="url(#g110)"/><rect x="760" y="969.5" width="1" height="152.1" fill="url(#g011)"/><rect x="761" y="969.5" width="2" height="152.1" fill="url(#g200)"/><rect x="763" y="969.5" width="1" height="152.1" fill="url(#g223)"/><rect x="764" y="969.5" width="2" height="152.1" fill="url(#g023)"/><rect x="766" y="969.5" width="2" height="152.1" fill="url(#g013)"/><rect x="768" y="969.5" width="2" height="152.1" fill="url(#g121)"/><rect x="770" y="969.5" width="3" height="152.1" fill="url(#g110)"/><rect x="773" y="969.5" width="3" height="152.1" fill="url(#g201)"/><rect x="776" y="969.5" width="2" height="152.1" fill="url(#g112)"/><rect x="778" y="969.5" width="1" height="152.1" fill="url(#g103)"/><rect x="779" y="969.5" width="2" height="152.1" fill="url(#g003)"/><rect x="781" y="969.5" width="2" height="152.1" fill="url(#g123)"/><rect x="783" y="969.5" width="1" height="152.1" fill="url(#g000)"/><rect x="784" y="969.5" width="2" height="152.1" fill="url(#g002)"/><rect x="786" y="969.5" width="1" height="152.1" fill="url(#g113)"/><rect x="787" y="969.5" width="3" height="152.1" fill="url(#g003)"/><rect x="790" y="969.5" width="1" height="152.1" fill="url(#g002)"/><rect x="791" y="969.5" width="3" height="152.1" fill="url(#g100)"/><rect x="794" y="969.5" width="1" height="152.1" fill="url(#g103)"/><rect x="795" y="969.5" width="3" height="152.1" fill="url(#g012)"/><rect x="798" y="969.5" width="1" height="152.1" fill="url(#g001)"/><rect x="799" y="969.5" width="1" height="152.1" fill="url(#g013)"/><rect x="800" y="969.5" width="2" height="152.1" fill="url(#g200)"/><rect x="802" y="969.5" width="2" height="152.1" fill="url(#g000)"/><rect x="804" y="969.5" width="2" height="152.1" fill="url(#g023)"/><rect x="806" y="969.5" width="3" height="152.1" fill="url(#g000)"/><rect x="809" y="969.5" width="1" height="152.1" fill="url(#g104)"/><rect x="810" y="969.5" width="2" height="152.1" fill="url(#g004)"/><rect x="812" y="969.5" width="1" height="152.1" fill="url(#g113)"/><rect x="813" y="969.5" width="1" height="152.1" fill="url(#g212)"/><rect x="814" y="969.5" width="3" height="152.1" fill="url(#g022)"/><rect x="817" y="969.5" width="1" height="152.1" fill="url(#g204)"/><rect x="818" y="969.5" width="2" height="152.1" fill="url(#g013)"/><rect x="820" y="969.5" width="2" height="152.1" fill="url(#g000)"/><rect x="822" y="969.5" width="1" height="152.1" fill="url(#g021)"/><rect x="823" y="969.5" width="2" height="152.1" fill="url(#g014)"/><rect x="825" y="969.5" width="1" height="152.1" fill="url(#g013)"/><rect x="826" y="969.5" width="1" height="152.1" fill="url(#g102)"/><rect x="827" y="969.5" width="3" height="152.1" fill="url(#g014)"/><rect x="830" y="969.5" width="3" height="152.1" fill="url(#g114)"/><rect x="833" y="969.5" width="1" height="152.1" fill="url(#g111)"/><rect x="834" y="969.5" width="2" height="152.1" fill="url(#g024)"/><rect x="836" y="969.5" width="2" height="152.1" fill="url(#g001)"/><rect x="838" y="969.5" width="4" height="152.1" fill="url(#g203)"/><rect x="842" y="969.5" width="1" height="152.1" fill="url(#g014)"/><rect x="843" y="969.5" width="2" height="152.1" fill="url(#g213)"/><rect x="845" y="969.5" width="1" height="152.1" fill="url(#g210)"/><rect x="846" y="969.5" width="3" height="152.1" fill="url(#g111)"/><rect x="849" y="969.5" width="2" height="152.1" fill="url(#g124)"/><rect x="851" y="969.5" width="2" height="152.1" fill="url(#g103)"/><rect x="853" y="969.5" width="1" height="152.1" fill="url(#g110)"/><rect x="854" y="969.5" width="1" height="152.1" fill="url(#g124)"/><rect x="855" y="969.5" width="1" height="152.1" fill="url(#g000)"/><rect x="856" y="969.5" width="3" height="152.1" fill="url(#g013)"/><rect x="859" y="969.5" width="3" height="152.1" fill="url(#g110)"/><rect x="862" y="969.5" width="2" height="152.1" fill="url(#g120)"/><rect x="864" y="969.5" width="2" height="152.1" fill="url(#g100)"/><rect x="866" y="969.5" width="2" height="152.1" fill="url(#g110)"/><rect x="868" y="969.5" width="1" height="152.1" fill="url(#g014)"/><rect x="869" y="969.5" width="2" height="152.1" fill="url(#g120)"/><rect x="871" y="969.5" width="2" height="152.1" fill="url(#g211)"/><rect x="873" y="969.5" width="1" height="152.1" fill="url(#g220)"/><rect x="874" y="969.5" width="2" height="152.1" fill="url(#g010)"/><rect x="876" y="969.5" width="2" height="152.1" fill="url(#g102)"/><rect x="878" y="969.5" width="3" height="152.1" fill="url(#g110)"/><rect x="881" y="969.5" width="3" height="152.1" fill="url(#g200)"/><rect x="884" y="969.5" width="1" height="152.1" fill="url(#g010)"/><rect x="885" y="969.5" width="2" height="152.1" fill="url(#g210)"/><rect x="887" y="969.5" width="5" height="152.1" fill="url(#g020)"/><rect x="892" y="969.5" width="2" height="152.1" fill="url(#g220)"/><rect x="894" y="969.5" width="3" height="152.1" fill="url(#g211)"/><rect x="897" y="969.5" width="2" height="152.1" fill="url(#g100)"/><rect x="899" y="969.5" width="2" height="152.1" fill="url(#g010)"/><rect x="901" y="969.5" width="1" height="152.1" fill="url(#g120)"/><rect x="902" y="969.5" width="1" height="152.1" fill="url(#g201)"/><rect x="903" y="969.5" width="1" height="152.1" fill="url(#g210)"/><rect x="904" y="969.5" width="1" height="152.1" fill="url(#g200)"/><rect x="905" y="969.5" width="2" height="152.1" fill="url(#g111)"/><rect x="907" y="969.5" width="2" height="152.1" fill="url(#g110)"/><rect x="909" y="969.5" width="1" height="152.1" fill="url(#g020)"/><rect x="910" y="969.5" width="1" height="152.1" fill="url(#g003)"/><rect x="911" y="969.5" width="1" height="152.1" fill="url(#g121)"/><rect x="1019" y="969.5" width="1" height="152.1" fill="url(#g023)"/><rect x="1020" y="969.5" width="1" height="152.1" fill="url(#g104)"/><rect x="1021" y="969.5" width="2" height="152.1" fill="url(#g024)"/><rect x="1023" y="969.5" width="2" height="152.1" fill="url(#g012)"/><rect x="1025" y="969.5" width="3" height="152.1" fill="url(#g024)"/><rect x="1028" y="969.5" width="3" height="152.1" fill="url(#g220)"/><rect x="1031" y="969.5" width="1" height="152.1" fill="url(#g002)"/><rect x="1032" y="969.5" width="2" height="152.1" fill="url(#g010)"/><rect x="1034" y="969.5" width="1" height="152.1" fill="url(#g020)"/><rect x="1035" y="969.5" width="1" height="152.1" fill="url(#g022)"/><rect x="1036" y="969.5" width="2" height="152.1" fill="url(#g001)"/><rect x="1038" y="969.5" width="1" height="152.1" fill="url(#g020)"/><rect x="1039" y="969.5" width="3" height="152.1" fill="url(#g100)"/><rect x="1042" y="969.5" width="2" height="152.1" fill="url(#g001)"/><rect x="1044" y="969.5" width="2" height="152.1" fill="url(#g004)"/><rect x="1046" y="969.5" width="5" height="152.1" fill="url(#g123)"/><rect x="1051" y="969.5" width="1" height="152.1" fill="url(#g000)"/><rect x="1052" y="969.5" width="2" height="152.1" fill="url(#g102)"/><rect x="1054" y="969.5" width="1" height="152.1" fill="url(#g001)"/><rect x="1055" y="969.5" width="2" height="152.1" fill="url(#g100)"/><rect x="1057" y="969.5" width="2" height="152.1" fill="url(#g004)"/><rect x="1059" y="969.5" width="1" height="152.1" fill="url(#g100)"/><rect x="1060" y="969.5" width="1" height="152.1" fill="url(#g220)"/><rect x="1061" y="969.5" width="2" height="152.1" fill="url(#g021)"/><rect x="1063" y="969.5" width="2" height="152.1" fill="url(#g014)"/><rect x="1065" y="969.5" width="1" height="152.1" fill="url(#g013)"/><rect x="1066" y="969.5" width="2" height="152.1" fill="url(#g003)"/><rect x="1068" y="969.5" width="2" height="152.1" fill="url(#g004)"/><rect x="1070" y="969.5" width="3" height="152.1" fill="url(#g000)"/><rect x="1073" y="969.5" width="2" height="152.1" fill="url(#g004)"/><rect x="1075" y="969.5" width="2" height="152.1" fill="url(#g003)"/><rect x="1077" y="969.5" width="2" height="152.1" fill="url(#g000)"/><rect x="1079" y="969.5" width="3" height="152.1" fill="url(#g121)"/><rect x="1082" y="969.5" width="1" height="152.1" fill="url(#g011)"/><rect x="1083" y="969.5" width="3" height="152.1" fill="url(#g100)"/><rect x="1086" y="969.5" width="1" height="152.1" fill="url(#g213)"/><rect x="1087" y="969.5" width="2" height="152.1" fill="url(#g003)"/><rect x="1089" y="969.5" width="2" height="152.1" fill="url(#g020)"/><rect x="1091" y="969.5" width="3" height="152.1" fill="url(#g220)"/><rect x="1094" y="969.5" width="1" height="152.1" fill="url(#g101)"/><rect x="1095" y="969.5" width="2" height="152.1" fill="url(#g000)"/><rect x="1097" y="969.5" width="3" height="152.1" fill="url(#g011)"/><rect x="1100" y="969.5" width="2" height="152.1" fill="url(#g013)"/><rect x="1102" y="969.5" width="1" height="152.1" fill="url(#g111)"/><rect x="1103" y="969.5" width="1" height="152.1" fill="url(#g002)"/><rect x="1104" y="969.5" width="2" height="152.1" fill="url(#g023)"/><rect x="1106" y="969.5" width="2" height="152.1" fill="url(#g112)"/><rect x="1108" y="969.5" width="2" height="152.1" fill="url(#g010)"/><rect x="1110" y="969.5" width="1" height="152.1" fill="url(#g103)"/><rect x="1111" y="969.5" width="1" height="152.1" fill="url(#g202)"/><rect x="1112" y="969.5" width="1" height="152.1" fill="url(#g011)"/><rect x="1113" y="969.5" width="2" height="152.1" fill="url(#g001)"/><rect x="1115" y="969.5" width="1" height="152.1" fill="url(#g020)"/><rect x="1116" y="969.5" width="1" height="152.1" fill="url(#g022)"/><rect x="1117" y="969.5" width="2" height="152.1" fill="url(#g100)"/><rect x="1119" y="969.5" width="3" height="152.1" fill="url(#g021)"/><rect x="1122" y="969.5" width="3" height="152.1" fill="url(#g000)"/><rect x="1125" y="969.5" width="2" height="152.1" fill="url(#g210)"/><rect x="1127" y="969.5" width="2" height="152.1" fill="url(#g103)"/><rect x="1129" y="969.5" width="2" height="152.1" fill="url(#g201)"/><rect x="1131" y="969.5" width="4" height="152.1" fill="url(#g010)"/><rect x="1135" y="969.5" width="2" height="152.1" fill="url(#g110)"/><rect x="1137" y="969.5" width="1" height="152.1" fill="url(#g012)"/><rect x="1138" y="969.5" width="1" height="152.1" fill="url(#g000)"/><rect x="1139" y="969.5" width="1" height="152.1" fill="url(#g113)"/><rect x="1140" y="969.5" width="2" height="152.1" fill="url(#g120)"/><rect x="1142" y="969.5" width="3" height="152.1" fill="url(#g110)"/><rect x="1145" y="969.5" width="2" height="152.1" fill="url(#g000)"/><rect x="1147" y="969.5" width="3" height="152.1" fill="url(#g010)"/><rect x="1150" y="969.5" width="3" height="152.1" fill="url(#g000)"/><rect x="1153" y="969.5" width="1" height="152.1" fill="url(#g111)"/><rect x="1154" y="969.5" width="1" height="152.1" fill="url(#g120)"/><rect x="1155" y="969.5" width="3" height="152.1" fill="url(#g210)"/><rect x="1158" y="969.5" width="3" height="152.1" fill="url(#g120)"/><rect x="1161" y="969.5" width="2" height="152.1" fill="url(#g022)"/><rect x="1163" y="969.5" width="1" height="152.1" fill="url(#g213)"/><rect x="1164" y="969.5" width="1" height="152.1" fill="url(#g010)"/><rect x="1165" y="969.5" width="3" height="152.1" fill="url(#g001)"/><rect x="1168" y="969.5" width="1" height="152.1" fill="url(#g010)"/><rect x="1169" y="969.5" width="2" height="152.1" fill="url(#g112)"/><rect x="1171" y="969.5" width="1" height="152.1" fill="url(#g000)"/><rect x="1172" y="969.5" width="1" height="152.1" fill="url(#g021)"/><rect x="1173" y="969.5" width="1" height="152.1" fill="url(#g102)"/><rect x="1174" y="969.5" width="3" height="152.1" fill="url(#g101)"/><rect x="1177" y="969.5" width="2" height="152.1" fill="url(#g020)"/><rect x="1179" y="969.5" width="1" height="152.1" fill="url(#g000)"/><rect x="1180" y="969.5" width="2" height="152.1" fill="url(#g120)"/><rect x="1182" y="969.5" width="1" height="152.1" fill="url(#g220)"/><rect x="1183" y="969.5" width="1" height="152.1" fill="url(#g001)"/><rect x="1184" y="969.5" width="3" height="152.1" fill="url(#g012)"/><rect x="1187" y="969.5" width="1" height="152.1" fill="url(#g022)"/><rect x="1188" y="969.5" width="1" height="152.1" fill="url(#g021)"/><rect x="1189" y="969.5" width="2" height="152.1" fill="url(#g210)"/><rect x="1191" y="969.5" width="3" height="152.1" fill="url(#g000)"/><rect x="1194" y="969.5" width="1" height="152.1" fill="url(#g110)"/><rect x="1195" y="969.5" width="2" height="152.1" fill="url(#g111)"/><rect x="1197" y="969.5" width="5" height="152.1" fill="url(#g010)"/><rect x="1202" y="969.5" width="1" height="152.1" fill="url(#g001)"/><rect x="1203" y="969.5" width="1" height="152.1" fill="url(#g003)"/><rect x="1204" y="969.5" width="1" height="152.1" fill="url(#g101)"/><rect x="1205" y="969.5" width="1" height="152.1" fill="url(#g001)"/><rect x="1206" y="969.5" width="1" height="152.1" fill="url(#g201)"/><rect x="1207" y="969.5" width="1" height="152.1" fill="url(#g000)"/><rect x="1208" y="969.5" width="3" height="152.1" fill="url(#g200)"/><rect x="1211" y="969.5" width="2" height="152.1" fill="url(#g001)"/><rect x="1213" y="969.5" width="2" height="152.1" fill="url(#g100)"/><rect x="1215" y="969.5" width="2" height="152.1" fill="url(#g203)"/><rect x="1217" y="969.5" width="2" height="152.1" fill="url(#g100)"/><rect x="1219" y="969.5" width="1" height="152.1" fill="url(#g010)"/><rect x="1220" y="969.5" width="2" height="152.1" fill="url(#g013)"/><rect x="1222" y="969.5" width="3" height="152.1" fill="url(#g010)"/><rect x="1225" y="969.5" width="2" height="152.1" fill="url(#g200)"/><rect x="1227" y="969.5" width="1" height="152.1" fill="url(#g000)"/><rect x="1228" y="969.5" width="1" height="152.1" fill="url(#g201)"/><rect x="1229" y="969.5" width="2" height="152.1" fill="url(#g110)"/><rect x="1231" y="969.5" width="1" height="152.1" fill="url(#g020)"/><rect x="1232" y="969.5" width="1" height="152.1" fill="url(#g011)"/><rect x="1233" y="969.5" width="2" height="152.1" fill="url(#g001)"/><rect x="1235" y="969.5" width="2" height="152.1" fill="url(#g113)"/><rect x="1237" y="969.5" width="2" height="152.1" fill="url(#g000)"/><rect x="1239" y="969.5" width="2" height="152.1" fill="url(#g200)"/><rect x="1241" y="969.5" width="1" height="152.1" fill="url(#g221)"/><rect x="1242" y="969.5" width="2" height="152.1" fill="url(#g100)"/><rect x="1244" y="969.5" width="3" height="152.1" fill="url(#g122)"/><rect x="1247" y="969.5" width="1" height="152.1" fill="url(#g200)"/><rect x="1248" y="969.5" width="2" height="152.1" fill="url(#g101)"/><rect x="1250" y="969.5" width="2" height="152.1" fill="url(#g200)"/><rect x="1252" y="969.5" width="3" height="152.1" fill="url(#g010)"/><rect x="1255" y="969.5" width="1" height="152.1" fill="url(#g113)"/><rect x="1256" y="969.5" width="1" height="152.1" fill="url(#g000)"/><rect x="1257" y="969.5" width="1" height="152.1" fill="url(#g010)"/><rect x="1258" y="969.5" width="2" height="152.1" fill="url(#g100)"/><rect x="1260" y="969.5" width="1" height="152.1" fill="url(#g000)"/><rect x="1261" y="969.5" width="1" height="152.1" fill="url(#g101)"/><rect x="1262" y="969.5" width="2" height="152.1" fill="url(#g012)"/><rect x="1264" y="969.5" width="2" height="152.1" fill="url(#g100)"/><rect x="1266" y="969.5" width="3" height="152.1" fill="url(#g000)"/><rect x="1269" y="969.5" width="2" height="152.1" fill="url(#g021)"/><rect x="1271" y="969.5" width="3" height="152.1" fill="url(#g000)"/><rect x="1274" y="969.5" width="2" height="152.1" fill="url(#g210)"/><rect x="1276" y="969.5" width="3" height="152.1" fill="url(#g201)"/><rect x="1279" y="969.5" width="1" height="152.1" fill="url(#g112)"/><rect x="1280" y="969.5" width="2" height="152.1" fill="url(#g111)"/><rect x="1282" y="969.5" width="3" height="152.1" fill="url(#g200)"/><rect x="1285" y="969.5" width="4" height="152.1" fill="url(#g000)"/><rect x="1289" y="969.5" width="1" height="152.1" fill="url(#g001)"/><rect x="1290" y="969.5" width="2" height="152.1" fill="url(#g201)"/><rect x="1292" y="969.5" width="3" height="152.1" fill="url(#g102)"/><rect x="1295" y="969.5" width="2" height="152.1" fill="url(#g010)"/><rect x="1297" y="969.5" width="2" height="152.1" fill="url(#g001)"/><rect x="1299" y="969.5" width="1" height="152.1" fill="url(#g210)"/><rect x="1300" y="969.5" width="1" height="152.1" fill="url(#g011)"/><rect x="1301" y="969.5" width="2" height="152.1" fill="url(#g002)"/><rect x="1303" y="969.5" width="3" height="152.1" fill="url(#g210)"/><rect x="1306" y="969.5" width="3" height="152.1" fill="url(#g122)"/><rect x="1309" y="969.5" width="2" height="152.1" fill="url(#g000)"/><rect x="1311" y="969.5" width="2" height="152.1" fill="url(#g010)"/><rect x="1313" y="969.5" width="3" height="152.1" fill="url(#g022)"/><rect x="1316" y="969.5" width="2" height="152.1" fill="url(#g010)"/><rect x="1318" y="969.5" width="2" height="152.1" fill="url(#g000)"/><rect x="1320" y="969.5" width="3" height="152.1" fill="url(#g001)"/><rect x="1323" y="969.5" width="1" height="152.1" fill="url(#g121)"/><rect x="1324" y="969.5" width="2" height="152.1" fill="url(#g200)"/><rect x="1326" y="969.5" width="3" height="152.1" fill="url(#g102)"/><rect x="1329" y="969.5" width="1" height="152.1" fill="url(#g010)"/><rect x="1330" y="969.5" width="2" height="152.1" fill="url(#g100)"/><rect x="1332" y="969.5" width="2" height="152.1" fill="url(#g013)"/><rect x="1334" y="969.5" width="2" height="152.1" fill="url(#g121)"/><rect x="1336" y="969.5" width="2" height="152.1" fill="url(#g200)"/><rect x="1338" y="969.5" width="2" height="152.1" fill="url(#g010)"/><rect x="1340" y="969.5" width="2" height="152.1" fill="url(#g104)"/><rect x="1342" y="969.5" width="1" height="152.1" fill="url(#g002)"/><rect x="1343" y="969.5" width="1" height="152.1" fill="url(#g100)"/><rect x="1344" y="969.5" width="2" height="152.1" fill="url(#g212)"/><rect x="1346" y="969.5" width="1" height="152.1" fill="url(#g202)"/><rect x="1347" y="969.5" width="2" height="152.1" fill="url(#g001)"/><rect x="1349" y="969.5" width="1" height="152.1" fill="url(#g114)"/><rect x="1350" y="969.5" width="2" height="152.1" fill="url(#g202)"/><rect x="1352" y="969.5" width="3" height="152.1" fill="url(#g013)"/><rect x="1355" y="969.5" width="2" height="152.1" fill="url(#g011)"/><rect x="1357" y="969.5" width="2" height="152.1" fill="url(#g003)"/><rect x="1359" y="969.5" width="1" height="152.1" fill="url(#g001)"/><rect x="1360" y="969.5" width="2" height="152.1" fill="url(#g013)"/><rect x="1362" y="969.5" width="1" height="152.1" fill="url(#g014)"/><rect x="1363" y="969.5" width="2" height="152.1" fill="url(#g000)"/><rect x="1365" y="969.5" width="1" height="152.1" fill="url(#g113)"/><rect x="1366" y="969.5" width="1" height="152.1" fill="url(#g001)"/><rect x="1367" y="969.5" width="1" height="152.1" fill="url(#g100)"/><rect x="1368" y="969.5" width="2" height="152.1" fill="url(#g200)"/><rect x="1370" y="969.5" width="1" height="152.1" fill="url(#g011)"/><rect x="1371" y="969.5" width="2" height="152.1" fill="url(#g000)"/><rect x="1373" y="969.5" width="2" height="152.1" fill="url(#g101)"/><rect x="1375" y="969.5" width="2" height="152.1" fill="url(#g021)"/><rect x="1377" y="969.5" width="1" height="152.1" fill="url(#g012)"/><rect x="1378" y="969.5" width="1" height="152.1" fill="url(#g004)"/><rect x="1379" y="969.5" width="2" height="152.1" fill="url(#g203)"/><rect x="1381" y="969.5" width="2" height="152.1" fill="url(#g010)"/><rect x="1383" y="969.5" width="1" height="152.1" fill="url(#g123)"/><rect x="1384" y="969.5" width="1" height="152.1" fill="url(#g004)"/><rect x="1385" y="969.5" width="2" height="152.1" fill="url(#g013)"/><rect x="1387" y="969.5" width="2" height="152.1" fill="url(#g214)"/><rect x="1389" y="969.5" width="2" height="152.1" fill="url(#g020)"/><rect x="1391" y="969.5" width="2" height="152.1" fill="url(#g122)"/><rect x="1393" y="969.5" width="2" height="152.1" fill="url(#g123)"/><rect x="1395" y="969.5" width="1" height="152.1" fill="url(#g200)"/><rect x="1396" y="969.5" width="2" height="152.1" fill="url(#g004)"/><rect x="1398" y="969.5" width="2" height="152.1" fill="url(#g000)"/><rect x="1400" y="969.5" width="1" height="152.1" fill="url(#g114)"/><rect x="1401" y="969.5" width="1" height="152.1" fill="url(#g000)"/><rect x="1402" y="969.5" width="2" height="152.1" fill="url(#g014)"/><rect x="1404" y="969.5" width="1" height="152.1" fill="url(#g202)"/><rect x="1405" y="969.5" width="1" height="152.1" fill="url(#g113)"/><rect x="1406" y="969.5" width="2" height="152.1" fill="url(#g000)"/><rect x="1408" y="969.5" width="1" height="152.1" fill="url(#g014)"/><rect x="1409" y="969.5" width="2" height="152.1" fill="url(#g213)"/><rect x="1411" y="969.5" width="1" height="152.1" fill="url(#g112)"/><rect x="1412" y="969.5" width="2" height="152.1" fill="url(#g020)"/><rect x="1414" y="969.5" width="2" height="152.1" fill="url(#g101)"/><rect x="1416" y="969.5" width="2" height="152.1" fill="url(#g100)"/><rect x="1418" y="969.5" width="1" height="152.1" fill="url(#g024)"/><rect x="1419" y="969.5" width="1" height="152.1" fill="url(#g214)"/><rect x="1420" y="969.5" width="1" height="152.1" fill="url(#g003)"/><rect x="1421" y="969.5" width="1" height="152.1" fill="url(#g200)"/><rect x="1422" y="969.5" width="2" height="152.1" fill="url(#g010)"/><rect x="1424" y="969.5" width="2" height="152.1" fill="url(#g104)"/><rect x="1426" y="969.5" width="1" height="152.1" fill="url(#g003)"/><rect x="1427" y="969.5" width="2" height="152.1" fill="url(#g104)"/><rect x="1429" y="969.5" width="4" height="152.1" fill="url(#g000)"/><rect x="1433" y="969.5" width="1" height="152.1" fill="url(#g220)"/><rect x="1434" y="969.5" width="2" height="152.1" fill="url(#g023)"/><rect x="1436" y="969.5" width="1" height="152.1" fill="url(#g120)"/><rect x="1437" y="969.5" width="2" height="152.1" fill="url(#g003)"/><rect x="1439" y="969.5" width="2" height="152.1" fill="url(#g124)"/><rect x="1441" y="969.5" width="3" height="152.1" fill="url(#g203)"/><rect x="1444" y="969.5" width="2" height="152.1" fill="url(#g021)"/><rect x="1446" y="969.5" width="1" height="152.1" fill="url(#g014)"/><rect x="1447" y="969.5" width="1" height="152.1" fill="url(#g004)"/><rect x="1448" y="969.5" width="2" height="152.1" fill="url(#g000)"/><rect x="1450" y="969.5" width="2" height="152.1" fill="url(#g001)"/><rect x="1452" y="969.5" width="2" height="152.1" fill="url(#g103)"/><rect x="1454" y="969.5" width="1" height="152.1" fill="url(#g100)"/><rect x="1455" y="969.5" width="3" height="152.1" fill="url(#g102)"/><rect x="1458" y="969.5" width="1" height="152.1" fill="url(#g100)"/><rect x="1459" y="969.5" width="3" height="152.1" fill="url(#g114)"/><rect x="1462" y="969.5" width="2" height="152.1" fill="url(#g011)"/><rect x="1464" y="969.5" width="1" height="152.1" fill="url(#g020)"/><rect x="1465" y="969.5" width="2" height="152.1" fill="url(#g124)"/><rect x="1467" y="969.5" width="3" height="152.1" fill="url(#g020)"/><rect x="1470" y="969.5" width="2" height="152.1" fill="url(#g011)"/><rect x="1472" y="969.5" width="1" height="152.1" fill="url(#g020)"/><rect x="1473" y="969.5" width="2" height="152.1" fill="url(#g004)"/><rect x="1475" y="969.5" width="3" height="152.1" fill="url(#g014)"/><rect x="1478" y="969.5" width="1" height="152.1" fill="url(#g000)"/><rect x="1479" y="969.5" width="1" height="152.1" fill="url(#g113)"/><rect x="1480" y="969.5" width="1" height="152.1" fill="url(#g200)"/><rect x="1481" y="969.5" width="2" height="152.1" fill="url(#g003)"/><rect x="1483" y="969.5" width="2" height="152.1" fill="url(#g000)"/><rect x="1485" y="969.5" width="1" height="152.1" fill="url(#g021)"/><rect x="1486" y="969.5" width="1" height="152.1" fill="url(#g010)"/><rect x="1487" y="969.5" width="2" height="152.1" fill="url(#g000)"/><rect x="1489" y="969.5" width="1" height="152.1" fill="url(#g101)"/><path d="M736 997.8h3M739 997.8h1.5M742 997.8h3M745 997.8h3M748 997.8h2M754 997.8h2M757 997.8h1.5M760 997.8h2M763 997.8h1.5M766 997.8h1.5M775 997.8h3M778 997.8h2M781 997.8h3M784 997.8h2M787 997.8h2M796 997.8h3M802 997.8h1.5M805 997.8h3M808 997.8h2M817 997.8h1.5M820 997.8h2M823 997.8h2M826 997.8h1.5M829 997.8h2M835 997.8h1.5M838 997.8h1.5M841 997.8h3M844 997.8h3M847 997.8h2M850 997.8h1.5M853 997.8h1.5M865 997.8h2M868 997.8h3M871 997.8h1.5M874 997.8h3M877 997.8h3" stroke="#5aa0ff" stroke-width="1.4"/><path d="M735 1025.5h40M790 1025.5h30M736 1039.5h35M795 1039.5h25" stroke="#2a5cff" stroke-width="1.2" stroke-dasharray="3 2" opacity="0.6"/><rect x="1326" y="997.8" width="130" height="1.3" fill="#3c8cff" opacity="0.5"/><path d="M825.25 1073.82h1.5M756.16 1052.31h1.5M756.49 1083.65h1.5M813.79 1017.37h1.5M882.35 1094.36h1.5M791.34 1070.42h1.5M784.81 1021.52h1.5M747.32 991.01h1.5M757.78 987.59h1.5M798.9 1038.37h1.5M751.84 1092.47h1.5M810.33 1042.4h1.5M840.77 1080h1.5M877.55 987.6h1.5M764.63 1006.96h1.5M841.47 1049.67h1.5M809.46 1001.28h1.5M855.8 1062.93h1.5M766.27 1032.42h1.5M819.89 1075.49h1.5M868.44 1089.94h1.5M836.59 1092.28h1.5M817.23 978.52h1.5M851.63 980.96h1.5M821.78 1080.9h1.5M768.92 980.97h1.5M754.12 1083.06h1.5M908.56 1070.5h1.5M830.67 972.38h1.5M738.84 1058.6h1.5M768.5 1086.36h1.5M824.28 1010.04h1.5M770.43 1024.34h1.5M811.03 981.1h1.5M753.11 1067.88h1.5M732.45 973.96h1.5M895.06 1004.72h1.5M795.65 1058.37h1.5M737.9 992.21h1.5M783.74 1047.17h1.5M754.51 980.96h1.5M830.73 1015.17h1.5M765.25 1090.53h1.5M882.37 1080.08h1.5M807.67 1077.58h1.5M865.03 982.01h1.5M870.38 1006.59h1.5M827.49 978.87h1.5M800.7 976.94h1.5M826.07 1036.76h1.5M885.67 1012.58h1.5M842.77 1026.04h1.5M766.96 1045.53h1.5M760.54 995.39h1.5M796.12 1064.59h1.5M736.16 1074.16h1.5M899.73 1047.51h1.5M753.1 1074.95h1.5M801.84 990.24h1.5M881.08 1039.05h1.5M788.29 1034.43h1.5M866.67 984.84h1.5M791.84 1049.35h1.5M771.13 1069.44h1.5M879.28 1006.39h1.5M800.77 1071.24h1.5M795.92 991.35h1.5M889.92 1057.41h1.5M785.28 1061.93h1.5M758.43 1044.19h1.5M819.18 1023.1h1.5M729.74 1046.19h1.5M814.19 979.6h1.5M890.56 1050.39h1.5M736.42 987.62h1.5M841.45 973.01h1.5M834.04 1038.1h1.5M807.8 995.76h1.5M887.09 1052.09h1.5M825.78 1074.57h1.5M791.08 1076.66h1.5M845.07 1044.04h1.5M864.16 994.05h1.5M781.64 987.06h1.5M757.78 983.01h1.5M775.01 996.91h1.5M728.36 1033.16h1.5M804.15 1094.08h1.5M825.21 1084.91h1.5M775.4 1083.56h1.5M864.89 1040.73h1.5M814.79 1061.95h1.5M783.34 1023.57h1.5M830.37 1012.05h1.5M842.65 1093.12h1.5M734.39 1092.55h1.5M756.88 990.39h1.5M797.18 1020.61h1.5M831.14 1003.48h1.5M799.85 1089.14h1.5M869.25 984.03h1.5M773.46 1020.36h1.5M833.25 1085.09h1.5M847.26 1004.44h1.5M805.98 1085.98h1.5M761.44 1058.34h1.5M908.4 999.14h1.5M828.1 1033.35h1.5M788.55 1045.48h1.5M909.54 1024.7h1.5M837.82 1003.89h1.5M752.86 1004.75h1.5M741.61 989.58h1.5M905.77 1086h1.5M780.31 990.88h1.5M831.53 1050.1h1.5M785.3 1059.08h1.5M745.81 1015.92h1.5M811.73 1074.13h1.5M865.52 978.71h1.5M808.97 1092.07h1.5M778.3 985.65h1.5M751.77 999.37h1.5M737.24 1041.75h1.5M800.98 1050.54h1.5M809.05 1075.7h1.5M742.7 995.87h1.5M743.25 1029.28h1.5M793.75 980.95h1.5M765.69 1052.31h1.5M784.63 991.27h1.5M772.27 1009.89h1.5M732.92 1078.94h1.5M901.04 990.95h1.5M772.27 1077.4h1.5M817.95 1037.08h1.5M750.39 1027.79h1.5M850.23 1062.39h1.5M803.87 1001.69h1.5M776.56 1015.81h1.5M754.51 1018.5h1.5M748.15 1056.31h1.5M820.49 1030.39h1.5M822.33 1087.88h1.5M870.84 1041.28h1.5M872.13 1066.93h1.5M729.48 1086.06h1.5M875.25 1044.23h1.5M895.28 1041.01h1.5M803.43 1017.8h1.5M752.85 1026h1.5M829.8 1079.74h1.5M860.7 1006.54h1.5M743.95 1029.17h1.5M859.46 996.9h1.5M730.06 1021.19h1.5M741.48 1027.12h1.5M846 976.12h1.5M852.22 1010.1h1.5M811.12 1025.8h1.5M741.85 1027.63h1.5M746.9 992.32h1.5M747.38 1062.31h1.5M839.32 974.93h1.5M812 1090.04h1.5M838.69 1012.71h1.5M829.54 1033.67h1.5M1332.51 1059.02h1.5M1322.73 1064.05h1.5M1121.16 986.07h1.5M1222.26 1070.1h1.5M1098.11 1001.79h1.5M1480.49 1074.28h1.5M1307.42 974.14h1.5M1043.84 993.77h1.5M1262.76 1072.17h1.5M1310.58 1013.48h1.5M1475.84 1081.35h1.5M1328.84 1014.57h1.5M1310.41 1016.14h1.5M1415.11 1006.97h1.5M1175.43 977.05h1.5M1205.47 994.08h1.5M1418.64 1027.94h1.5M1255.65 976.57h1.5M1433.81 1045.13h1.5M1135.84 991.01h1.5M1241.66 1029.63h1.5M1170.32 977.13h1.5M1229.91 1018.98h1.5M1404.98 1087.04h1.5M1112.18 1022.17h1.5M1064.95 1061.02h1.5M1028.26 1061.89h1.5M1432.59 1070.73h1.5M1025.84 1040.49h1.5M1217.35 978.15h1.5M1448.93 1035.86h1.5M1138.23 1031.1h1.5M1427.42 988.18h1.5M1391.21 1049.45h1.5M1467.33 994.76h1.5M1117.64 1057.86h1.5M1324.47 1023.39h1.5M1160.73 1045.5h1.5M1132.39 986.83h1.5M1073.06 1053.65h1.5M1175.97 974.14h1.5M1463.99 1035.14h1.5M1429.25 1001.74h1.5M1255.05 1069.63h1.5M1314.24 1009.01h1.5M1153.42 1066.14h1.5M1356.12 1067.96h1.5M1128.65 1056.07h1.5M1463.55 1080.15h1.5M1179.55 986.02h1.5M1093.81 1025.99h1.5M1488.95 1062.64h1.5M1470.17 1062.68h1.5M1077.78 1024.38h1.5M1443.33 1038.62h1.5M1194.27 1081.3h1.5M1264.8 1036.82h1.5M1189.4 1019.26h1.5M1348.79 980.53h1.5M1153.55 1079.68h1.5M1023.5 988.5h1.5M1074.35 1020.47h1.5M1473.62 1064.4h1.5M1347.61 1017.79h1.5M1123.73 1089.35h1.5M1322.84 1057.63h1.5M1046.32 1068.51h1.5M1426.59 992.55h1.5M1319.48 988.07h1.5M1435.08 1026.26h1.5M1404.99 979.87h1.5M1459.44 1090.73h1.5M1455.71 1028.66h1.5M1429.38 1058.22h1.5M1155.48 1037.89h1.5M1241.39 1059.85h1.5M1397.1 1052.52h1.5M1390.95 1062.07h1.5M1323.58 1048.72h1.5M1332.62 989.32h1.5M1042.34 1002.43h1.5M1284.61 1032.75h1.5M1069.69 1090.8h1.5M1374.24 1004.2h1.5M1302.83 1084.84h1.5M1134.28 999.32h1.5M1319.7 1037.01h1.5M1343.79 980.88h1.5M1418.37 1082.92h1.5M1430.43 978.4h1.5M1287.01 1045.21h1.5M1103.21 988.15h1.5M1094.76 999.97h1.5M1092.04 997.38h1.5M1417.67 976.31h1.5M1274.16 986.55h1.5M1116.39 1056.75h1.5M1469.73 1062.81h1.5M1158.67 991.8h1.5M1243.41 989.88h1.5M1285.45 1018.94h1.5M1461.54 1040.51h1.5M1075.22 1019.48h1.5M1308.04 1048.09h1.5M1358.04 1061.84h1.5M1305.52 979.52h1.5M1242.57 1002.82h1.5M1142.13 1002.5h1.5M1030.18 1057.12h1.5M1465.57 986.11h1.5M1071.38 1069.58h1.5M1322.82 980.39h1.5M1243 1041.61h1.5M1171.19 1009.39h1.5M1234.74 1070.67h1.5M1246.14 1035.76h1.5M1194.33 1083.95h1.5M1414.04 1027.89h1.5M1212.69 1050.97h1.5M1188.97 1058.41h1.5M1138.75 1078.83h1.5M1317.76 1041.6h1.5M1468.66 991.33h1.5M1445.68 1051.25h1.5M1476.97 1058.11h1.5M1129.58 977.88h1.5M1391.31 1080.17h1.5M1207.59 1065.16h1.5M1439.49 985.53h1.5M1427.41 1042.64h1.5M1438.58 1004.52h1.5M1074.2 986.4h1.5M1275.57 1052.16h1.5M1154.29 1085.08h1.5M1317.34 1037.71h1.5M1205.23 977.4h1.5M1473.15 1065.95h1.5M1358.28 1088.12h1.5M1379.65 988.02h1.5M1300.97 1085.91h1.5M1403.49 975.58h1.5M1447.49 976.11h1.5M1218.8 1089.57h1.5M1212.93 1071.84h1.5M1042.21 984.56h1.5M1175.25 1027.83h1.5M1334.62 1054.11h1.5M1285.06 993.36h1.5M1478.41 1051.14h1.5M1319.05 1000.93h1.5M1059.65 991.99h1.5M1360.13 1014.34h1.5M1272.01 1089.14h1.5M1422.1 1025.5h1.5M1269 1062.04h1.5M1412.28 1082.67h1.5M1128.49 1055.98h1.5M1350.37 982.79h1.5M1240.41 996.49h1.5M1262.25 1050.03h1.5M1094.17 1070.27h1.5M1094.81 1035.39h1.5M1096.04 1093.18h1.5M1261.42 1064.32h1.5M1387.11 975.89h1.5M1484.78 1005.03h1.5M1320.92 1086.07h1.5M1269.87 1021h1.5M1166.71 993.36h1.5M1287.59 1081.53h1.5M1132.73 1077.35h1.5M1459.61 996.36h1.5M1380.94 1067.37h1.5M1050.56 1070.08h1.5M1419.45 991.04h1.5M1040.38 994.01h1.5M1093.66 1032.33h1.5M1146.2 1008.94h1.5M1223.34 990.74h1.5M1228.65 981.35h1.5M1426.09 1006.71h1.5M1312.37 1034.38h1.5M1453.1 997.43h1.5M1029.52 979.29h1.5M1218.73 1085.01h1.5M1352.18 995.92h1.5M1387.56 1019.16h1.5M1134.56 1082.69h1.5M1198.47 1054.52h1.5M1090.59 1013.83h1.5M1488.1 1079.49h1.5M1436.74 1014.74h1.5M1482.6 1024.39h1.5M1042.61 1079.02h1.5M1060.62 979.7h1.5M1369.97 1039.11h1.5M1129.22 1032.69h1.5M1175.52 1009.68h1.5M1072.71 1007.05h1.5M1142.26 1072.93h1.5M1166.62 1072.52h1.5M1444.16 974.42h1.5M1290.25 973.52h1.5M1265.05 1030.28h1.5M1332.2 1024.48h1.5M1101.44 984.46h1.5M1321.81 1012.03h1.5M1197.66 1022.42h1.5M1470.45 1021.46h1.5M1476.2 1026.51h1.5M1451.72 988.25h1.5M1364.58 1017.89h1.5M1019.85 1011.73h1.5M1232.06 976.33h1.5M1162.7 972.45h1.5M1341.26 1031.08h1.5M1178.62 1016.43h1.5M1259.97 1054.62h1.5M1223.29 1087.63h1.5M1290.37 972.23h1.5M1232.05 1056.46h1.5M1416.92 1012.72h1.5M1100.95 1029.29h1.5M1281.65 1041.85h1.5M1380.96 1029.28h1.5M1088.01 985.68h1.5M1176.23 1051.86h1.5M1413.42 1010.76h1.5M1219.94 1075.58h1.5M1196.83 994.03h1.5M1428.87 1076.55h1.5M1245.49 1012.59h1.5M1068.75 1077.52h1.5M1470.68 1046.2h1.5M1130.11 1094.25h1.5M1387.2 1091.46h1.5M1133.37 1028.91h1.5M1117.06 1062.68h1.5M1289.47 977.67h1.5M1359.39 1007.68h1.5M1380.12 992.64h1.5M1243.03 1068.83h1.5M1066.01 1017.92h1.5M1277.32 1031.65h1.5M1199.61 1059.69h1.5M1209.34 1060.58h1.5M1029.43 1093.01h1.5M1228.19 1020.65h1.5M1393.6 1094.23h1.5M1117.2 1006.76h1.5M1282.95 1073.62h1.5M1259.47 1089.77h1.5M1390.21 1091.07h1.5M1395.27 1017.91h1.5M1269.29 1069.67h1.5M1417.49 1061.74h1.5M1105.35 1052.98h1.5M1365.28 1019.4h1.5M1093.55 1050.91h1.5M1378.17 1032.91h1.5M1037.58 1025.9h1.5M1351.45 1042.47h1.5M1178.16 1077.96h1.5M1487.6 988.9h1.5M1270.71 1023.15h1.5M1464.98 996.48h1.5M1064.48 1092.81h1.5M1113.32 1012.1h1.5M1231 994.07h1.5M1069.94 987.39h1.5M1444.15 1077.73h1.5M1255.48 1031.69h1.5M1315.6 1038.81h1.5M1454.75 1076.58h1.5M1329.88 1089.09h1.5M1029.62 1050.22h1.5M1223.69 981.01h1.5M1464.94 1039.81h1.5M1407.67 1090.81h1.5M1349.89 1024.23h1.5M1225.23 989.66h1.5M1211.45 1000.1h1.5M1036.77 1060.15h1.5M1125.69 1012.03h1.5M1158.07 1037.91h1.5M1222.33 1024.71h1.5M1451.36 1070.11h1.5M1185.99 1085.19h1.5M1029.3 1046.06h1.5M1305.95 1069.31h1.5M1238.48 992.76h1.5M1066.06 979.85h1.5M1235.46 1083.17h1.5M1147.92 1044.48h1.5M1332.68 1014.94h1.5M1280.8 1016.3h1.5M1326.18 984.24h1.5M1306.56 1076.16h1.5M1088.22 984.25h1.5M1371.05 975.89h1.5M1360.13 974.6h1.5M1334.14 1056.61h1.5M1170.08 1054.33h1.5M1332.02 1082.54h1.5M1333.24 975.38h1.5M1030.17 1002.85h1.5M1393.07 1046.23h1.5M1108.27 1057.73h1.5M1477.46 988.29h1.5M1310.82 983.54h1.5M1355.51 1062.85h1.5M1470.86 1061.72h1.5M1211.32 1046.36h1.5M1155.83 1030.22h1.5M1033.13 1009.09h1.5M1197.57 996.17h1.5M1433.41 1022.87h1.5M1320.49 982.28h1.5M1351.36 991.55h1.5M1179.01 973.32h1.5M1214.25 1008.61h1.5M1071.02 1063.01h1.5M1095.05 1055.11h1.5M1238.11 1012.51h1.5M1375.3 1053.73h1.5M1412.74 975.11h1.5M1078.7 1008.35h1.5M1131.34 1004.36h1.5M1288.86 1038.38h1.5M1367.04 1036.22h1.5M1393.95 1054.12h1.5M1434.96 1092.52h1.5M1082.5 1082.28h1.5M1127.43 1064.01h1.5M1416.9 1062.66h1.5M1226.62 1080.43h1.5M1472.29 982.56h1.5M1480.91 985.87h1.5M1451.35 993.74h1.5M1152.72 995.45h1.5M1380.18 1055.75h1.5M1419.69 1066.38h1.5M1033.14 997.86h1.5M1091.96 1025.99h1.5M1180.52 1070.12h1.5M1359.04 1054.28h1.5M1245.09 1057.1h1.5M1222.06 1008.61h1.5M1054.81 1010.89h1.5M1144.7 1009.63h1.5M1395.25 1041h1.5M1425.5 1013.18h1.5M1027.88 1015.65h1.5M1264.28 1045.21h1.5M1393.36 1066.74h1.5M1137.08 1059.31h1.5M1373.83 1033.51h1.5M1025.37 982.15h1.5M1203.34 1003.7h1.5M1381.75 1045.76h1.5M1338.3 1018.84h1.5M1109.26 1036.33h1.5M1120.98 1046.34h1.5M1274.25 999.68h1.5M1152.16 1070.97h1.5M1094.65 994.61h1.5M1228.35 1014.18h1.5M1284.13 995.19h1.5M1046.65 1078.03h1.5M1241.32 1087.69h1.5M1093.59 1061.4h1.5M1305.64 1008.74h1.5M1428.76 1076.91h1.5M1258.37 985.7h1.5M1359.49 1021.8h1.5M1121.98 1065.7h1.5M1063.46 1029.45h1.5M1407.46 1008.79h1.5M1190.62 1004.38h1.5M1421.29 1060.94h1.5M1276.07 1031.33h1.5M1195.97 1092.06h1.5M1046.95 1003.64h1.5M1267.98 984.77h1.5M1455.87 972.25h1.5M1179.17 1081.69h1.5M1365.81 1082.86h1.5M1399.22 1085.37h1.5M1478.13 1064.17h1.5M1305.04 990.37h1.5M1229.29 981.05h1.5M1206.72 1030.71h1.5M1056.63 1055.72h1.5M1329.62 1046.13h1.5M1414.38 972.08h1.5M1329.9 1050.41h1.5M1283.72 1002.18h1.5M1057.32 1014h1.5M1298.83 975.59h1.5M1306.73 1001.11h1.5M1479.5 1076.04h1.5M1449.66 1036.31h1.5M1287.69 1033.59h1.5M1112.45 998.04h1.5M1161.37 1040.99h1.5M1470.23 972.36h1.5M1087.88 976.76h1.5M1063.6 1040.66h1.5M1214.54 998.36h1.5M1110.49 1043.35h1.5M1152.88 1001.46h1.5M1027.11 1075.16h1.5M1237.91 1037.93h1.5M1339.99 992.6h1.5M1062.51 1078.51h1.5M1048.2 998.1h1.5M1385.67 1000.52h1.5M1028.72 1091.75h1.5M1174.42 1079.17h1.5M1243.44 1067.86h1.5M1410.94 1087.39h1.5M1436.29 1083.43h1.5M1359.56 1052.99h1.5" stroke="#1a3cf0" stroke-width="1.5" opacity="0.55"/><path d="M821.5 1055 L825.5 1055 L826.5 1121.6 L820.5 1121.6 Z" fill="#30c8ff" opacity="0.8"/><path d="M822 992h1.4v1.4h-1.4zM821.98 994.8h1.4v1.4h-1.4zM823.38 994.8h1.4v1.4h-1.4zM821.97 996.2h1.4v1.4h-1.4zM821.96 997.6h1.4v1.4h-1.4zM823.36 997.6h1.4v1.4h-1.4zM821.95 999h1.4v1.4h-1.4zM823.35 999h1.4v1.4h-1.4zM821.92 1001.8h1.4v1.4h-1.4zM823.32 1001.8h1.4v1.4h-1.4zM823.31 1003.2h1.4v1.4h-1.4zM821.89 1006h1.4v1.4h-1.4zM823.29 1006h1.4v1.4h-1.4zM823.28 1007.4h1.4v1.4h-1.4zM821.87 1008.8h1.4v1.4h-1.4zM824.67 1008.8h1.4v1.4h-1.4zM823.26 1010.2h1.4v1.4h-1.4zM824.66 1010.2h1.4v1.4h-1.4zM823.25 1011.6h1.4v1.4h-1.4zM824.65 1011.6h1.4v1.4h-1.4zM821.84 1013h1.4v1.4h-1.4zM823.24 1013h1.4v1.4h-1.4zM824.64 1013h1.4v1.4h-1.4zM821.83 1014.4h1.4v1.4h-1.4zM824.63 1014.4h1.4v1.4h-1.4zM821.82 1015.8h1.4v1.4h-1.4zM823.22 1015.8h1.4v1.4h-1.4zM824.62 1015.8h1.4v1.4h-1.4zM823.21 1017.2h1.4v1.4h-1.4zM824.61 1017.2h1.4v1.4h-1.4zM821.79 1018.6h1.4v1.4h-1.4zM823.19 1018.6h1.4v1.4h-1.4zM824.59 1018.6h1.4v1.4h-1.4zM821.78 1020h1.4v1.4h-1.4zM824.58 1020h1.4v1.4h-1.4zM821.77 1021.4h1.4v1.4h-1.4zM823.16 1022.8h1.4v1.4h-1.4zM823.15 1024.2h1.4v1.4h-1.4zM824.55 1024.2h1.4v1.4h-1.4zM823.14 1025.6h1.4v1.4h-1.4zM823.13 1027h1.4v1.4h-1.4zM824.53 1027h1.4v1.4h-1.4zM821.72 1028.4h1.4v1.4h-1.4zM823.12 1028.4h1.4v1.4h-1.4zM824.52 1028.4h1.4v1.4h-1.4zM821.71 1029.8h1.4v1.4h-1.4zM823.11 1029.8h1.4v1.4h-1.4zM824.51 1029.8h1.4v1.4h-1.4z" fill="#2a78ff"/><path d="M821.71 1030h1.4v1.4h-1.4zM823.11 1030h1.4v1.4h-1.4zM824.51 1030h1.4v1.4h-1.4zM821.7 1031.4h1.4v1.4h-1.4zM823.1 1031.4h1.4v1.4h-1.4zM824.5 1031.4h1.4v1.4h-1.4zM821.69 1032.8h1.4v1.4h-1.4zM824.49 1032.8h1.4v1.4h-1.4zM823.07 1034.2h1.4v1.4h-1.4zM824.47 1034.2h1.4v1.4h-1.4zM821.66 1035.6h1.4v1.4h-1.4zM823.06 1035.6h1.4v1.4h-1.4zM824.46 1035.6h1.4v1.4h-1.4zM821.65 1037h1.4v1.4h-1.4zM823.05 1037h1.4v1.4h-1.4zM824.45 1037h1.4v1.4h-1.4zM821.64 1038.4h1.4v1.4h-1.4zM823.04 1038.4h1.4v1.4h-1.4zM821.63 1039.8h1.4v1.4h-1.4zM823.03 1039.8h1.4v1.4h-1.4zM824.43 1039.8h1.4v1.4h-1.4zM821.62 1041.2h1.4v1.4h-1.4zM823.02 1041.2h1.4v1.4h-1.4zM824.42 1041.2h1.4v1.4h-1.4zM821.61 1042.6h1.4v1.4h-1.4zM823.01 1042.6h1.4v1.4h-1.4zM824.41 1042.6h1.4v1.4h-1.4zM823 1044h1.4v1.4h-1.4zM821.59 1045.4h1.4v1.4h-1.4zM822.99 1045.4h1.4v1.4h-1.4zM821.58 1046.8h1.4v1.4h-1.4zM822.98 1046.8h1.4v1.4h-1.4zM824.38 1046.8h1.4v1.4h-1.4zM821.57 1048.2h1.4v1.4h-1.4zM822.97 1048.2h1.4v1.4h-1.4zM824.37 1048.2h1.4v1.4h-1.4zM821.56 1049.6h1.4v1.4h-1.4zM822.96 1049.6h1.4v1.4h-1.4zM824.36 1049.6h1.4v1.4h-1.4zM822.94 1051h1.4v1.4h-1.4zM821.53 1052.4h1.4v1.4h-1.4zM824.33 1052.4h1.4v1.4h-1.4zM821.52 1053.8h1.4v1.4h-1.4zM822.92 1053.8h1.4v1.4h-1.4zM824.32 1053.8h1.4v1.4h-1.4zM821.51 1055.2h1.4v1.4h-1.4zM824.31 1055.2h1.4v1.4h-1.4zM822.9 1056.6h1.4v1.4h-1.4zM822.89 1058h1.4v1.4h-1.4zM824.29 1058h1.4v1.4h-1.4zM824.28 1059.4h1.4v1.4h-1.4z" fill="#30b0ff"/><path d="M821.48 1060h1.4v1.4h-1.4zM824.28 1060h1.4v1.4h-1.4zM821.46 1061.4h1.4v1.4h-1.4zM822.86 1061.4h1.4v1.4h-1.4zM824.26 1061.4h1.4v1.4h-1.4zM821.45 1062.8h1.4v1.4h-1.4zM822.85 1062.8h1.4v1.4h-1.4zM824.25 1062.8h1.4v1.4h-1.4zM824.24 1064.2h1.4v1.4h-1.4zM821.43 1065.6h1.4v1.4h-1.4zM822.83 1065.6h1.4v1.4h-1.4zM824.23 1065.6h1.4v1.4h-1.4zM821.42 1067h1.4v1.4h-1.4zM822.82 1067h1.4v1.4h-1.4zM824.22 1067h1.4v1.4h-1.4zM821.41 1068.4h1.4v1.4h-1.4zM824.21 1068.4h1.4v1.4h-1.4zM821.4 1069.8h1.4v1.4h-1.4zM822.8 1069.8h1.4v1.4h-1.4zM824.2 1069.8h1.4v1.4h-1.4zM821.39 1071.2h1.4v1.4h-1.4zM822.79 1071.2h1.4v1.4h-1.4zM821.38 1072.6h1.4v1.4h-1.4zM824.18 1072.6h1.4v1.4h-1.4zM822.77 1074h1.4v1.4h-1.4zM821.36 1075.4h1.4v1.4h-1.4zM822.76 1075.4h1.4v1.4h-1.4zM824.16 1075.4h1.4v1.4h-1.4zM821.35 1076.8h1.4v1.4h-1.4zM822.75 1076.8h1.4v1.4h-1.4zM821.33 1078.2h1.4v1.4h-1.4zM822.73 1078.2h1.4v1.4h-1.4zM821.32 1079.6h1.4v1.4h-1.4zM822.72 1079.6h1.4v1.4h-1.4zM824.12 1079.6h1.4v1.4h-1.4zM822.71 1081h1.4v1.4h-1.4zM824.11 1081h1.4v1.4h-1.4zM821.3 1082.4h1.4v1.4h-1.4zM822.7 1082.4h1.4v1.4h-1.4zM824.1 1082.4h1.4v1.4h-1.4zM825.5 1082.4h1.4v1.4h-1.4zM821.29 1083.8h1.4v1.4h-1.4zM822.69 1083.8h1.4v1.4h-1.4zM824.09 1083.8h1.4v1.4h-1.4zM822.68 1085.2h1.4v1.4h-1.4zM824.08 1085.2h1.4v1.4h-1.4zM825.48 1085.2h1.4v1.4h-1.4zM821.27 1086.6h1.4v1.4h-1.4zM822.67 1086.6h1.4v1.4h-1.4zM824.07 1086.6h1.4v1.4h-1.4zM825.47 1086.6h1.4v1.4h-1.4zM821.26 1088h1.4v1.4h-1.4zM822.66 1088h1.4v1.4h-1.4zM824.06 1088h1.4v1.4h-1.4zM825.46 1088h1.4v1.4h-1.4zM821.25 1089.4h1.4v1.4h-1.4zM822.65 1089.4h1.4v1.4h-1.4zM824.05 1089.4h1.4v1.4h-1.4zM825.45 1089.4h1.4v1.4h-1.4z" fill="#50f0c0"/><path d="M825.44 1090h1.4v1.4h-1.4zM821.23 1091.4h1.4v1.4h-1.4zM822.63 1091.4h1.4v1.4h-1.4zM824.03 1091.4h1.4v1.4h-1.4zM825.43 1091.4h1.4v1.4h-1.4zM821.22 1092.8h1.4v1.4h-1.4zM822.62 1092.8h1.4v1.4h-1.4zM824.02 1092.8h1.4v1.4h-1.4zM821.21 1094.2h1.4v1.4h-1.4zM822.61 1094.2h1.4v1.4h-1.4zM824.01 1094.2h1.4v1.4h-1.4zM825.41 1094.2h1.4v1.4h-1.4zM821.2 1095.6h1.4v1.4h-1.4zM822.6 1095.6h1.4v1.4h-1.4zM824 1095.6h1.4v1.4h-1.4zM821.19 1097h1.4v1.4h-1.4zM822.59 1097h1.4v1.4h-1.4zM823.99 1097h1.4v1.4h-1.4zM821.18 1098.4h1.4v1.4h-1.4zM822.58 1098.4h1.4v1.4h-1.4zM823.98 1098.4h1.4v1.4h-1.4zM825.38 1098.4h1.4v1.4h-1.4zM821.17 1099.8h1.4v1.4h-1.4zM822.57 1099.8h1.4v1.4h-1.4zM823.97 1099.8h1.4v1.4h-1.4zM825.37 1099.8h1.4v1.4h-1.4zM821.16 1101.2h1.4v1.4h-1.4zM822.56 1101.2h1.4v1.4h-1.4zM823.96 1101.2h1.4v1.4h-1.4zM825.36 1101.2h1.4v1.4h-1.4zM821.15 1102.6h1.4v1.4h-1.4zM822.55 1102.6h1.4v1.4h-1.4zM823.95 1102.6h1.4v1.4h-1.4zM825.35 1102.6h1.4v1.4h-1.4zM821.14 1104h1.4v1.4h-1.4zM822.54 1104h1.4v1.4h-1.4zM823.94 1104h1.4v1.4h-1.4zM825.34 1104h1.4v1.4h-1.4zM821.12 1105.4h1.4v1.4h-1.4zM821.11 1106.8h1.4v1.4h-1.4zM822.51 1106.8h1.4v1.4h-1.4zM825.31 1106.8h1.4v1.4h-1.4zM821.1 1108.2h1.4v1.4h-1.4zM822.5 1108.2h1.4v1.4h-1.4zM825.3 1108.2h1.4v1.4h-1.4zM821.09 1109.6h1.4v1.4h-1.4zM822.49 1109.6h1.4v1.4h-1.4zM823.89 1109.6h1.4v1.4h-1.4zM821.08 1111h1.4v1.4h-1.4zM822.48 1111h1.4v1.4h-1.4zM823.88 1111h1.4v1.4h-1.4zM821.07 1112.4h1.4v1.4h-1.4zM823.87 1112.4h1.4v1.4h-1.4zM821.06 1113.8h1.4v1.4h-1.4zM822.46 1113.8h1.4v1.4h-1.4zM823.86 1113.8h1.4v1.4h-1.4zM825.26 1113.8h1.4v1.4h-1.4zM821.05 1115.2h1.4v1.4h-1.4zM822.45 1115.2h1.4v1.4h-1.4zM821.04 1116.6h1.4v1.4h-1.4zM823.84 1116.6h1.4v1.4h-1.4zM825.24 1116.6h1.4v1.4h-1.4zM821.03 1118h1.4v1.4h-1.4zM822.43 1118h1.4v1.4h-1.4zM825.23 1118h1.4v1.4h-1.4zM821.02 1119.4h1.4v1.4h-1.4zM822.42 1119.4h1.4v1.4h-1.4zM823.82 1119.4h1.4v1.4h-1.4zM825.22 1119.4h1.4v1.4h-1.4zM823.81 1120.8h1.4v1.4h-1.4zM825.21 1120.8h1.4v1.4h-1.4z" fill="#d8ff30"/><path d="M841.5 1040 L846.5 1040 L848 1121.6 L840 1121.6 Z" fill="#2aa0ff" opacity="0.8"/><path d="M842 991h1.4v1.4h-1.4zM843.4 991h1.4v1.4h-1.4zM841.98 992.4h1.4v1.4h-1.4zM843.38 992.4h1.4v1.4h-1.4zM843.36 993.8h1.4v1.4h-1.4zM841.91 996.6h1.4v1.4h-1.4zM841.89 998h1.4v1.4h-1.4zM841.87 999.4h1.4v1.4h-1.4zM844.67 999.4h1.4v1.4h-1.4zM841.85 1000.8h1.4v1.4h-1.4zM843.25 1000.8h1.4v1.4h-1.4zM844.65 1000.8h1.4v1.4h-1.4zM841.83 1002.2h1.4v1.4h-1.4zM843.23 1002.2h1.4v1.4h-1.4zM841.81 1003.6h1.4v1.4h-1.4zM843.21 1003.6h1.4v1.4h-1.4zM844.61 1003.6h1.4v1.4h-1.4zM841.79 1005h1.4v1.4h-1.4zM844.59 1005h1.4v1.4h-1.4zM843.16 1006.4h1.4v1.4h-1.4zM844.56 1006.4h1.4v1.4h-1.4zM841.74 1007.8h1.4v1.4h-1.4zM844.54 1007.8h1.4v1.4h-1.4zM841.72 1009.2h1.4v1.4h-1.4zM843.12 1009.2h1.4v1.4h-1.4zM841.7 1010.6h1.4v1.4h-1.4zM843.1 1010.6h1.4v1.4h-1.4zM844.5 1010.6h1.4v1.4h-1.4zM841.68 1012h1.4v1.4h-1.4zM841.66 1013.4h1.4v1.4h-1.4zM843.06 1013.4h1.4v1.4h-1.4zM844.46 1013.4h1.4v1.4h-1.4zM843.04 1014.8h1.4v1.4h-1.4zM841.61 1016.2h1.4v1.4h-1.4zM844.41 1016.2h1.4v1.4h-1.4zM841.59 1017.6h1.4v1.4h-1.4zM842.99 1017.6h1.4v1.4h-1.4zM842.97 1019h1.4v1.4h-1.4zM841.55 1020.4h1.4v1.4h-1.4zM841.53 1021.8h1.4v1.4h-1.4zM842.93 1021.8h1.4v1.4h-1.4zM844.33 1021.8h1.4v1.4h-1.4zM841.51 1023.2h1.4v1.4h-1.4zM842.91 1023.2h1.4v1.4h-1.4zM842.89 1024.6h1.4v1.4h-1.4zM844.29 1024.6h1.4v1.4h-1.4z" fill="#2a70ff"/><path d="M841.48 1025h1.4v1.4h-1.4zM842.88 1025h1.4v1.4h-1.4zM841.46 1026.4h1.4v1.4h-1.4zM842.86 1026.4h1.4v1.4h-1.4zM844.26 1026.4h1.4v1.4h-1.4zM841.44 1027.8h1.4v1.4h-1.4zM842.84 1027.8h1.4v1.4h-1.4zM844.22 1029.2h1.4v1.4h-1.4zM841.39 1030.6h1.4v1.4h-1.4zM844.19 1030.6h1.4v1.4h-1.4zM842.77 1032h1.4v1.4h-1.4zM845.57 1032h1.4v1.4h-1.4zM841.35 1033.4h1.4v1.4h-1.4zM842.75 1033.4h1.4v1.4h-1.4zM844.15 1033.4h1.4v1.4h-1.4zM845.55 1033.4h1.4v1.4h-1.4zM841.33 1034.8h1.4v1.4h-1.4zM842.73 1034.8h1.4v1.4h-1.4zM845.53 1034.8h1.4v1.4h-1.4zM841.31 1036.2h1.4v1.4h-1.4zM842.71 1036.2h1.4v1.4h-1.4zM844.11 1036.2h1.4v1.4h-1.4zM845.51 1036.2h1.4v1.4h-1.4zM841.29 1037.6h1.4v1.4h-1.4zM842.69 1037.6h1.4v1.4h-1.4zM845.49 1037.6h1.4v1.4h-1.4zM841.26 1039h1.4v1.4h-1.4zM842.66 1039h1.4v1.4h-1.4zM844.06 1039h1.4v1.4h-1.4zM841.24 1040.4h1.4v1.4h-1.4zM842.64 1040.4h1.4v1.4h-1.4zM844.04 1040.4h1.4v1.4h-1.4zM845.44 1040.4h1.4v1.4h-1.4zM841.22 1041.8h1.4v1.4h-1.4zM842.62 1041.8h1.4v1.4h-1.4zM844.02 1041.8h1.4v1.4h-1.4zM845.42 1041.8h1.4v1.4h-1.4zM842.6 1043.2h1.4v1.4h-1.4zM844 1043.2h1.4v1.4h-1.4zM841.18 1044.6h1.4v1.4h-1.4zM841.16 1046h1.4v1.4h-1.4zM842.56 1046h1.4v1.4h-1.4zM841.14 1047.4h1.4v1.4h-1.4zM842.54 1047.4h1.4v1.4h-1.4zM845.34 1047.4h1.4v1.4h-1.4zM841.11 1048.8h1.4v1.4h-1.4zM842.51 1048.8h1.4v1.4h-1.4zM843.91 1048.8h1.4v1.4h-1.4zM845.31 1048.8h1.4v1.4h-1.4zM841.09 1050.2h1.4v1.4h-1.4zM845.29 1050.2h1.4v1.4h-1.4zM845.27 1051.6h1.4v1.4h-1.4zM841.05 1053h1.4v1.4h-1.4zM842.45 1053h1.4v1.4h-1.4zM843.85 1053h1.4v1.4h-1.4zM845.25 1053h1.4v1.4h-1.4zM841.03 1054.4h1.4v1.4h-1.4zM842.43 1054.4h1.4v1.4h-1.4zM843.83 1054.4h1.4v1.4h-1.4zM845.23 1054.4h1.4v1.4h-1.4zM841.01 1055.8h1.4v1.4h-1.4zM843.81 1055.8h1.4v1.4h-1.4zM845.21 1055.8h1.4v1.4h-1.4zM840.99 1057.2h1.4v1.4h-1.4zM845.19 1057.2h1.4v1.4h-1.4zM840.96 1058.6h1.4v1.4h-1.4zM842.36 1058.6h1.4v1.4h-1.4zM843.76 1058.6h1.4v1.4h-1.4zM845.16 1058.6h1.4v1.4h-1.4z" fill="#30a8ff"/><path d="M840.94 1060h1.4v1.4h-1.4zM843.74 1060h1.4v1.4h-1.4zM845.14 1060h1.4v1.4h-1.4zM840.92 1061.4h1.4v1.4h-1.4zM842.32 1061.4h1.4v1.4h-1.4zM843.72 1061.4h1.4v1.4h-1.4zM845.12 1061.4h1.4v1.4h-1.4zM840.9 1062.8h1.4v1.4h-1.4zM842.3 1062.8h1.4v1.4h-1.4zM843.7 1062.8h1.4v1.4h-1.4zM845.1 1062.8h1.4v1.4h-1.4zM840.88 1064.2h1.4v1.4h-1.4zM842.28 1064.2h1.4v1.4h-1.4zM845.08 1064.2h1.4v1.4h-1.4zM840.86 1065.6h1.4v1.4h-1.4zM842.26 1065.6h1.4v1.4h-1.4zM843.66 1065.6h1.4v1.4h-1.4zM845.06 1065.6h1.4v1.4h-1.4zM846.46 1065.6h1.4v1.4h-1.4zM840.84 1067h1.4v1.4h-1.4zM842.24 1067h1.4v1.4h-1.4zM845.04 1067h1.4v1.4h-1.4zM842.21 1068.4h1.4v1.4h-1.4zM843.61 1068.4h1.4v1.4h-1.4zM840.79 1069.8h1.4v1.4h-1.4zM843.59 1069.8h1.4v1.4h-1.4zM844.99 1069.8h1.4v1.4h-1.4zM842.17 1071.2h1.4v1.4h-1.4zM843.57 1071.2h1.4v1.4h-1.4zM840.75 1072.6h1.4v1.4h-1.4zM842.15 1072.6h1.4v1.4h-1.4zM846.35 1072.6h1.4v1.4h-1.4zM840.73 1074h1.4v1.4h-1.4zM843.53 1074h1.4v1.4h-1.4zM846.33 1074h1.4v1.4h-1.4zM842.11 1075.4h1.4v1.4h-1.4zM843.51 1075.4h1.4v1.4h-1.4zM844.91 1075.4h1.4v1.4h-1.4zM846.31 1075.4h1.4v1.4h-1.4zM840.69 1076.8h1.4v1.4h-1.4zM842.09 1076.8h1.4v1.4h-1.4zM844.89 1076.8h1.4v1.4h-1.4zM846.29 1076.8h1.4v1.4h-1.4zM843.46 1078.2h1.4v1.4h-1.4zM844.86 1078.2h1.4v1.4h-1.4zM846.26 1078.2h1.4v1.4h-1.4zM840.64 1079.6h1.4v1.4h-1.4zM842.04 1079.6h1.4v1.4h-1.4zM843.44 1079.6h1.4v1.4h-1.4zM844.84 1079.6h1.4v1.4h-1.4zM846.24 1079.6h1.4v1.4h-1.4zM840.62 1081h1.4v1.4h-1.4zM843.42 1081h1.4v1.4h-1.4zM840.6 1082.4h1.4v1.4h-1.4zM842 1082.4h1.4v1.4h-1.4zM843.4 1082.4h1.4v1.4h-1.4zM844.8 1082.4h1.4v1.4h-1.4zM840.58 1083.8h1.4v1.4h-1.4zM841.98 1083.8h1.4v1.4h-1.4zM843.38 1083.8h1.4v1.4h-1.4zM846.18 1083.8h1.4v1.4h-1.4zM841.96 1085.2h1.4v1.4h-1.4zM843.36 1085.2h1.4v1.4h-1.4zM844.76 1085.2h1.4v1.4h-1.4zM846.16 1085.2h1.4v1.4h-1.4zM840.54 1086.6h1.4v1.4h-1.4zM844.74 1086.6h1.4v1.4h-1.4zM846.14 1086.6h1.4v1.4h-1.4zM843.31 1088h1.4v1.4h-1.4zM844.71 1088h1.4v1.4h-1.4zM846.11 1088h1.4v1.4h-1.4zM840.49 1089.4h1.4v1.4h-1.4z" fill="#40e8e0"/><path d="M841.88 1090h1.4v1.4h-1.4zM846.08 1090h1.4v1.4h-1.4zM841.86 1091.4h1.4v1.4h-1.4zM844.66 1091.4h1.4v1.4h-1.4zM846.06 1091.4h1.4v1.4h-1.4zM840.44 1092.8h1.4v1.4h-1.4zM841.84 1092.8h1.4v1.4h-1.4zM843.24 1092.8h1.4v1.4h-1.4zM844.64 1092.8h1.4v1.4h-1.4zM840.42 1094.2h1.4v1.4h-1.4zM841.82 1094.2h1.4v1.4h-1.4zM843.22 1094.2h1.4v1.4h-1.4zM844.62 1094.2h1.4v1.4h-1.4zM840.4 1095.6h1.4v1.4h-1.4zM841.8 1095.6h1.4v1.4h-1.4zM843.2 1095.6h1.4v1.4h-1.4zM840.38 1097h1.4v1.4h-1.4zM841.78 1097h1.4v1.4h-1.4zM845.98 1097h1.4v1.4h-1.4zM840.36 1098.4h1.4v1.4h-1.4zM841.76 1098.4h1.4v1.4h-1.4zM845.96 1098.4h1.4v1.4h-1.4zM847.36 1098.4h1.4v1.4h-1.4zM841.73 1099.8h1.4v1.4h-1.4zM843.13 1099.8h1.4v1.4h-1.4zM845.93 1099.8h1.4v1.4h-1.4zM847.33 1099.8h1.4v1.4h-1.4zM841.71 1101.2h1.4v1.4h-1.4zM844.51 1101.2h1.4v1.4h-1.4zM845.91 1101.2h1.4v1.4h-1.4zM847.31 1101.2h1.4v1.4h-1.4zM840.29 1102.6h1.4v1.4h-1.4zM841.69 1102.6h1.4v1.4h-1.4zM843.09 1102.6h1.4v1.4h-1.4zM844.49 1102.6h1.4v1.4h-1.4zM845.89 1102.6h1.4v1.4h-1.4zM840.27 1104h1.4v1.4h-1.4zM841.67 1104h1.4v1.4h-1.4zM843.07 1104h1.4v1.4h-1.4zM844.47 1104h1.4v1.4h-1.4zM845.87 1104h1.4v1.4h-1.4zM840.25 1105.4h1.4v1.4h-1.4zM841.65 1105.4h1.4v1.4h-1.4zM843.05 1105.4h1.4v1.4h-1.4zM844.45 1105.4h1.4v1.4h-1.4zM845.85 1105.4h1.4v1.4h-1.4zM847.25 1105.4h1.4v1.4h-1.4zM841.63 1106.8h1.4v1.4h-1.4zM843.03 1106.8h1.4v1.4h-1.4zM844.43 1106.8h1.4v1.4h-1.4zM845.83 1106.8h1.4v1.4h-1.4zM841.61 1108.2h1.4v1.4h-1.4zM843.01 1108.2h1.4v1.4h-1.4zM844.41 1108.2h1.4v1.4h-1.4zM845.81 1108.2h1.4v1.4h-1.4zM847.21 1108.2h1.4v1.4h-1.4zM840.18 1109.6h1.4v1.4h-1.4zM841.58 1109.6h1.4v1.4h-1.4zM842.98 1109.6h1.4v1.4h-1.4zM845.78 1109.6h1.4v1.4h-1.4zM847.18 1109.6h1.4v1.4h-1.4zM840.16 1111h1.4v1.4h-1.4zM841.56 1111h1.4v1.4h-1.4zM842.96 1111h1.4v1.4h-1.4zM844.36 1111h1.4v1.4h-1.4zM840.14 1112.4h1.4v1.4h-1.4zM841.54 1112.4h1.4v1.4h-1.4zM844.34 1112.4h1.4v1.4h-1.4zM845.74 1112.4h1.4v1.4h-1.4zM847.14 1112.4h1.4v1.4h-1.4zM840.12 1113.8h1.4v1.4h-1.4zM841.52 1113.8h1.4v1.4h-1.4zM842.92 1113.8h1.4v1.4h-1.4zM844.32 1113.8h1.4v1.4h-1.4zM845.72 1113.8h1.4v1.4h-1.4zM847.12 1113.8h1.4v1.4h-1.4zM840.1 1115.2h1.4v1.4h-1.4zM841.5 1115.2h1.4v1.4h-1.4zM842.9 1115.2h1.4v1.4h-1.4zM844.3 1115.2h1.4v1.4h-1.4zM845.7 1115.2h1.4v1.4h-1.4zM847.1 1115.2h1.4v1.4h-1.4zM840.08 1116.6h1.4v1.4h-1.4zM841.48 1116.6h1.4v1.4h-1.4zM842.88 1116.6h1.4v1.4h-1.4zM845.68 1116.6h1.4v1.4h-1.4zM840.06 1118h1.4v1.4h-1.4zM842.86 1118h1.4v1.4h-1.4zM845.66 1118h1.4v1.4h-1.4zM840.03 1119.4h1.4v1.4h-1.4zM841.43 1119.4h1.4v1.4h-1.4zM845.63 1119.4h1.4v1.4h-1.4zM840.01 1120.8h1.4v1.4h-1.4zM841.41 1120.8h1.4v1.4h-1.4zM842.81 1120.8h1.4v1.4h-1.4zM847.01 1120.8h1.4v1.4h-1.4z" fill="#ffe020"/><rect x="843.5" y="1092" width="3" height="29.6" fill="#ffb010" opacity="0.8"/><rect x="818" y="1097" width="16" height="24.6" fill="#30d8ff" opacity="0.45"/><rect x="826" y="1065" width="14" height="32" fill="#2080ff" opacity="0.3"/><rect x="739" y="1121" width="173" height="1" fill="#fff"/><rect x="1019.5" y="1121" width="411.5" height="1" fill="#fff"/><rect x="1096.5" y="1052" width="9.5" height="38" fill="#20a0ff" opacity="0.55"/><path d="M1099.3 1024h1.4v1.4h-1.4zM1100.7 1024h1.4v1.4h-1.4zM1102.1 1024h1.4v1.4h-1.4zM1103.5 1024h1.4v1.4h-1.4zM1104.9 1024h1.4v1.4h-1.4zM1096.5 1025.4h1.4v1.4h-1.4zM1097.9 1025.4h1.4v1.4h-1.4zM1099.3 1025.4h1.4v1.4h-1.4zM1100.7 1025.4h1.4v1.4h-1.4zM1097.9 1026.8h1.4v1.4h-1.4zM1099.3 1026.8h1.4v1.4h-1.4zM1100.7 1026.8h1.4v1.4h-1.4zM1102.1 1026.8h1.4v1.4h-1.4zM1103.5 1026.8h1.4v1.4h-1.4zM1104.9 1026.8h1.4v1.4h-1.4zM1097.9 1028.2h1.4v1.4h-1.4zM1100.7 1028.2h1.4v1.4h-1.4zM1102.1 1028.2h1.4v1.4h-1.4zM1104.9 1028.2h1.4v1.4h-1.4zM1097.9 1029.6h1.4v1.4h-1.4zM1100.7 1029.6h1.4v1.4h-1.4zM1102.1 1029.6h1.4v1.4h-1.4zM1104.9 1029.6h1.4v1.4h-1.4zM1102.1 1031h1.4v1.4h-1.4zM1096.5 1032.4h1.4v1.4h-1.4zM1102.1 1032.4h1.4v1.4h-1.4zM1097.9 1033.8h1.4v1.4h-1.4zM1099.3 1033.8h1.4v1.4h-1.4zM1100.7 1033.8h1.4v1.4h-1.4zM1103.5 1033.8h1.4v1.4h-1.4zM1099.3 1035.2h1.4v1.4h-1.4zM1104.9 1035.2h1.4v1.4h-1.4zM1102.1 1036.6h1.4v1.4h-1.4zM1103.5 1036.6h1.4v1.4h-1.4zM1104.9 1036.6h1.4v1.4h-1.4zM1097.9 1038h1.4v1.4h-1.4zM1099.3 1038h1.4v1.4h-1.4zM1100.7 1038h1.4v1.4h-1.4zM1102.1 1038h1.4v1.4h-1.4zM1103.5 1038h1.4v1.4h-1.4zM1104.9 1038h1.4v1.4h-1.4zM1096.5 1039.4h1.4v1.4h-1.4zM1103.5 1039.4h1.4v1.4h-1.4zM1097.9 1040.8h1.4v1.4h-1.4zM1099.3 1040.8h1.4v1.4h-1.4zM1100.7 1040.8h1.4v1.4h-1.4zM1102.1 1040.8h1.4v1.4h-1.4zM1104.9 1040.8h1.4v1.4h-1.4zM1096.5 1042.2h1.4v1.4h-1.4zM1097.9 1042.2h1.4v1.4h-1.4zM1102.1 1042.2h1.4v1.4h-1.4zM1104.9 1042.2h1.4v1.4h-1.4zM1096.5 1043.6h1.4v1.4h-1.4zM1097.9 1043.6h1.4v1.4h-1.4zM1102.1 1043.6h1.4v1.4h-1.4zM1104.9 1043.6h1.4v1.4h-1.4zM1096.5 1045h1.4v1.4h-1.4zM1097.9 1045h1.4v1.4h-1.4zM1100.7 1045h1.4v1.4h-1.4zM1102.1 1045h1.4v1.4h-1.4zM1103.5 1045h1.4v1.4h-1.4zM1096.5 1046.4h1.4v1.4h-1.4zM1099.3 1046.4h1.4v1.4h-1.4zM1100.7 1046.4h1.4v1.4h-1.4zM1097.9 1047.8h1.4v1.4h-1.4zM1099.3 1047.8h1.4v1.4h-1.4zM1102.1 1047.8h1.4v1.4h-1.4zM1103.5 1047.8h1.4v1.4h-1.4zM1096.5 1049.2h1.4v1.4h-1.4zM1099.3 1049.2h1.4v1.4h-1.4zM1100.7 1049.2h1.4v1.4h-1.4zM1102.1 1049.2h1.4v1.4h-1.4zM1097.9 1050.6h1.4v1.4h-1.4zM1099.3 1050.6h1.4v1.4h-1.4zM1104.9 1050.6h1.4v1.4h-1.4z" fill="#2a7cff"/><path d="M1099.3 1052h1.4v1.4h-1.4zM1103.5 1052h1.4v1.4h-1.4zM1104.9 1052h1.4v1.4h-1.4zM1100.7 1053.4h1.4v1.4h-1.4zM1104.9 1053.4h1.4v1.4h-1.4zM1099.3 1054.8h1.4v1.4h-1.4zM1102.1 1054.8h1.4v1.4h-1.4zM1103.5 1054.8h1.4v1.4h-1.4zM1104.9 1054.8h1.4v1.4h-1.4zM1096.5 1056.2h1.4v1.4h-1.4zM1097.9 1056.2h1.4v1.4h-1.4zM1100.7 1056.2h1.4v1.4h-1.4zM1102.1 1056.2h1.4v1.4h-1.4zM1104.9 1056.2h1.4v1.4h-1.4zM1097.9 1057.6h1.4v1.4h-1.4zM1103.5 1057.6h1.4v1.4h-1.4zM1104.9 1057.6h1.4v1.4h-1.4zM1099.3 1059h1.4v1.4h-1.4zM1100.7 1059h1.4v1.4h-1.4zM1102.1 1059h1.4v1.4h-1.4zM1103.5 1059h1.4v1.4h-1.4zM1104.9 1059h1.4v1.4h-1.4zM1096.5 1060.4h1.4v1.4h-1.4zM1097.9 1060.4h1.4v1.4h-1.4zM1099.3 1060.4h1.4v1.4h-1.4zM1100.7 1060.4h1.4v1.4h-1.4zM1102.1 1060.4h1.4v1.4h-1.4zM1103.5 1060.4h1.4v1.4h-1.4zM1097.9 1061.8h1.4v1.4h-1.4zM1099.3 1061.8h1.4v1.4h-1.4zM1100.7 1061.8h1.4v1.4h-1.4zM1102.1 1061.8h1.4v1.4h-1.4zM1103.5 1061.8h1.4v1.4h-1.4zM1099.3 1063.2h1.4v1.4h-1.4zM1103.5 1063.2h1.4v1.4h-1.4zM1104.9 1063.2h1.4v1.4h-1.4zM1100.7 1064.6h1.4v1.4h-1.4zM1102.1 1064.6h1.4v1.4h-1.4zM1103.5 1064.6h1.4v1.4h-1.4zM1096.5 1066h1.4v1.4h-1.4zM1097.9 1066h1.4v1.4h-1.4zM1099.3 1066h1.4v1.4h-1.4zM1102.1 1066h1.4v1.4h-1.4zM1103.5 1066h1.4v1.4h-1.4zM1097.9 1067.4h1.4v1.4h-1.4zM1100.7 1067.4h1.4v1.4h-1.4zM1102.1 1067.4h1.4v1.4h-1.4zM1104.9 1067.4h1.4v1.4h-1.4zM1097.9 1068.8h1.4v1.4h-1.4zM1099.3 1068.8h1.4v1.4h-1.4zM1100.7 1068.8h1.4v1.4h-1.4zM1104.9 1068.8h1.4v1.4h-1.4z" fill="#30c8ff"/><path d="M1096.5 1070h1.4v1.4h-1.4zM1100.7 1070h1.4v1.4h-1.4zM1102.1 1070h1.4v1.4h-1.4zM1096.5 1071.4h1.4v1.4h-1.4zM1097.9 1071.4h1.4v1.4h-1.4zM1099.3 1071.4h1.4v1.4h-1.4zM1100.7 1071.4h1.4v1.4h-1.4zM1102.1 1071.4h1.4v1.4h-1.4zM1103.5 1071.4h1.4v1.4h-1.4zM1099.3 1072.8h1.4v1.4h-1.4zM1100.7 1072.8h1.4v1.4h-1.4zM1103.5 1072.8h1.4v1.4h-1.4zM1104.9 1072.8h1.4v1.4h-1.4zM1099.3 1074.2h1.4v1.4h-1.4zM1100.7 1074.2h1.4v1.4h-1.4zM1103.5 1074.2h1.4v1.4h-1.4zM1104.9 1074.2h1.4v1.4h-1.4zM1097.9 1075.6h1.4v1.4h-1.4zM1100.7 1075.6h1.4v1.4h-1.4zM1102.1 1075.6h1.4v1.4h-1.4zM1103.5 1075.6h1.4v1.4h-1.4zM1104.9 1075.6h1.4v1.4h-1.4zM1096.5 1077h1.4v1.4h-1.4zM1097.9 1077h1.4v1.4h-1.4zM1102.1 1077h1.4v1.4h-1.4zM1103.5 1077h1.4v1.4h-1.4zM1104.9 1077h1.4v1.4h-1.4zM1097.9 1078.4h1.4v1.4h-1.4zM1099.3 1078.4h1.4v1.4h-1.4zM1100.7 1078.4h1.4v1.4h-1.4zM1102.1 1078.4h1.4v1.4h-1.4zM1096.5 1079.8h1.4v1.4h-1.4zM1099.3 1079.8h1.4v1.4h-1.4zM1100.7 1079.8h1.4v1.4h-1.4zM1103.5 1079.8h1.4v1.4h-1.4zM1104.9 1079.8h1.4v1.4h-1.4zM1097.9 1081.2h1.4v1.4h-1.4zM1099.3 1081.2h1.4v1.4h-1.4zM1100.7 1081.2h1.4v1.4h-1.4zM1102.1 1081.2h1.4v1.4h-1.4zM1103.5 1081.2h1.4v1.4h-1.4zM1096.5 1082.6h1.4v1.4h-1.4zM1097.9 1082.6h1.4v1.4h-1.4zM1099.3 1082.6h1.4v1.4h-1.4zM1102.1 1082.6h1.4v1.4h-1.4zM1103.5 1082.6h1.4v1.4h-1.4zM1104.9 1082.6h1.4v1.4h-1.4zM1097.9 1084h1.4v1.4h-1.4zM1099.3 1084h1.4v1.4h-1.4zM1100.7 1084h1.4v1.4h-1.4zM1104.9 1084h1.4v1.4h-1.4zM1096.5 1085.4h1.4v1.4h-1.4zM1103.5 1085.4h1.4v1.4h-1.4zM1104.9 1085.4h1.4v1.4h-1.4zM1096.5 1086.8h1.4v1.4h-1.4zM1099.3 1086.8h1.4v1.4h-1.4zM1102.1 1086.8h1.4v1.4h-1.4zM1103.5 1086.8h1.4v1.4h-1.4zM1104.9 1086.8h1.4v1.4h-1.4zM1096.5 1088.2h1.4v1.4h-1.4zM1097.9 1088.2h1.4v1.4h-1.4zM1099.3 1088.2h1.4v1.4h-1.4zM1100.7 1088.2h1.4v1.4h-1.4zM1102.1 1088.2h1.4v1.4h-1.4zM1103.5 1088.2h1.4v1.4h-1.4zM1096.5 1089.6h1.4v1.4h-1.4zM1100.7 1089.6h1.4v1.4h-1.4zM1104.9 1089.6h1.4v1.4h-1.4z" fill="#30e0ff"/><rect x="1116" y="1053" width="16" height="37" fill="#20a0ff" opacity="0.55"/><path d="M1117.4 1008h1.4v1.4h-1.4zM1121.6 1008h1.4v1.4h-1.4zM1124.4 1008h1.4v1.4h-1.4zM1127.2 1008h1.4v1.4h-1.4zM1128.6 1008h1.4v1.4h-1.4zM1130 1008h1.4v1.4h-1.4zM1131.4 1008h1.4v1.4h-1.4zM1116 1009.4h1.4v1.4h-1.4zM1117.4 1009.4h1.4v1.4h-1.4zM1120.2 1009.4h1.4v1.4h-1.4zM1123 1009.4h1.4v1.4h-1.4zM1124.4 1009.4h1.4v1.4h-1.4zM1127.2 1009.4h1.4v1.4h-1.4zM1128.6 1009.4h1.4v1.4h-1.4zM1130 1009.4h1.4v1.4h-1.4zM1116 1010.8h1.4v1.4h-1.4zM1120.2 1010.8h1.4v1.4h-1.4zM1121.6 1010.8h1.4v1.4h-1.4zM1124.4 1010.8h1.4v1.4h-1.4zM1128.6 1010.8h1.4v1.4h-1.4zM1130 1010.8h1.4v1.4h-1.4zM1131.4 1010.8h1.4v1.4h-1.4zM1116 1012.2h1.4v1.4h-1.4zM1117.4 1012.2h1.4v1.4h-1.4zM1118.8 1012.2h1.4v1.4h-1.4zM1124.4 1012.2h1.4v1.4h-1.4zM1127.2 1012.2h1.4v1.4h-1.4zM1130 1012.2h1.4v1.4h-1.4zM1131.4 1012.2h1.4v1.4h-1.4zM1118.8 1013.6h1.4v1.4h-1.4zM1120.2 1013.6h1.4v1.4h-1.4zM1121.6 1013.6h1.4v1.4h-1.4zM1124.4 1013.6h1.4v1.4h-1.4zM1125.8 1013.6h1.4v1.4h-1.4zM1128.6 1013.6h1.4v1.4h-1.4zM1130 1013.6h1.4v1.4h-1.4zM1131.4 1013.6h1.4v1.4h-1.4zM1116 1015h1.4v1.4h-1.4zM1118.8 1015h1.4v1.4h-1.4zM1120.2 1015h1.4v1.4h-1.4zM1124.4 1015h1.4v1.4h-1.4zM1125.8 1015h1.4v1.4h-1.4zM1127.2 1015h1.4v1.4h-1.4zM1130 1015h1.4v1.4h-1.4zM1131.4 1015h1.4v1.4h-1.4zM1116 1016.4h1.4v1.4h-1.4zM1118.8 1016.4h1.4v1.4h-1.4zM1120.2 1016.4h1.4v1.4h-1.4zM1123 1016.4h1.4v1.4h-1.4zM1124.4 1016.4h1.4v1.4h-1.4zM1127.2 1016.4h1.4v1.4h-1.4zM1131.4 1016.4h1.4v1.4h-1.4zM1116 1017.8h1.4v1.4h-1.4zM1117.4 1017.8h1.4v1.4h-1.4zM1121.6 1017.8h1.4v1.4h-1.4zM1123 1017.8h1.4v1.4h-1.4zM1124.4 1017.8h1.4v1.4h-1.4zM1127.2 1017.8h1.4v1.4h-1.4zM1128.6 1017.8h1.4v1.4h-1.4zM1116 1019.2h1.4v1.4h-1.4zM1118.8 1019.2h1.4v1.4h-1.4zM1120.2 1019.2h1.4v1.4h-1.4zM1121.6 1019.2h1.4v1.4h-1.4zM1127.2 1019.2h1.4v1.4h-1.4zM1128.6 1019.2h1.4v1.4h-1.4zM1116 1020.6h1.4v1.4h-1.4zM1117.4 1020.6h1.4v1.4h-1.4zM1123 1020.6h1.4v1.4h-1.4zM1127.2 1020.6h1.4v1.4h-1.4zM1121.6 1022h1.4v1.4h-1.4zM1123 1022h1.4v1.4h-1.4zM1125.8 1022h1.4v1.4h-1.4zM1128.6 1022h1.4v1.4h-1.4zM1131.4 1022h1.4v1.4h-1.4zM1118.8 1023.4h1.4v1.4h-1.4zM1120.2 1023.4h1.4v1.4h-1.4zM1125.8 1023.4h1.4v1.4h-1.4zM1127.2 1023.4h1.4v1.4h-1.4zM1128.6 1023.4h1.4v1.4h-1.4zM1116 1024.8h1.4v1.4h-1.4zM1117.4 1024.8h1.4v1.4h-1.4zM1118.8 1024.8h1.4v1.4h-1.4zM1120.2 1024.8h1.4v1.4h-1.4zM1124.4 1024.8h1.4v1.4h-1.4zM1130 1024.8h1.4v1.4h-1.4zM1131.4 1024.8h1.4v1.4h-1.4zM1117.4 1026.2h1.4v1.4h-1.4zM1120.2 1026.2h1.4v1.4h-1.4zM1123 1026.2h1.4v1.4h-1.4zM1127.2 1026.2h1.4v1.4h-1.4zM1128.6 1026.2h1.4v1.4h-1.4zM1131.4 1026.2h1.4v1.4h-1.4zM1116 1027.6h1.4v1.4h-1.4zM1117.4 1027.6h1.4v1.4h-1.4zM1120.2 1027.6h1.4v1.4h-1.4zM1123 1027.6h1.4v1.4h-1.4zM1124.4 1027.6h1.4v1.4h-1.4zM1127.2 1027.6h1.4v1.4h-1.4zM1130 1027.6h1.4v1.4h-1.4zM1131.4 1027.6h1.4v1.4h-1.4zM1124.4 1029h1.4v1.4h-1.4zM1127.2 1029h1.4v1.4h-1.4zM1130 1029h1.4v1.4h-1.4zM1131.4 1029h1.4v1.4h-1.4zM1116 1030.4h1.4v1.4h-1.4zM1117.4 1030.4h1.4v1.4h-1.4zM1118.8 1030.4h1.4v1.4h-1.4zM1123 1030.4h1.4v1.4h-1.4zM1127.2 1030.4h1.4v1.4h-1.4zM1128.6 1030.4h1.4v1.4h-1.4zM1116 1031.8h1.4v1.4h-1.4zM1118.8 1031.8h1.4v1.4h-1.4zM1123 1031.8h1.4v1.4h-1.4zM1125.8 1031.8h1.4v1.4h-1.4zM1127.2 1031.8h1.4v1.4h-1.4zM1131.4 1031.8h1.4v1.4h-1.4zM1117.4 1033.2h1.4v1.4h-1.4zM1120.2 1033.2h1.4v1.4h-1.4zM1124.4 1033.2h1.4v1.4h-1.4zM1128.6 1033.2h1.4v1.4h-1.4zM1131.4 1033.2h1.4v1.4h-1.4zM1116 1034.6h1.4v1.4h-1.4zM1118.8 1034.6h1.4v1.4h-1.4zM1123 1034.6h1.4v1.4h-1.4zM1124.4 1034.6h1.4v1.4h-1.4zM1125.8 1034.6h1.4v1.4h-1.4zM1117.4 1036h1.4v1.4h-1.4zM1118.8 1036h1.4v1.4h-1.4zM1120.2 1036h1.4v1.4h-1.4zM1123 1036h1.4v1.4h-1.4zM1124.4 1036h1.4v1.4h-1.4zM1125.8 1036h1.4v1.4h-1.4zM1127.2 1036h1.4v1.4h-1.4zM1117.4 1037.4h1.4v1.4h-1.4zM1120.2 1037.4h1.4v1.4h-1.4zM1125.8 1037.4h1.4v1.4h-1.4zM1128.6 1037.4h1.4v1.4h-1.4zM1131.4 1037.4h1.4v1.4h-1.4zM1121.6 1038.8h1.4v1.4h-1.4zM1123 1038.8h1.4v1.4h-1.4zM1124.4 1038.8h1.4v1.4h-1.4zM1127.2 1038.8h1.4v1.4h-1.4zM1131.4 1038.8h1.4v1.4h-1.4zM1118.8 1040.2h1.4v1.4h-1.4zM1125.8 1040.2h1.4v1.4h-1.4zM1128.6 1040.2h1.4v1.4h-1.4zM1131.4 1040.2h1.4v1.4h-1.4zM1116 1041.6h1.4v1.4h-1.4zM1117.4 1041.6h1.4v1.4h-1.4zM1118.8 1041.6h1.4v1.4h-1.4zM1124.4 1041.6h1.4v1.4h-1.4zM1125.8 1041.6h1.4v1.4h-1.4zM1117.4 1043h1.4v1.4h-1.4zM1118.8 1043h1.4v1.4h-1.4zM1123 1043h1.4v1.4h-1.4zM1124.4 1043h1.4v1.4h-1.4zM1120.2 1044.4h1.4v1.4h-1.4zM1121.6 1044.4h1.4v1.4h-1.4zM1123 1044.4h1.4v1.4h-1.4zM1124.4 1044.4h1.4v1.4h-1.4zM1125.8 1044.4h1.4v1.4h-1.4zM1127.2 1044.4h1.4v1.4h-1.4zM1130 1044.4h1.4v1.4h-1.4zM1118.8 1045.8h1.4v1.4h-1.4zM1120.2 1045.8h1.4v1.4h-1.4zM1121.6 1045.8h1.4v1.4h-1.4zM1124.4 1045.8h1.4v1.4h-1.4zM1125.8 1045.8h1.4v1.4h-1.4zM1128.6 1045.8h1.4v1.4h-1.4zM1131.4 1045.8h1.4v1.4h-1.4zM1117.4 1047.2h1.4v1.4h-1.4zM1118.8 1047.2h1.4v1.4h-1.4zM1123 1047.2h1.4v1.4h-1.4zM1127.2 1047.2h1.4v1.4h-1.4zM1128.6 1047.2h1.4v1.4h-1.4zM1118.8 1048.6h1.4v1.4h-1.4zM1121.6 1048.6h1.4v1.4h-1.4zM1123 1048.6h1.4v1.4h-1.4zM1125.8 1048.6h1.4v1.4h-1.4zM1128.6 1048.6h1.4v1.4h-1.4zM1131.4 1048.6h1.4v1.4h-1.4zM1117.4 1050h1.4v1.4h-1.4zM1118.8 1050h1.4v1.4h-1.4zM1120.2 1050h1.4v1.4h-1.4zM1123 1050h1.4v1.4h-1.4zM1127.2 1050h1.4v1.4h-1.4zM1128.6 1050h1.4v1.4h-1.4zM1130 1050h1.4v1.4h-1.4zM1131.4 1050h1.4v1.4h-1.4zM1121.6 1051.4h1.4v1.4h-1.4zM1123 1051.4h1.4v1.4h-1.4zM1124.4 1051.4h1.4v1.4h-1.4zM1131.4 1051.4h1.4v1.4h-1.4zM1116 1052.8h1.4v1.4h-1.4zM1117.4 1052.8h1.4v1.4h-1.4zM1121.6 1052.8h1.4v1.4h-1.4zM1123 1052.8h1.4v1.4h-1.4zM1125.8 1052.8h1.4v1.4h-1.4z" fill="#2a74ff"/><path d="M1117.4 1053h1.4v1.4h-1.4zM1118.8 1053h1.4v1.4h-1.4zM1123 1053h1.4v1.4h-1.4zM1124.4 1053h1.4v1.4h-1.4zM1127.2 1053h1.4v1.4h-1.4zM1128.6 1053h1.4v1.4h-1.4zM1130 1053h1.4v1.4h-1.4zM1131.4 1053h1.4v1.4h-1.4zM1116 1054.4h1.4v1.4h-1.4zM1120.2 1054.4h1.4v1.4h-1.4zM1125.8 1054.4h1.4v1.4h-1.4zM1127.2 1054.4h1.4v1.4h-1.4zM1130 1054.4h1.4v1.4h-1.4zM1116 1055.8h1.4v1.4h-1.4zM1118.8 1055.8h1.4v1.4h-1.4zM1121.6 1055.8h1.4v1.4h-1.4zM1123 1055.8h1.4v1.4h-1.4zM1124.4 1055.8h1.4v1.4h-1.4zM1127.2 1055.8h1.4v1.4h-1.4zM1128.6 1055.8h1.4v1.4h-1.4zM1116 1057.2h1.4v1.4h-1.4zM1117.4 1057.2h1.4v1.4h-1.4zM1120.2 1057.2h1.4v1.4h-1.4zM1121.6 1057.2h1.4v1.4h-1.4zM1125.8 1057.2h1.4v1.4h-1.4zM1127.2 1057.2h1.4v1.4h-1.4zM1128.6 1057.2h1.4v1.4h-1.4zM1130 1057.2h1.4v1.4h-1.4zM1116 1058.6h1.4v1.4h-1.4zM1117.4 1058.6h1.4v1.4h-1.4zM1121.6 1058.6h1.4v1.4h-1.4zM1123 1058.6h1.4v1.4h-1.4zM1124.4 1058.6h1.4v1.4h-1.4zM1128.6 1058.6h1.4v1.4h-1.4zM1130 1058.6h1.4v1.4h-1.4zM1131.4 1058.6h1.4v1.4h-1.4zM1116 1060h1.4v1.4h-1.4zM1118.8 1060h1.4v1.4h-1.4zM1121.6 1060h1.4v1.4h-1.4zM1123 1060h1.4v1.4h-1.4zM1124.4 1060h1.4v1.4h-1.4zM1127.2 1060h1.4v1.4h-1.4zM1131.4 1060h1.4v1.4h-1.4zM1116 1061.4h1.4v1.4h-1.4zM1117.4 1061.4h1.4v1.4h-1.4zM1118.8 1061.4h1.4v1.4h-1.4zM1123 1061.4h1.4v1.4h-1.4zM1130 1061.4h1.4v1.4h-1.4zM1131.4 1061.4h1.4v1.4h-1.4zM1116 1062.8h1.4v1.4h-1.4zM1121.6 1062.8h1.4v1.4h-1.4zM1123 1062.8h1.4v1.4h-1.4zM1125.8 1062.8h1.4v1.4h-1.4zM1127.2 1062.8h1.4v1.4h-1.4zM1128.6 1062.8h1.4v1.4h-1.4zM1131.4 1062.8h1.4v1.4h-1.4zM1116 1064.2h1.4v1.4h-1.4zM1118.8 1064.2h1.4v1.4h-1.4zM1121.6 1064.2h1.4v1.4h-1.4zM1125.8 1064.2h1.4v1.4h-1.4zM1128.6 1064.2h1.4v1.4h-1.4zM1131.4 1064.2h1.4v1.4h-1.4zM1116 1065.6h1.4v1.4h-1.4zM1120.2 1065.6h1.4v1.4h-1.4zM1121.6 1065.6h1.4v1.4h-1.4zM1123 1065.6h1.4v1.4h-1.4zM1124.4 1065.6h1.4v1.4h-1.4zM1125.8 1065.6h1.4v1.4h-1.4zM1128.6 1065.6h1.4v1.4h-1.4zM1130 1065.6h1.4v1.4h-1.4zM1118.8 1067h1.4v1.4h-1.4zM1123 1067h1.4v1.4h-1.4zM1124.4 1067h1.4v1.4h-1.4zM1125.8 1067h1.4v1.4h-1.4zM1128.6 1067h1.4v1.4h-1.4zM1131.4 1067h1.4v1.4h-1.4zM1118.8 1068.4h1.4v1.4h-1.4zM1120.2 1068.4h1.4v1.4h-1.4zM1124.4 1068.4h1.4v1.4h-1.4zM1125.8 1068.4h1.4v1.4h-1.4zM1130 1068.4h1.4v1.4h-1.4zM1116 1069.8h1.4v1.4h-1.4zM1120.2 1069.8h1.4v1.4h-1.4zM1123 1069.8h1.4v1.4h-1.4zM1124.4 1069.8h1.4v1.4h-1.4zM1128.6 1069.8h1.4v1.4h-1.4zM1130 1069.8h1.4v1.4h-1.4zM1116 1071.2h1.4v1.4h-1.4zM1117.4 1071.2h1.4v1.4h-1.4zM1118.8 1071.2h1.4v1.4h-1.4zM1120.2 1071.2h1.4v1.4h-1.4zM1121.6 1071.2h1.4v1.4h-1.4zM1123 1071.2h1.4v1.4h-1.4zM1125.8 1071.2h1.4v1.4h-1.4zM1127.2 1071.2h1.4v1.4h-1.4zM1128.6 1071.2h1.4v1.4h-1.4zM1130 1071.2h1.4v1.4h-1.4zM1131.4 1071.2h1.4v1.4h-1.4zM1118.8 1072.6h1.4v1.4h-1.4zM1123 1072.6h1.4v1.4h-1.4zM1124.4 1072.6h1.4v1.4h-1.4zM1128.6 1072.6h1.4v1.4h-1.4zM1116 1074h1.4v1.4h-1.4zM1124.4 1074h1.4v1.4h-1.4zM1125.8 1074h1.4v1.4h-1.4zM1127.2 1074h1.4v1.4h-1.4z" fill="#30c8ff"/><path d="M1117.4 1075h1.4v1.4h-1.4zM1118.8 1075h1.4v1.4h-1.4zM1120.2 1075h1.4v1.4h-1.4zM1121.6 1075h1.4v1.4h-1.4zM1131.4 1075h1.4v1.4h-1.4zM1116 1076.4h1.4v1.4h-1.4zM1117.4 1076.4h1.4v1.4h-1.4zM1121.6 1076.4h1.4v1.4h-1.4zM1123 1076.4h1.4v1.4h-1.4zM1124.4 1076.4h1.4v1.4h-1.4zM1127.2 1076.4h1.4v1.4h-1.4zM1128.6 1076.4h1.4v1.4h-1.4zM1130 1076.4h1.4v1.4h-1.4zM1120.2 1077.8h1.4v1.4h-1.4zM1121.6 1077.8h1.4v1.4h-1.4zM1124.4 1077.8h1.4v1.4h-1.4zM1125.8 1077.8h1.4v1.4h-1.4zM1128.6 1077.8h1.4v1.4h-1.4zM1131.4 1077.8h1.4v1.4h-1.4zM1118.8 1079.2h1.4v1.4h-1.4zM1120.2 1079.2h1.4v1.4h-1.4zM1121.6 1079.2h1.4v1.4h-1.4zM1123 1079.2h1.4v1.4h-1.4zM1124.4 1079.2h1.4v1.4h-1.4zM1116 1080.6h1.4v1.4h-1.4zM1117.4 1080.6h1.4v1.4h-1.4zM1121.6 1080.6h1.4v1.4h-1.4zM1127.2 1080.6h1.4v1.4h-1.4zM1130 1080.6h1.4v1.4h-1.4zM1116 1082h1.4v1.4h-1.4zM1117.4 1082h1.4v1.4h-1.4zM1118.8 1082h1.4v1.4h-1.4zM1120.2 1082h1.4v1.4h-1.4zM1121.6 1082h1.4v1.4h-1.4zM1116 1083.4h1.4v1.4h-1.4zM1117.4 1083.4h1.4v1.4h-1.4zM1121.6 1083.4h1.4v1.4h-1.4zM1123 1083.4h1.4v1.4h-1.4zM1124.4 1083.4h1.4v1.4h-1.4zM1125.8 1083.4h1.4v1.4h-1.4zM1127.2 1083.4h1.4v1.4h-1.4zM1128.6 1083.4h1.4v1.4h-1.4zM1131.4 1083.4h1.4v1.4h-1.4zM1118.8 1084.8h1.4v1.4h-1.4zM1124.4 1084.8h1.4v1.4h-1.4zM1125.8 1084.8h1.4v1.4h-1.4zM1127.2 1084.8h1.4v1.4h-1.4zM1131.4 1084.8h1.4v1.4h-1.4zM1116 1086.2h1.4v1.4h-1.4zM1117.4 1086.2h1.4v1.4h-1.4zM1120.2 1086.2h1.4v1.4h-1.4zM1123 1086.2h1.4v1.4h-1.4zM1125.8 1086.2h1.4v1.4h-1.4zM1130 1086.2h1.4v1.4h-1.4zM1131.4 1086.2h1.4v1.4h-1.4zM1116 1087.6h1.4v1.4h-1.4zM1117.4 1087.6h1.4v1.4h-1.4zM1120.2 1087.6h1.4v1.4h-1.4zM1124.4 1087.6h1.4v1.4h-1.4zM1128.6 1087.6h1.4v1.4h-1.4zM1117.4 1089h1.4v1.4h-1.4zM1118.8 1089h1.4v1.4h-1.4zM1120.2 1089h1.4v1.4h-1.4zM1123 1089h1.4v1.4h-1.4zM1125.8 1089h1.4v1.4h-1.4zM1127.2 1089h1.4v1.4h-1.4zM1128.6 1089h1.4v1.4h-1.4zM1130 1089h1.4v1.4h-1.4zM1131.4 1089h1.4v1.4h-1.4z" fill="#30e8f0"/><rect x="1116" y="1090" width="4.5" height="31.6" fill="#b0ff50" opacity="0.9"/><rect x="1126" y="1097" width="6" height="18" fill="#30d0ff" opacity="0.7"/><rect x="1469" y="1034" width="8.7" height="56" fill="#20a8ff" opacity="0.6"/><path d="M1471.8 1024h1.4v1.4h-1.4zM1473.2 1024h1.4v1.4h-1.4zM1474.6 1024h1.4v1.4h-1.4zM1476 1024h1.4v1.4h-1.4zM1469 1025.4h1.4v1.4h-1.4zM1471.8 1025.4h1.4v1.4h-1.4zM1473.2 1025.4h1.4v1.4h-1.4zM1477.4 1025.4h1.4v1.4h-1.4zM1470.4 1026.8h1.4v1.4h-1.4zM1473.2 1026.8h1.4v1.4h-1.4zM1477.4 1026.8h1.4v1.4h-1.4zM1469 1028.2h1.4v1.4h-1.4zM1473.2 1028.2h1.4v1.4h-1.4zM1474.6 1028.2h1.4v1.4h-1.4zM1477.4 1028.2h1.4v1.4h-1.4zM1469 1029.6h1.4v1.4h-1.4zM1471.8 1029.6h1.4v1.4h-1.4zM1477.4 1029.6h1.4v1.4h-1.4zM1469 1031h1.4v1.4h-1.4zM1470.4 1031h1.4v1.4h-1.4zM1471.8 1031h1.4v1.4h-1.4zM1473.2 1031h1.4v1.4h-1.4zM1474.6 1031h1.4v1.4h-1.4zM1476 1031h1.4v1.4h-1.4zM1477.4 1031h1.4v1.4h-1.4zM1474.6 1032.4h1.4v1.4h-1.4zM1476 1032.4h1.4v1.4h-1.4zM1477.4 1032.4h1.4v1.4h-1.4zM1470.4 1033.8h1.4v1.4h-1.4zM1471.8 1033.8h1.4v1.4h-1.4zM1473.2 1033.8h1.4v1.4h-1.4zM1474.6 1033.8h1.4v1.4h-1.4zM1477.4 1033.8h1.4v1.4h-1.4zM1469 1035.2h1.4v1.4h-1.4zM1470.4 1035.2h1.4v1.4h-1.4zM1471.8 1035.2h1.4v1.4h-1.4zM1473.2 1035.2h1.4v1.4h-1.4zM1474.6 1035.2h1.4v1.4h-1.4zM1476 1035.2h1.4v1.4h-1.4zM1477.4 1035.2h1.4v1.4h-1.4zM1470.4 1036.6h1.4v1.4h-1.4zM1471.8 1036.6h1.4v1.4h-1.4zM1474.6 1036.6h1.4v1.4h-1.4zM1477.4 1036.6h1.4v1.4h-1.4zM1474.6 1038h1.4v1.4h-1.4zM1469 1039.4h1.4v1.4h-1.4zM1470.4 1039.4h1.4v1.4h-1.4zM1471.8 1039.4h1.4v1.4h-1.4zM1473.2 1039.4h1.4v1.4h-1.4zM1476 1039.4h1.4v1.4h-1.4zM1477.4 1039.4h1.4v1.4h-1.4zM1470.4 1040.8h1.4v1.4h-1.4zM1474.6 1040.8h1.4v1.4h-1.4zM1477.4 1040.8h1.4v1.4h-1.4zM1469 1042.2h1.4v1.4h-1.4zM1470.4 1042.2h1.4v1.4h-1.4zM1471.8 1042.2h1.4v1.4h-1.4zM1474.6 1042.2h1.4v1.4h-1.4zM1477.4 1042.2h1.4v1.4h-1.4zM1469 1043.6h1.4v1.4h-1.4zM1470.4 1043.6h1.4v1.4h-1.4zM1474.6 1043.6h1.4v1.4h-1.4zM1476 1043.6h1.4v1.4h-1.4zM1469 1045h1.4v1.4h-1.4zM1470.4 1045h1.4v1.4h-1.4zM1473.2 1045h1.4v1.4h-1.4zM1474.6 1045h1.4v1.4h-1.4zM1469 1046.4h1.4v1.4h-1.4zM1470.4 1046.4h1.4v1.4h-1.4zM1471.8 1046.4h1.4v1.4h-1.4zM1473.2 1046.4h1.4v1.4h-1.4zM1476 1046.4h1.4v1.4h-1.4zM1470.4 1047.8h1.4v1.4h-1.4zM1473.2 1047.8h1.4v1.4h-1.4zM1477.4 1047.8h1.4v1.4h-1.4zM1469 1049.2h1.4v1.4h-1.4zM1471.8 1049.2h1.4v1.4h-1.4zM1473.2 1049.2h1.4v1.4h-1.4z" fill="#2a80ff"/><path d="M1470.4 1050h1.4v1.4h-1.4zM1471.8 1050h1.4v1.4h-1.4zM1474.6 1050h1.4v1.4h-1.4zM1476 1050h1.4v1.4h-1.4zM1469 1051.4h1.4v1.4h-1.4zM1471.8 1051.4h1.4v1.4h-1.4zM1476 1051.4h1.4v1.4h-1.4zM1470.4 1052.8h1.4v1.4h-1.4zM1471.8 1052.8h1.4v1.4h-1.4zM1473.2 1052.8h1.4v1.4h-1.4zM1477.4 1052.8h1.4v1.4h-1.4zM1471.8 1054.2h1.4v1.4h-1.4zM1473.2 1054.2h1.4v1.4h-1.4zM1476 1054.2h1.4v1.4h-1.4zM1471.8 1055.6h1.4v1.4h-1.4zM1473.2 1055.6h1.4v1.4h-1.4zM1474.6 1055.6h1.4v1.4h-1.4zM1476 1055.6h1.4v1.4h-1.4zM1471.8 1057h1.4v1.4h-1.4zM1474.6 1057h1.4v1.4h-1.4zM1476 1057h1.4v1.4h-1.4zM1470.4 1058.4h1.4v1.4h-1.4zM1473.2 1058.4h1.4v1.4h-1.4zM1476 1058.4h1.4v1.4h-1.4zM1477.4 1058.4h1.4v1.4h-1.4zM1469 1059.8h1.4v1.4h-1.4zM1470.4 1059.8h1.4v1.4h-1.4zM1474.6 1059.8h1.4v1.4h-1.4zM1476 1059.8h1.4v1.4h-1.4zM1477.4 1059.8h1.4v1.4h-1.4zM1469 1061.2h1.4v1.4h-1.4zM1470.4 1061.2h1.4v1.4h-1.4zM1471.8 1061.2h1.4v1.4h-1.4zM1474.6 1061.2h1.4v1.4h-1.4zM1476 1061.2h1.4v1.4h-1.4zM1469 1062.6h1.4v1.4h-1.4zM1471.8 1062.6h1.4v1.4h-1.4zM1473.2 1062.6h1.4v1.4h-1.4zM1476 1062.6h1.4v1.4h-1.4zM1477.4 1062.6h1.4v1.4h-1.4zM1469 1064h1.4v1.4h-1.4zM1470.4 1064h1.4v1.4h-1.4zM1471.8 1064h1.4v1.4h-1.4zM1476 1064h1.4v1.4h-1.4zM1477.4 1064h1.4v1.4h-1.4zM1470.4 1065.4h1.4v1.4h-1.4zM1471.8 1065.4h1.4v1.4h-1.4zM1476 1065.4h1.4v1.4h-1.4zM1477.4 1065.4h1.4v1.4h-1.4zM1469 1066.8h1.4v1.4h-1.4zM1470.4 1066.8h1.4v1.4h-1.4zM1471.8 1066.8h1.4v1.4h-1.4zM1473.2 1066.8h1.4v1.4h-1.4zM1474.6 1066.8h1.4v1.4h-1.4zM1469 1068.2h1.4v1.4h-1.4zM1470.4 1068.2h1.4v1.4h-1.4zM1471.8 1068.2h1.4v1.4h-1.4zM1469 1069.6h1.4v1.4h-1.4zM1470.4 1069.6h1.4v1.4h-1.4zM1471.8 1069.6h1.4v1.4h-1.4zM1473.2 1069.6h1.4v1.4h-1.4zM1476 1069.6h1.4v1.4h-1.4zM1469 1071h1.4v1.4h-1.4zM1470.4 1071h1.4v1.4h-1.4zM1471.8 1071h1.4v1.4h-1.4zM1473.2 1071h1.4v1.4h-1.4zM1474.6 1071h1.4v1.4h-1.4z" fill="#30d8ff"/><path d="M1474.6 1072h1.4v1.4h-1.4zM1477.4 1072h1.4v1.4h-1.4zM1469 1073.4h1.4v1.4h-1.4zM1470.4 1073.4h1.4v1.4h-1.4zM1473.2 1073.4h1.4v1.4h-1.4zM1476 1073.4h1.4v1.4h-1.4zM1477.4 1073.4h1.4v1.4h-1.4zM1470.4 1074.8h1.4v1.4h-1.4zM1471.8 1074.8h1.4v1.4h-1.4zM1473.2 1074.8h1.4v1.4h-1.4zM1476 1074.8h1.4v1.4h-1.4zM1477.4 1074.8h1.4v1.4h-1.4zM1469 1076.2h1.4v1.4h-1.4zM1470.4 1076.2h1.4v1.4h-1.4zM1471.8 1076.2h1.4v1.4h-1.4zM1473.2 1076.2h1.4v1.4h-1.4zM1474.6 1076.2h1.4v1.4h-1.4zM1477.4 1076.2h1.4v1.4h-1.4zM1469 1077.6h1.4v1.4h-1.4zM1471.8 1077.6h1.4v1.4h-1.4zM1474.6 1077.6h1.4v1.4h-1.4zM1476 1077.6h1.4v1.4h-1.4zM1469 1079h1.4v1.4h-1.4zM1470.4 1079h1.4v1.4h-1.4zM1476 1079h1.4v1.4h-1.4zM1471.8 1080.4h1.4v1.4h-1.4zM1473.2 1080.4h1.4v1.4h-1.4zM1474.6 1080.4h1.4v1.4h-1.4zM1476 1080.4h1.4v1.4h-1.4zM1477.4 1080.4h1.4v1.4h-1.4zM1474.6 1081.8h1.4v1.4h-1.4zM1477.4 1081.8h1.4v1.4h-1.4zM1469 1083.2h1.4v1.4h-1.4zM1470.4 1083.2h1.4v1.4h-1.4zM1471.8 1083.2h1.4v1.4h-1.4zM1473.2 1083.2h1.4v1.4h-1.4zM1474.6 1083.2h1.4v1.4h-1.4zM1476 1083.2h1.4v1.4h-1.4zM1477.4 1083.2h1.4v1.4h-1.4zM1469 1084.6h1.4v1.4h-1.4zM1470.4 1084.6h1.4v1.4h-1.4zM1471.8 1084.6h1.4v1.4h-1.4zM1473.2 1084.6h1.4v1.4h-1.4zM1476 1084.6h1.4v1.4h-1.4zM1469 1086h1.4v1.4h-1.4zM1470.4 1086h1.4v1.4h-1.4zM1477.4 1086h1.4v1.4h-1.4zM1470.4 1087.4h1.4v1.4h-1.4zM1471.8 1087.4h1.4v1.4h-1.4zM1473.2 1087.4h1.4v1.4h-1.4zM1469 1088.8h1.4v1.4h-1.4zM1471.8 1088.8h1.4v1.4h-1.4zM1473.2 1088.8h1.4v1.4h-1.4zM1476 1088.8h1.4v1.4h-1.4z" fill="#80ff80"/><rect x="1469" y="1090" width="3" height="31.6" fill="#40c0ff" opacity="0.8"/><rect x="1019" y="1089" width="5" height="32.6" fill="#30d8ff" opacity="0.8"/><rect x="1036" y="969.5" width="1" height="152" fill="#2a5aff" opacity="0.45"/><rect x="1166" y="969.5" width="1" height="152" fill="#2a5aff" opacity="0.45"/><rect x="1182" y="969.5" width="1" height="152" fill="#2a5aff" opacity="0.45"/><rect x="1209" y="969.5" width="1" height="152" fill="#2a5aff" opacity="0.45"/><rect x="1232" y="969.5" width="1" height="152" fill="#2a5aff" opacity="0.45"/><rect x="1246" y="969.5" width="1" height="152" fill="#2a5aff" opacity="0.45"/><rect x="1262" y="969.5" width="1" height="152" fill="#2a5aff" opacity="0.45"/><rect x="1276" y="969.5" width="1" height="152" fill="#2a5aff" opacity="0.45"/><rect x="1311" y="969.5" width="1" height="152" fill="#2a5aff" opacity="0.45"/><rect x="1325" y="969.5" width="1" height="152" fill="#2a5aff" opacity="0.45"/><rect x="1343" y="969.5" width="1" height="152" fill="#2a5aff" opacity="0.45"/><rect x="1391" y="969.5" width="1" height="152" fill="#2a5aff" opacity="0.45"/><rect x="1446" y="969.5" width="1" height="152" fill="#2a5aff" opacity="0.45"/><rect x="1463" y="969.5" width="1" height="152" fill="#2a5aff" opacity="0.45"/>
<path d="M260 975.5 h8 M1811 975.5 h-9 M260 980.5 h8 M1811 980.5 h-9 M260 984.5 h8 M1811 984.5 h-9 M260 987.5 h8 M1811 987.5 h-9 M260 990.5 h8 M1811 990.5 h-9 M260 993.5 h8 M1811 993.5 h-9 M260 995.5 h16 M1811 995.5 h-17 M260 1011.5 h8 M1811 1011.5 h-9 M260 1020.5 h8 M1811 1020.5 h-9 M260 1026.5 h8 M1811 1026.5 h-9 M260 1031.5 h8 M1811 1031.5 h-9 M260 1035.5 h8 M1811 1035.5 h-9 M260 1038.5 h8 M1811 1038.5 h-9 M260 1041.5 h8 M1811 1041.5 h-9 M260 1044.5 h8 M1811 1044.5 h-9 M260 1046.5 h16 M1811 1046.5 h-17 M260 1062.5 h8 M1811 1062.5 h-9 M260 1071.5 h8 M1811 1071.5 h-9 M260 1077.5 h8 M1811 1077.5 h-9 M260 1082.5 h8 M1811 1082.5 h-9 M260 1086.5 h8 M1811 1086.5 h-9 M260 1089.5 h8 M1811 1089.5 h-9 M260 1092.5 h8 M1811 1092.5 h-9 M260 1095.5 h8 M1811 1095.5 h-9 M260 1097.5 h16 M1811 1097.5 h-17 M260 1113.5 h8 M1811 1113.5 h-9 M260 1122.5 h8 M1811 1122.5 h-9 M441.5 1122 v-16 M441.5 969 v16 M622.5 1122 v-16 M622.5 969 v16 M1628.5 1122 v-16 M1628.5 969 v16" stroke="#000" stroke-width="1" fill="none" shape-rendering="crispEdges"/>
<rect x="260.5" y="969.5" width="1550" height="153" stroke="#000" stroke-width="1" fill="none" shape-rendering="crispEdges"/>
<clipPath id="mapclip"><rect x="261" y="1134" width="1549" height="221"/></clipPath>
<path d="M280 1179.5 H1795 M280 1244.5 H1795 M280 1309.5 H1795 M441.5 1152 V1340 M622.5 1152 V1340 M803.5 1152 V1340 M1087.5 1152 V1340 M1267.5 1152 V1340 M1448.5 1152 V1340 M1628.5 1152 V1340" stroke="#000" stroke-width="1" stroke-dasharray="1 4" fill="none" shape-rendering="crispEdges"/>
<g clip-path="url(#mapclip)">
<path d="M260.6 1216.2 L267.6 1221.8 L276 1226.7 L290 1221.1 L298.4 1223.9 L311 1218.3 L320.8 1215.92 L326.4 1217.6 L331.3 1224.6 L339 1225.3 L344.6 1224.6 L348.1 1230.2 L348.8 1240 L346 1248.4 L347.4 1254 L358.6 1265.2 L365.6 1280.6 L367 1294.6 L361.4 1303 L358.6 1317 L361.4 1326.8 L369.8 1343.6 L370.5 1355.5 M364.2 1183.3 L369.8 1182.6 L374 1186.8 L371.2 1190.3 L367 1188.2 Z M444 1247 L451 1242.8 L455.2 1245.6 L452.4 1254 L445.4 1256.1 L443.3 1251.2 Z M432.1 1258.2 L435.6 1268 L441.2 1282 M453.8 1285.5 L457.3 1296 L460.1 1307.2 M458 1133.6 L460.8 1140.6 L467.8 1146.2 L469.2 1160.2 L476.2 1168.6 L479 1177 L490.2 1185.4 L495.1 1190.3 L494.4 1195.2 L500 1199.4 L511.19 1195.2 L526.59 1192.4 L528.69 1193.8 L526.59 1206.4 L519.59 1217.6 L511.19 1228.8 L495.8 1240 L490.2 1244.2 L480.4 1255.4 L474.8 1269.4 L479 1279.2 L481.8 1291.8 L483.2 1308.6 L476.2 1317 L470.6 1321.2 L459.4 1331 L460.8 1346.4 L459.4 1355.5 M467.8 1133.6 L474.8 1140.6 L476.2 1153.2 L487.4 1164.4 L493 1174.2 L495.8 1188.2 L506.99 1186.8 L518.19 1181.2 L525.19 1176.3 M525 1178.4 L543.2 1170 L555.8 1160.2 L558.6 1154.6 L565.6 1144.8 L560 1139.2 L551.6 1133.6 M495.8 1355.5 L493 1342.2 L498.6 1331 L495.8 1321.2 L501.4 1314.2 L512.59 1308.6 L516.79 1300.2 L519.59 1296.7 L523.79 1300.2 L525.19 1312.8 L520.99 1324 L518.19 1338 L511.19 1355.5 M527.8 1136.68 L533.4 1135 L541.8 1134.3 M536.2 1189.6 L543.2 1188.9 L542.5 1191 L536.9 1191.28 Z M595 1133.6 L603.4 1142 L609 1143.4 L609 1151.8 L617.4 1151.8 L618.8 1146.2 L621.6 1158.8 L623 1174.2 L630 1186.8 L635.6 1199.4 L639.8 1208.5 L645.4 1206.4 L651 1199.4 L652.4 1192.4 L651.7 1179.8 L653.8 1175.6 L665 1168.6 L676.2 1158.8 L681.8 1154.6 L683.2 1149 L687.4 1147.6 L697.2 1146.2 L700.7 1144.1 L705.6 1151.8 L712.6 1160.2 L715.4 1174.2 L725.2 1170.7 L728 1174.2 L732.2 1189.6 L731.5 1203.6 L735 1210.6 L739.2 1217.6 L741.3 1230.2 L749 1235.8 L756 1237.9 L751.8 1226 L750.4 1219 L742 1212 L735 1203.6 L737.8 1186.8 L743.4 1188.2 L749 1193.8 L758.8 1200.8 L761.6 1206.4 L767.2 1203.6 L776.99 1195.2 L778.39 1178.4 L768.6 1167.2 L761.6 1160.2 L765.8 1153.2 L775.59 1147.6 L782.59 1149 L804.99 1143.4 M775.59 1156 L783.99 1154.6 L785.39 1160.2 L779.79 1164.4 L775.59 1161.6 Z M651 1200.8 L656.6 1203.6 L660.1 1212 L659.4 1217.6 L653.8 1219 L651 1213.4 Z M707 1186.8 L707 1192.4 M717.5 1221.1 L723.8 1219.7 L737.8 1228.8 L744.8 1234.4 L753.2 1240 L756 1248.4 L763 1254 L764.4 1268 L757.4 1268 L743.4 1254 L737.8 1244.2 L730.8 1234.4 L721 1224.6 Z M721 1232.3 L723.8 1234.4 M725.9 1238.6 L729.4 1241.4 M732.9 1249.8 L735 1251.9 M545.3 1337.3 L547.4 1335.9 M554.4 1333.8 L556.08 1332.68 M796.59 1354.8 L797.99 1343.6 L804.99 1339.4 M867.8 1244.2 L879 1244.2 L893 1249.8 L907 1252.6 L921 1258.2 L935 1266.6 L943.4 1270.8 L943.4 1275 L949 1282 L956 1289 L946.2 1286.2 L935 1277.8 L929.4 1275 L921 1283.4 L907 1279.2 L901.4 1275 L902.8 1266.6 L893 1262.4 L879 1259.6 L869.2 1255.4 Z M957.4 1255.4 L965.8 1261 L963 1268 L949 1270.8 L946.2 1269.4 L960.2 1266.6 L963 1262.4 M972.8 1267.3 L984 1276.4 M991 1277.8 L1006.4 1290.4 M838.4 1289 L853.8 1280.6 M886 1268 L887.4 1273.6 M872 1275 L873.4 1277.8 M795 1353.4 L799.2 1342.2 L811.8 1335.2 L828.6 1326.8 L837 1317 L848.2 1308.6 L855.2 1304.4 L865 1308.6 L869.2 1296 L879 1294.6 L895.8 1298.8 L891.6 1310 L901.4 1318.4 L909.8 1322.6 L915.4 1311.4 L918.2 1294.6 L922.4 1291.8 L926.6 1304.4 L933.6 1310 L936.4 1324 L949 1336.6 L957.4 1345 L964.4 1355.5 M1024.6 1308.6 L1030.2 1317 M1014.8 1333.8 L1027.4 1342.2 L1026 1343.6 L1015.5 1335.2 Z M1070.79 1322.6 L1074.99 1321.2 M1167.2 1147.6 L1171.4 1145.5 M1175.6 1149 L1184 1153.2 L1188.2 1157.4 L1191 1160.2 L1186.8 1161.6 L1185.4 1157.4 M1112.6 1302.3 L1120.3 1305.1 M1070.6 1321.2 L1074.8 1318.4 L1081.8 1315.6 L1079 1322.6 L1073.4 1324 Z M1212.7 1320.5 L1215.5 1323.02 M1374.2 1133.6 L1386.8 1141.3 L1384.7 1144.1 L1375.6 1135.7 Z M1391 1133.6 L1402.2 1143.4 L1403.6 1153.2 L1413.4 1164.4 L1430.2 1170 L1444.2 1175.6 L1449.8 1172.8 L1456.8 1178.4 L1463.8 1182.6 L1479.2 1188.2 L1486.2 1193.8 L1489 1202.2 L1497.4 1206.4 L1507.2 1210.6 L1510 1213.4 L1514.2 1206.4 L1518.4 1205 L1522.6 1212 L1525.4 1219 L1524 1230.2 L1518.4 1234.4 L1512.8 1242.8 L1508.6 1249.8 L1511.4 1256.8 L1507.2 1263.8 L1508.6 1268 L1515.6 1277.8 L1521.2 1289 L1528.2 1298.8 L1529.6 1305.8 L1533.8 1311.4 L1550.6 1321.2 L1554.8 1326.8 L1554.8 1340.8 L1553.4 1355.5 M1435.8 1133.6 L1435.8 1146.2 L1445.6 1160.2 L1452.6 1164.4 L1465.2 1161.6 L1468 1153.2 L1483.4 1149 L1482 1156 L1477.8 1168.6 L1475 1174.2 L1494.6 1175.6 L1498.8 1182.6 L1496 1193.8 L1503 1200.8 L1510 1204.3 L1517 1203.6 L1521.2 1206.4 L1526.8 1209.2 L1531 1199.4 L1539.4 1195.2 L1547.8 1190.3 L1550.6 1193.8 L1559 1192.4 L1564.6 1198 L1573 1198 L1586.99 1198 L1593.99 1199.4 L1596.79 1207.8 M1595 1205.81 L1603.19 1211.27 L1611.38 1218.09 L1626.4 1219.46 L1637.32 1227.65 L1642.78 1237.2 L1640.05 1244.03 L1635.95 1248.12 L1641.41 1245.39 L1649.6 1245.39 L1657.79 1248.12 L1665.98 1253.58 L1683.73 1256.31 L1696.01 1264.5 L1705.57 1267.23 L1708.3 1276.79 L1704.2 1289.07 L1690.55 1302.72 L1689.19 1315.01 L1685.09 1335.48 L1679.63 1345.04 L1663.25 1347.77 L1653.7 1355.27 M1493.2 1147.6 L1503 1142 L1515.6 1143.4 L1531 1151.8 L1538 1157.4 L1528.2 1156 L1517 1150.4 L1503 1146.2 Z M1539.4 1163 L1545 1157.4 L1556.2 1158.1 L1563.2 1163 L1550.6 1165.8 Z M1519.8 1164.4 L1525.4 1163 L1529.6 1165.1 L1524 1166.92 Z M1567.4 1163.7 L1575.1 1163.7 L1573 1166.08 L1568.1 1165.8 Z M1505.1 1134.3 L1507.2 1135.7 M1520.5 1135.7 L1522.6 1138.5 M1531 1134.3 L1533.8 1136.4 M1536.6 1144.1 L1539.4 1145.5 M1543.6 1145.5 L1549.2 1148.3 M1591.19 1174.2 L1593.99 1172.8 M1593.29 1179.1 L1595.39 1180.92 M1463.8 1245.6 L1466.6 1248.4 M1792.93 1133.46 L1784.74 1148.48 L1787.47 1162.13 L1784.74 1179.87 L1786.1 1190.79 L1792.93 1196.25 L1799.75 1204.44 L1801.12 1209.9 L1809.31 1216.73 M811.5 1213.8 L814.1 1216.9 L821 1221.7 L814.1 1230.7 L819.4 1240.2 L814.1 1242.4 L808.8 1252.9 L801.9 1260.9 L790.3 1257.7 L782.4 1256.1 L777.1 1240.2 L778.1 1236 L786.1 1236 L787.6 1231.2 L795.6 1227.5 L803.5 1221.7 L808.8 1215.9 Z M762.8 1268.8 L771.8 1269.9 L782.4 1273 L792.9 1275.2 L808.8 1281 L830 1280.5 L855.3 1280.7 M762.8 1250.3 L766 1251 L768 1256.6 L764 1256 Z M771.5 1255 L772.5 1256.5 M780 1149.8 L789.4 1147.9 L798.8 1144.1 L808.2 1141.3 L815.8 1137.5 L819.5 1133.8 M780 1151.7 L784.7 1156.4 L782.8 1162 L780 1164.8 M825.2 1135.6 L832.7 1134.7 L830.8 1143.2 L828 1147 L825.2 1144.1 Z M827.1 1163 L834.6 1163 L835.6 1170.5 L831.8 1175.2 L832.7 1180.8 L829 1182.7 L824.3 1174.3 L826.1 1167.7 Z M826.1 1186.5 L832.7 1182.7 L840.3 1186.5 L847.8 1192.1 L848.7 1197.8 L851.6 1205.3 L845.9 1207.2 L838.4 1205.3 L833.7 1199.7 L832.7 1194 L828 1191.2 Z M834.6 1194 L841.2 1195.9 L845.9 1201.6 L840.3 1203.4 M841.2 1212.9 L847.8 1214.7 L852.5 1212.9 L850.6 1218.5 L847.8 1220.4 L842.1 1216.6 Z M823.3 1195.9 L813 1207.2 M825.2 1241.1 L830.8 1238.3 L845.9 1237.3 L844 1241.1 L832.7 1243 L829 1247.7 L839.3 1246.8 L830.8 1251.5 L829 1255.2 L820.5 1259 L824.3 1247.7 L825.2 1241.1 M857 1235 L861 1236 L862 1241 L859.5 1243 L861 1247.5 L858 1248 L856 1242 Z" stroke="#000" stroke-width="2.2" fill="none" stroke-linejoin="round" stroke-linecap="round"/>
<path d="M260.6 1262.4 C277.87 1265.9 334.1 1277.92 364.2 1283.4 C394.3 1288.88 421.13 1292.73 441.2 1295.3 C461.27 1297.87 468.97 1297.75 484.6 1298.8 C500.23 1299.85 519.1 1301.15 535 1301.6 C550.9 1302.05 565.33 1301.97 580 1301.5 C594.67 1301.03 608.83 1300.18 623 1298.8 C637.17 1297.42 647.27 1295.53 665 1293.2 C682.73 1290.87 708.63 1288.18 729.4 1284.8 C750.17 1281.42 770.03 1277.1 789.6 1272.9 C809.17 1268.7 828.28 1264.15 846.8 1259.6 C865.32 1255.05 890 1248.28 900.7 1245.6 C911.4 1242.92 909.28 1243.85 911 1243.5" stroke="#c81e1e" stroke-width="1.3" fill="none"/>
<path d="M1020 1243 C1027.92 1240.98 1050.2 1235.02 1067.5 1230.9 C1084.8 1226.78 1105.08 1222.38 1123.8 1218.3 C1142.52 1214.22 1161.25 1209.9 1179.8 1206.4 C1198.35 1202.9 1216.55 1199.87 1235.1 1197.3 C1253.65 1194.73 1272.78 1192.47 1291.1 1191 C1309.42 1189.53 1327.18 1189.08 1345 1188.5 C1362.82 1187.92 1381 1187.2 1398 1187.5 C1415 1187.8 1431.83 1189.25 1447 1190.3 C1462.17 1191.35 1472.67 1192.05 1489 1193.8 C1505.33 1195.55 1528.67 1198.47 1545 1200.8 C1561.33 1203.13 1575.33 1205.35 1587 1207.8 C1598.67 1210.25 1597.75 1211.28 1615 1215.5 C1632.25 1219.72 1658.12 1225.38 1690.5 1233.1 C1722.88 1240.82 1789.5 1257.02 1809.3 1261.8" stroke="#c81e1e" stroke-width="1.3" fill="none"/>
<path d="M260.5 1199.2 C267.52 1198.53 291.85 1195.63 302.6 1195.2 C313.35 1194.77 313.33 1196.25 325 1196.6 C336.67 1196.95 358.6 1196.37 372.6 1197.3 C386.6 1198.23 397.57 1200.68 409 1202.2 C420.43 1203.72 426.27 1204.65 441.2 1206.4 C456.13 1208.15 482.97 1211.65 498.6 1212.7 C514.23 1213.75 521.27 1212.58 535 1212.7 C548.73 1212.82 567.5 1213.75 581 1213.4 C594.5 1213.05 599.67 1211.42 616 1210.6 C632.33 1209.78 649.83 1208.85 679 1208.5 C708.17 1208.15 761.87 1208.38 791 1208.5 C820.13 1208.62 835.63 1209.2 853.8 1209.2 C871.97 1209.2 884.13 1208.27 900 1208.5 C915.87 1208.73 931.5 1208.85 949 1210.6 C966.5 1212.35 986.33 1216.2 1005 1219 C1023.67 1221.8 1047.27 1225.3 1061 1227.4 C1074.73 1229.5 1068.07 1228.68 1087.4 1231.6 C1106.73 1234.52 1147.13 1240.7 1177 1244.9 C1206.87 1249.1 1238.6 1253.07 1266.6 1256.8 C1294.6 1260.53 1324.27 1264.27 1345 1267.3 C1365.73 1270.33 1371.67 1271.38 1391 1275 C1410.33 1278.62 1440 1285.38 1461 1289 C1482 1292.62 1504.87 1295.3 1517 1296.7 C1529.13 1298.1 1531 1297.28 1533.8 1297.4 M1533.8 1297.4 L1600.5 1281.8 L1729.2 1213.6 L1791.7 1198 L1810.5 1198.5" stroke="#10e010" stroke-width="5" fill="none" stroke-linejoin="round"/>
<g fill="#f01414"><rect x="728.35" y="1277.15" width="10.5" height="12.5" transform="rotate(-8.53 733.6 1283.4)"/><rect x="742.35" y="1275.05" width="10.5" height="12.5" transform="rotate(-9.69 747.6 1281.3)"/><rect x="757.05" y="1272.25" width="10.5" height="12.5" transform="rotate(-11.31 762.3 1278.5)"/><rect x="770.35" y="1269.45" width="10.5" height="12.5" transform="rotate(-11.59 775.6 1275.7)"/><rect x="784.35" y="1266.65" width="10.5" height="12.5" transform="rotate(-12.86 789.6 1272.9)"/><rect x="797.95" y="1263.15" width="10.5" height="12.5" transform="rotate(-10.86 803.2 1269.4)"/><rect x="813.55" y="1261.05" width="10.5" height="12.5" transform="rotate(-12.3 818.8 1267.3)"/><rect x="826.85" y="1256.85" width="10.5" height="12.5" transform="rotate(-15.38 832.1 1263.1)"/><rect x="841.55" y="1253.35" width="10.5" height="12.5" transform="rotate(-12.99 846.8 1259.6)"/><rect x="854.15" y="1250.55" width="10.5" height="12.5" transform="rotate(-13.32 859.4 1256.8)"/><rect x="868.15" y="1247.05" width="10.5" height="12.5" transform="rotate(-14.38 873.4 1253.3)"/><rect x="881.45" y="1243.55" width="10.5" height="12.5" transform="rotate(-15.75 886.7 1249.8)"/><rect x="895.45" y="1239.35" width="10.5" height="12.5" transform="rotate(-16.7 900.7 1245.6)"/></g>
<g fill="#f01414"><rect x="1022.15" y="1235.15" width="10.5" height="12.5" transform="rotate(-15.95 1027.4 1241.4)"/><rect x="1036.85" y="1230.95" width="10.5" height="12.5" transform="rotate(-14.38 1042.1 1237.2)"/><rect x="1049.45" y="1228.15" width="10.5" height="12.5" transform="rotate(-13.93 1054.7 1234.4)"/><rect x="1062.25" y="1224.65" width="10.5" height="12.5" transform="rotate(-13.42 1067.5 1230.9)"/><rect x="1075.85" y="1221.85" width="10.5" height="12.5" transform="rotate(-12.55 1081.1 1228.1)"/><rect x="1090.55" y="1218.35" width="10.5" height="12.5" transform="rotate(-13.71 1095.8 1224.6)"/><rect x="1104.55" y="1214.85" width="10.5" height="12.5" transform="rotate(-12.68 1109.8 1221.1)"/><rect x="1118.55" y="1212.05" width="10.5" height="12.5" transform="rotate(-11.59 1123.8 1218.3)"/><rect x="1131.85" y="1209.25" width="10.5" height="12.5" transform="rotate(-11.31 1137.1 1215.5)"/><rect x="1146.55" y="1206.45" width="10.5" height="12.5" transform="rotate(-12.38 1151.8 1212.7)"/><rect x="1160.55" y="1202.95" width="10.5" height="12.5" transform="rotate(-12.68 1165.8 1209.2)"/><rect x="1174.55" y="1200.15" width="10.5" height="12.5" transform="rotate(-9.93 1179.8 1206.4)"/><rect x="1188.55" y="1198.05" width="10.5" height="12.5" transform="rotate(-9.93 1193.8 1204.3)"/><rect x="1202.55" y="1195.25" width="10.5" height="12.5" transform="rotate(-9.93 1207.8 1201.5)"/><rect x="1216.55" y="1193.15" width="10.5" height="12.5" transform="rotate(-8.75 1221.8 1199.4)"/><rect x="1229.85" y="1191.05" width="10.5" height="12.5" transform="rotate(-7.13 1235.1 1197.3)"/><rect x="1244.55" y="1189.65" width="10.5" height="12.5" transform="rotate(-6.95 1249.8 1195.9)"/><rect x="1258.55" y="1187.55" width="10.5" height="12.5" transform="rotate(-7.13 1263.8 1193.8)"/><rect x="1272.55" y="1186.15" width="10.5" height="12.5" transform="rotate(-5.86 1277.8 1192.4)"/><rect x="1285.85" y="1184.75" width="10.5" height="12.5" transform="rotate(-4.4 1291.1 1191)"/><rect x="1299.85" y="1184.05" width="10.5" height="12.5" transform="rotate(-4.29 1305.1 1190.3)"/><rect x="1313.85" y="1182.65" width="10.5" height="12.5" transform="rotate(-4.4 1319.1 1188.9)"/><rect x="1327.15" y="1181.95" width="10.5" height="12.5" transform="rotate(-3.01 1332.4 1188.2)"/></g>
<rect x="907.5" y="1238" width="4.5" height="12.5" fill="#f01414" transform="rotate(-14 909.8 1244.2)"/>
<path d="M930.8 1177.9 L932.62 1182.99 L938.03 1183.15 L933.75 1186.46 L935.27 1191.65 L930.8 1188.6 L926.33 1191.65 L927.85 1186.46 L923.57 1183.15 L928.98 1182.99 Z M1028.1 1196.1 L1029.92 1201.19 L1035.33 1201.35 L1031.05 1204.66 L1032.57 1209.85 L1028.1 1206.8 L1023.63 1209.85 L1025.15 1204.66 L1020.87 1201.35 L1026.28 1201.19 Z M1179.8 1227.6 L1181.62 1232.69 L1187.03 1232.85 L1182.75 1236.16 L1184.27 1241.35 L1179.8 1238.3 L1175.33 1241.35 L1176.85 1236.16 L1172.57 1232.85 L1177.98 1232.69 Z M1526.8 1288.5 L1528.62 1293.59 L1534.03 1293.75 L1529.75 1297.06 L1531.27 1302.25 L1526.8 1299.2 L1522.33 1302.25 L1523.85 1297.06 L1519.57 1293.75 L1524.98 1293.59 Z M1667.3 1248.1 L1669.12 1253.19 L1674.53 1253.35 L1670.25 1256.66 L1671.77 1261.85 L1667.3 1258.8 L1662.83 1261.85 L1664.35 1256.66 L1660.07 1253.35 L1665.48 1253.19 Z" stroke="#b428c8" stroke-width="1.1" fill="none"/>
</g>
<path d="M260 1179.5 h15 M1811 1179.5 h-15 M260 1244.5 h15 M1811 1244.5 h-15 M260 1309.5 h15 M1811 1309.5 h-15 M441.5 1355 v-15 M441.5 1133 v15 M622.5 1355 v-15 M622.5 1133 v15 M803.5 1355 v-15 M803.5 1133 v15 M1087.5 1355 v-15 M1087.5 1133 v15 M1267.5 1355 v-15 M1267.5 1133 v15 M1448.5 1355 v-15 M1448.5 1133 v15 M1628.5 1355 v-15 M1628.5 1133 v15" stroke="#000" stroke-width="1" fill="none" shape-rendering="crispEdges"/>
<rect x="260.5" y="1133.5" width="1550" height="222" stroke="#000" stroke-width="1" fill="none" shape-rendering="crispEdges"/>
<circle cx="225" cy="1173.5" r="4.5" stroke="#000" stroke-width="1.8" fill="none"/>
<circle cx="237.5" cy="1239.2" r="4.5" stroke="#000" stroke-width="1.8" fill="none"/>
<circle cx="227" cy="1304" r="4.5" stroke="#000" stroke-width="1.8" fill="none"/>
<text transform="translate(739.98 114) scale(1.0086 1)" font-size="28.5" font-weight="bold" fill="#000" xml:space="preserve">Day 268  25-Sep-2011 11:42:23   orbit 18682</text>
<text transform="translate(209.46 961.9) scale(1.0179 1)" font-size="28" font-weight="normal" fill="#000" xml:space="preserve">10</text>
<text transform="translate(242 944.9) scale(1.0000 1)" font-size="18" font-weight="normal" fill="#000" xml:space="preserve">3</text>
<text transform="translate(209.46 757.9) scale(1.0179 1)" font-size="28" font-weight="normal" fill="#000" xml:space="preserve">10</text>
<text transform="translate(241 740.9) scale(1.0000 1)" font-size="18" font-weight="normal" fill="#000" xml:space="preserve">4</text>
<text transform="translate(209.46 553.9) scale(1.0179 1)" font-size="28" font-weight="normal" fill="#000" xml:space="preserve">10</text>
<text transform="translate(242 536.9) scale(1.0000 1)" font-size="18" font-weight="normal" fill="#000" xml:space="preserve">5</text>
<text transform="translate(209.46 349.9) scale(1.0179 1)" font-size="28" font-weight="normal" fill="#000" xml:space="preserve">10</text>
<text transform="translate(242 332.9) scale(1.0000 1)" font-size="18" font-weight="normal" fill="#000" xml:space="preserve">6</text>
<text transform="translate(209.46 145.9) scale(1.0179 1)" font-size="28" font-weight="normal" fill="#000" xml:space="preserve">10</text>
<text transform="translate(242 128.9) scale(1.0000 1)" font-size="18" font-weight="normal" fill="#000" xml:space="preserve">7</text>
<text transform="translate(204 1004.6) scale(1.0000 1)" font-size="28" font-weight="normal" fill="#000" xml:space="preserve">10</text>
<text transform="translate(235.07 987.7) scale(0.9286 1)" font-size="18" font-weight="normal" fill="#000" xml:space="preserve">-1</text>
<text transform="translate(204 1055.6) scale(1.0000 1)" font-size="28" font-weight="normal" fill="#000" xml:space="preserve">10</text>
<text transform="translate(236.11 1038.7) scale(0.8889 1)" font-size="18" font-weight="normal" fill="#000" xml:space="preserve">0</text>
<text transform="translate(204 1106.6) scale(1.0000 1)" font-size="28" font-weight="normal" fill="#000" xml:space="preserve">10</text>
<text transform="translate(236.75 1089.9) scale(0.7500 1)" font-size="18" font-weight="normal" fill="#000" xml:space="preserve">1</text>
<text transform="translate(1818 185.85) scale(1.0000 1)" font-size="28" font-weight="normal" fill="#0c0cc4" xml:space="preserve">850</text>
<text transform="translate(1818 267.52) scale(1.0000 1)" font-size="28" font-weight="normal" fill="#0c0cc4" xml:space="preserve">800</text>
<text transform="translate(1818 349.18) scale(1.0000 1)" font-size="28" font-weight="normal" fill="#0c0cc4" xml:space="preserve">750</text>
<text transform="translate(1818 430.85) scale(1.0000 1)" font-size="28" font-weight="normal" fill="#0c0cc4" xml:space="preserve">700</text>
<text transform="translate(1818 512.52) scale(1.0000 1)" font-size="28" font-weight="normal" fill="#0c0cc4" xml:space="preserve">650</text>
<text transform="translate(1818 594.19) scale(1.0000 1)" font-size="28" font-weight="normal" fill="#0c0cc4" xml:space="preserve">600</text>
<text transform="translate(1818 675.85) scale(1.0000 1)" font-size="28" font-weight="normal" fill="#0c0cc4" xml:space="preserve">550</text>
<text transform="translate(1818 757.52) scale(1.0000 1)" font-size="28" font-weight="normal" fill="#0c0cc4" xml:space="preserve">500</text>
<text transform="translate(1818 839.19) scale(1.0000 1)" font-size="28" font-weight="normal" fill="#0c0cc4" xml:space="preserve">450</text>
<text transform="translate(1818 920.85) scale(1.0000 1)" font-size="28" font-weight="normal" fill="#0c0cc4" xml:space="preserve">400</text>
<text transform="translate(1500 843.9) scale(1.0000 1)" font-size="28" font-weight="normal" fill="#0c0cc4" xml:space="preserve">Eclipse</text>
<text transform="translate(1500.3 884.8) scale(0.9988 1)" font-size="28" font-weight="normal" fill="#000" xml:space="preserve">One Minute Average</text>
<text transform="translate(1500.3 926.8) scale(1.0015 1)" font-size="28" font-weight="normal" fill="#14dc14" xml:space="preserve">One Second Average</text>
<text transform="translate(187 1192.8) scale(1.0000 1)" font-size="28" font-weight="normal" fill="#000" xml:space="preserve">15</text>
<text transform="translate(232 1192.8) scale(1.0000 1)" font-size="28" font-weight="normal" fill="#000" xml:space="preserve">N</text>
<text transform="translate(215.07 1257.5) scale(0.9286 1)" font-size="28" font-weight="normal" fill="#000" xml:space="preserve">0</text>
<text transform="translate(188 1322.5) scale(1.0000 1)" font-size="28" font-weight="normal" fill="#000" xml:space="preserve">15</text>
<text transform="translate(232 1322.5) scale(1.0000 1)" font-size="28" font-weight="normal" fill="#000" xml:space="preserve">S</text>
<text transform="translate(216.18 1409.5) scale(1.0171 1)" font-size="28" font-weight="normal" fill="#000" xml:space="preserve">GLON</text>
<text transform="translate(440.5 1409.5) scale(1.0 1)" text-anchor="middle" font-size="28" font-weight="normal" fill="#000" xml:space="preserve">031.1</text>
<text transform="translate(621.5 1409.5) scale(1.0 1)" text-anchor="middle" font-size="28" font-weight="normal" fill="#000" xml:space="preserve">073.2</text>
<text transform="translate(802.5 1409.5) scale(1.0 1)" text-anchor="middle" font-size="28" font-weight="normal" fill="#000" xml:space="preserve">115.2</text>
<text transform="translate(1086.5 1409.5) scale(1.0 1)" text-anchor="middle" font-size="28" font-weight="normal" fill="#000" xml:space="preserve">181.1</text>
<text transform="translate(1266.5 1409.5) scale(1.0 1)" text-anchor="middle" font-size="28" font-weight="normal" fill="#000" xml:space="preserve">222.9</text>
<text transform="translate(1447.5 1409.5) scale(1.0 1)" text-anchor="middle" font-size="28" font-weight="normal" fill="#000" xml:space="preserve">264.8</text>
<text transform="translate(1627.5 1409.5) scale(1.0 1)" text-anchor="middle" font-size="28" font-weight="normal" fill="#000" xml:space="preserve">306.9</text>
<text transform="translate(1808.5 1409.5) scale(1.0 1)" text-anchor="middle" font-size="28" font-weight="normal" fill="#000" xml:space="preserve">348.9</text>
<text transform="translate(219.18 1450.5) scale(1.0229 1)" font-size="28" font-weight="normal" fill="#000" xml:space="preserve">GLAT</text>
<text transform="translate(440.5 1450.5) scale(1.0 1)" text-anchor="middle" font-size="28" font-weight="normal" fill="#000" xml:space="preserve">-11.7</text>
<text transform="translate(621.5 1450.5) scale(1.0 1)" text-anchor="middle" font-size="28" font-weight="normal" fill="#000" xml:space="preserve">-12.5</text>
<text transform="translate(802.5 1450.5) scale(1.0 1)" text-anchor="middle" font-size="28" font-weight="normal" fill="#000" xml:space="preserve">-06.0</text>
<text transform="translate(1086.5 1450.5) scale(1.0 1)" text-anchor="middle" font-size="28" font-weight="normal" fill="#000" xml:space="preserve">+04.0</text>
<text transform="translate(1266.5 1450.5) scale(1.0 1)" text-anchor="middle" font-size="28" font-weight="normal" fill="#000" xml:space="preserve">+11.7</text>
<text transform="translate(1447.5 1450.5) scale(1.0 1)" text-anchor="middle" font-size="28" font-weight="normal" fill="#000" xml:space="preserve">+12.5</text>
<text transform="translate(1627.5 1450.5) scale(1.0 1)" text-anchor="middle" font-size="28" font-weight="normal" fill="#000" xml:space="preserve">+06.1</text>
<text transform="translate(1808.5 1450.5) scale(1.0 1)" text-anchor="middle" font-size="28" font-weight="normal" fill="#000" xml:space="preserve">-04.1</text>
<text transform="translate(222.97 1491.7) scale(1.0286 1)" font-size="28" font-weight="normal" fill="#000" xml:space="preserve">GALT</text>
<text transform="translate(440.5 1491.7) scale(1.0 1)" text-anchor="middle" font-size="28" font-weight="normal" fill="#000" xml:space="preserve"> 433</text>
<text transform="translate(621.5 1491.7) scale(1.0 1)" text-anchor="middle" font-size="28" font-weight="normal" fill="#000" xml:space="preserve"> 554</text>
<text transform="translate(802.5 1491.7) scale(1.0 1)" text-anchor="middle" font-size="28" font-weight="normal" fill="#000" xml:space="preserve"> 706</text>
<text transform="translate(1086.5 1491.7) scale(1.0 1)" text-anchor="middle" font-size="28" font-weight="normal" fill="#000" xml:space="preserve"> 799</text>
<text transform="translate(1266.5 1491.7) scale(1.0 1)" text-anchor="middle" font-size="28" font-weight="normal" fill="#000" xml:space="preserve"> 768</text>
<text transform="translate(1447.5 1491.7) scale(1.0 1)" text-anchor="middle" font-size="28" font-weight="normal" fill="#000" xml:space="preserve"> 639</text>
<text transform="translate(1627.5 1491.7) scale(1.0 1)" text-anchor="middle" font-size="28" font-weight="normal" fill="#000" xml:space="preserve"> 489</text>
<text transform="translate(1808.5 1491.7) scale(1.0 1)" text-anchor="middle" font-size="28" font-weight="normal" fill="#000" xml:space="preserve"> 404</text>
<text transform="translate(215.19 1532.6) scale(1.0039 1)" font-size="28" font-weight="normal" fill="#000" xml:space="preserve">MLON</text>
<text transform="translate(440.5 1532.6) scale(1.0 1)" text-anchor="middle" font-size="28" font-weight="normal" fill="#000" xml:space="preserve">101.0</text>
<text transform="translate(621.5 1532.6) scale(1.0 1)" text-anchor="middle" font-size="28" font-weight="normal" fill="#000" xml:space="preserve">142.2</text>
<text transform="translate(802.5 1532.6) scale(1.0 1)" text-anchor="middle" font-size="28" font-weight="normal" fill="#000" xml:space="preserve">186.1</text>
<text transform="translate(1086.5 1532.6) scale(1.0 1)" text-anchor="middle" font-size="28" font-weight="normal" fill="#000" xml:space="preserve">251.4</text>
<text transform="translate(1266.5 1532.6) scale(1.0 1)" text-anchor="middle" font-size="28" font-weight="normal" fill="#000" xml:space="preserve">291.4</text>
<text transform="translate(1447.5 1532.6) scale(1.0 1)" text-anchor="middle" font-size="28" font-weight="normal" fill="#000" xml:space="preserve">333.2</text>
<text transform="translate(1627.5 1532.6) scale(1.0 1)" text-anchor="middle" font-size="28" font-weight="normal" fill="#000" xml:space="preserve">021.5</text>
<text transform="translate(1808.5 1532.6) scale(1.0 1)" text-anchor="middle" font-size="28" font-weight="normal" fill="#000" xml:space="preserve">059.6</text>
<text transform="translate(219.66 1574) scale(1.0186 1)" font-size="28" font-weight="normal" fill="#000" xml:space="preserve">MLAT</text>
<text transform="translate(440.5 1574) scale(1.0 1)" text-anchor="middle" font-size="28" font-weight="normal" fill="#000" xml:space="preserve">-22.6</text>
<text transform="translate(621.5 1574) scale(1.0 1)" text-anchor="middle" font-size="28" font-weight="normal" fill="#000" xml:space="preserve">-23.0</text>
<text transform="translate(802.5 1574) scale(1.0 1)" text-anchor="middle" font-size="28" font-weight="normal" fill="#000" xml:space="preserve">-15.4</text>
<text transform="translate(1086.5 1574) scale(1.0 1)" text-anchor="middle" font-size="28" font-weight="normal" fill="#000" xml:space="preserve">+01.9</text>
<text transform="translate(1266.5 1574) scale(1.0 1)" text-anchor="middle" font-size="28" font-weight="normal" fill="#000" xml:space="preserve">+15.0</text>
<text transform="translate(1447.5 1574) scale(1.0 1)" text-anchor="middle" font-size="28" font-weight="normal" fill="#000" xml:space="preserve">+22.2</text>
<text transform="translate(1627.5 1574) scale(1.0 1)" text-anchor="middle" font-size="28" font-weight="normal" fill="#000" xml:space="preserve">+16.3</text>
<text transform="translate(1808.5 1574) scale(1.0 1)" text-anchor="middle" font-size="28" font-weight="normal" fill="#000" xml:space="preserve">-13.6</text>
<text transform="translate(237.33 1613.8) scale(0.9857 1)" font-size="28" font-weight="normal" fill="#000" xml:space="preserve">UT</text>
<text transform="translate(440.5 1613.8) scale(1.0 1)" text-anchor="middle" font-size="28" font-weight="normal" fill="#000" xml:space="preserve">12:47</text>
<text transform="translate(621.5 1613.8) scale(1.0 1)" text-anchor="middle" font-size="28" font-weight="normal" fill="#000" xml:space="preserve">12:58</text>
<text transform="translate(802.5 1613.8) scale(1.0 1)" text-anchor="middle" font-size="28" font-weight="normal" fill="#000" xml:space="preserve">13:11</text>
<text transform="translate(1086.5 1613.8) scale(1.0 1)" text-anchor="middle" font-size="28" font-weight="normal" fill="#000" xml:space="preserve">11:47</text>
<text transform="translate(1266.5 1613.8) scale(1.0 1)" text-anchor="middle" font-size="28" font-weight="normal" fill="#000" xml:space="preserve">12:00</text>
<text transform="translate(1447.5 1613.8) scale(1.0 1)" text-anchor="middle" font-size="28" font-weight="normal" fill="#000" xml:space="preserve">12:12</text>
<text transform="translate(1627.5 1613.8) scale(1.0 1)" text-anchor="middle" font-size="28" font-weight="normal" fill="#000" xml:space="preserve">12:24</text>
<text transform="translate(1808.5 1613.8) scale(1.0 1)" text-anchor="middle" font-size="28" font-weight="normal" fill="#000" xml:space="preserve">12:36</text>
<text transform="translate(225.96 1654.7) scale(1.0375 1)" font-size="28" font-weight="normal" fill="#000" xml:space="preserve">SLT</text>
<text transform="translate(440.5 1654.7) scale(1.0 1)" text-anchor="middle" font-size="28" font-weight="normal" fill="#000" xml:space="preserve">15:00</text>
<text transform="translate(621.5 1654.7) scale(1.0 1)" text-anchor="middle" font-size="28" font-weight="normal" fill="#000" xml:space="preserve">18:00</text>
<text transform="translate(802.5 1654.7) scale(1.0 1)" text-anchor="middle" font-size="28" font-weight="normal" fill="#000" xml:space="preserve">21:00</text>
<text transform="translate(1086.5 1654.7) scale(1.0 1)" text-anchor="middle" font-size="28" font-weight="normal" fill="#000" xml:space="preserve">00:00</text>
<text transform="translate(1266.5 1654.7) scale(1.0 1)" text-anchor="middle" font-size="28" font-weight="normal" fill="#000" xml:space="preserve">03:00</text>
<text transform="translate(1447.5 1654.7) scale(1.0 1)" text-anchor="middle" font-size="28" font-weight="normal" fill="#000" xml:space="preserve">06:00</text>
<text transform="translate(1627.5 1654.7) scale(1.0 1)" text-anchor="middle" font-size="28" font-weight="normal" fill="#000" xml:space="preserve">09:00</text>
<text transform="translate(1808.5 1654.7) scale(1.0 1)" text-anchor="middle" font-size="28" font-weight="normal" fill="#000" xml:space="preserve">12:00</text>
<text transform="translate(185.2 1152.1) rotate(-90) scale(1.0077 1)" font-size="28" font-weight="normal" fill="#000" xml:space="preserve">Wavelength (km)</text>
<text transform="translate(1901 591.69) rotate(-90) scale(0.9857 1)" font-size="28" font-weight="normal" fill="#0c0cc4" xml:space="preserve">alt (km)</text>
<text transform="translate(1899.8 1664.75) rotate(-90) scale(0.9748 1)" font-size="22" font-weight="normal" fill="#000" xml:space="preserve">Preliminary corrected calibration,  2/11/09</text>
<text transform="translate(1924.9 1664.78) rotate(-90) scale(0.9876 1)" font-size="22" font-weight="normal" fill="#000" xml:space="preserve">Produced 07-Nov-2011 17:18:08</text>
<text transform="translate(178.7 598.86) rotate(-90) scale(0.9812 1)" font-size="28.5" font-weight="normal" fill="#000" xml:space="preserve">N</text>
<text transform="translate(192.7 579.6) rotate(-90) scale(1.0000 1)" font-size="18" font-weight="normal" fill="#000" xml:space="preserve">i</text>
<text transform="translate(178.7 565.53) rotate(-90) scale(0.9636 1)" font-size="28.5" font-weight="normal" fill="#000" xml:space="preserve">(cm</text>
<text transform="translate(166.8 519.94) rotate(-90) scale(1.2357 1)" font-size="18" font-weight="normal" fill="#000" xml:space="preserve">-3</text>
<text transform="translate(178.7 499.8) rotate(-90) scale(0.8250 1)" font-size="28.5" font-weight="normal" fill="#000" xml:space="preserve">)</text>
</svg>
</body></html>
